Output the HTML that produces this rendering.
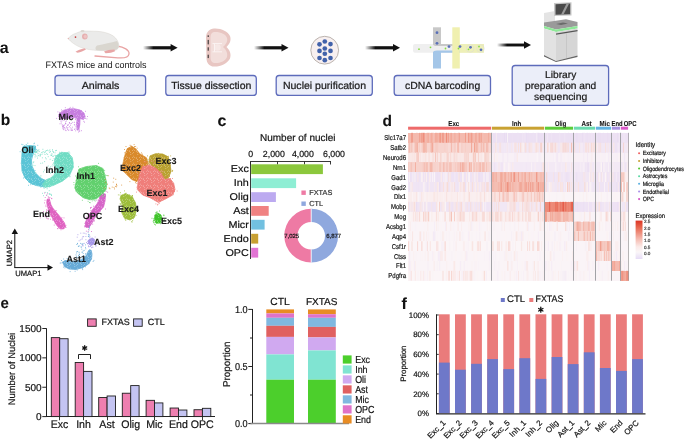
<!DOCTYPE html><html><head><meta charset="utf-8"><style>html,body{margin:0;padding:0;background:#fff;overflow:hidden}svg{display:block;font-family:"Liberation Sans", sans-serif;text-rendering:geometricPrecision;will-change:transform}</style></head><body><svg width="685" height="440" viewBox="0 0 685 440"><rect width="685" height="440" fill="#fff"/><text x="-0.20" y="53.30" font-size="16" font-weight="bold" text-anchor="start" fill="#111" >a</text>
<defs><linearGradient id="ag143" x1="143" x2="177.6" y1="0" y2="0" gradientUnits="userSpaceOnUse"><stop offset="0" stop-color="#111" stop-opacity="0"/><stop offset="0.3" stop-color="#111" stop-opacity="1"/><stop offset="1" stop-color="#111"/></linearGradient></defs>
<rect x="143.00" y="46.20" width="28.60" height="3.2" fill="url(#ag143)"/>
<path d="M170.60,44.10 L177.60,47.80 L170.60,51.50 Z" fill="#111"/>
<defs><linearGradient id="ag254" x1="254" x2="288.5" y1="0" y2="0" gradientUnits="userSpaceOnUse"><stop offset="0" stop-color="#111" stop-opacity="0"/><stop offset="0.3" stop-color="#111" stop-opacity="1"/><stop offset="1" stop-color="#111"/></linearGradient></defs>
<rect x="254.00" y="46.20" width="28.50" height="3.2" fill="url(#ag254)"/>
<path d="M281.50,44.10 L288.50,47.80 L281.50,51.50 Z" fill="#111"/>
<defs><linearGradient id="ag365" x1="365" x2="400" y1="0" y2="0" gradientUnits="userSpaceOnUse"><stop offset="0" stop-color="#111" stop-opacity="0"/><stop offset="0.3" stop-color="#111" stop-opacity="1"/><stop offset="1" stop-color="#111"/></linearGradient></defs>
<rect x="365.00" y="46.20" width="29.00" height="3.2" fill="url(#ag365)"/>
<path d="M393.00,44.10 L400.00,47.80 L393.00,51.50 Z" fill="#111"/>
<defs><linearGradient id="ag497" x1="497" x2="531" y1="0" y2="0" gradientUnits="userSpaceOnUse"><stop offset="0" stop-color="#111" stop-opacity="0"/><stop offset="0.3" stop-color="#111" stop-opacity="1"/><stop offset="1" stop-color="#111"/></linearGradient></defs>
<rect x="497.00" y="43.55" width="28.00" height="2.9" fill="url(#ag497)"/>
<path d="M524.00,41.30 L531.00,45.00 L524.00,48.70 Z" fill="#111"/>
<rect x="55.00" y="75.50" width="90.60" height="19.90" rx="3" ry="3" fill="#ebeef9" stroke="#5d6bbb" stroke-width="1.3"/>
<text x="100.55" y="89.20" font-size="10.3" text-anchor="middle" fill="#1a1a1a" stroke="#1a1a1a" stroke-width="0.22" textLength="37.8" lengthAdjust="spacingAndGlyphs">Animals</text>
<rect x="165.80" y="75.50" width="90.50" height="19.90" rx="3" ry="3" fill="#ebeef9" stroke="#5d6bbb" stroke-width="1.3"/>
<text x="211.30" y="89.20" font-size="10.3" text-anchor="middle" fill="#1a1a1a" stroke="#1a1a1a" stroke-width="0.22" textLength="80.2" lengthAdjust="spacingAndGlyphs">Tissue dissection</text>
<rect x="276.20" y="75.50" width="96.10" height="19.90" rx="3" ry="3" fill="#ebeef9" stroke="#5d6bbb" stroke-width="1.3"/>
<text x="324.50" y="89.20" font-size="10.3" text-anchor="middle" fill="#1a1a1a" stroke="#1a1a1a" stroke-width="0.22" textLength="83.2" lengthAdjust="spacingAndGlyphs">Nuclei purification</text>
<rect x="394.20" y="75.50" width="96.30" height="19.90" rx="3" ry="3" fill="#ebeef9" stroke="#5d6bbb" stroke-width="1.3"/>
<text x="442.60" y="89.20" font-size="10.3" text-anchor="middle" fill="#1a1a1a" stroke="#1a1a1a" stroke-width="0.22" textLength="75.2" lengthAdjust="spacingAndGlyphs">cDNA barcoding</text>
<rect x="512.20" y="65.50" width="96.40" height="39.90" rx="3" ry="3" fill="#ebeef9" stroke="#5d6bbb" stroke-width="1.3"/>
<text x="560.65" y="77.60" font-size="10" text-anchor="middle" fill="#1a1a1a" stroke="#1a1a1a" stroke-width="0.22" textLength="31.2" lengthAdjust="spacingAndGlyphs">Library</text>
<text x="560.65" y="89.00" font-size="10" text-anchor="middle" fill="#1a1a1a" stroke="#1a1a1a" stroke-width="0.22" textLength="71.2" lengthAdjust="spacingAndGlyphs">preparation and</text>
<text x="560.65" y="100.40" font-size="10" text-anchor="middle" fill="#1a1a1a" stroke="#1a1a1a" stroke-width="0.22" textLength="53.2" lengthAdjust="spacingAndGlyphs">sequencing</text>
<text x="45.50" y="67.50" font-size="9.4" text-anchor="start" fill="#141414" textLength="101" lengthAdjust="spacingAndGlyphs">FXTAS mice and controls</text>
<g>
<path d="M117,46 C124,47 129.5,50 129,54 C128.5,57.5 124,58.3 118,57.8 C110,57.2 102,56.5 95,56" fill="none" stroke="#e9a4a4" stroke-width="1.3" stroke-linecap="round"/>
<path d="M68,38.5 C70,36 73,34.2 76.5,33 C79,32 81,31.2 83,31 C88,31 92,31.2 97,31.3 C103,31.6 109,33.2 113,35.8 C116.5,38.3 118.8,42 118.8,45.5 C118.8,48 117.5,49.6 115.5,50.2 C110,50.8 104,50.8 98,50.5 C92,50.2 86,49.3 80.5,47.3 C75.5,45.3 71,42.2 68,38.5 Z" fill="#ebebea" stroke="#d8d5ce" stroke-width="0.5"/>
<path d="M97,45.5 C104,44 111,42.5 117,41 C118.5,43.5 119,46 118.5,47.5 C117.5,49.6 115,50.2 112,50.5 C106,50.8 100,50.5 96,50 C95,48.5 95.5,46.5 97,45.5 Z" fill="#d9d6cf"/>
<ellipse cx="84.8" cy="36.4" rx="2.8" ry="3.0" fill="#e6b0b0"/>
<ellipse cx="85.3" cy="36.6" rx="1.6" ry="1.8" fill="#eec4c4"/>
<ellipse cx="82.5" cy="31.2" rx="2.0" ry="1.1" fill="#dcd8d2"/>
<circle cx="75.5" cy="37.1" r="0.85" fill="#c43a3a"/>
<circle cx="68.4" cy="38.6" r="0.7" fill="#e8b0b0"/>
<path d="M75.5,51.8 C77.5,50.4 81,49.2 84.5,48.3 L86,49.5 C83.5,50.8 80.5,52.2 77.5,52.8 Z" fill="#e8a6a6"/>
<path d="M104,51.5 C106.5,50.3 110.5,49.8 114.5,49.6 L115,51.3 C112.5,52.6 109,53.4 105.5,53.3 Z" fill="#e8a6a6"/>
</g>
<g>
<path d="M214,28.5 C221,28 228,31.5 230,36 C231.5,40 229.8,44 226.5,47 C229.8,50 231.5,54 230,58.5 C228,63 221,66.8 214,66.6 C209,66.4 206.5,63 206.5,58 L206,37 C206.3,32 209.5,28.7 214,28.5 Z" fill="#e8c6c2"/>
<path d="M214,32 C220,31.5 226,34 227,38 C228,41 226,44.5 223,47 C226,49.5 228,53 227,57 C225.5,61 220,63.5 214,63 C211.5,62.5 210.5,60 210.5,57 L210.5,37 C210.5,34 212,32.2 214,32 Z" fill="#f2dedb"/>
<circle cx="217.5" cy="47.5" r="3.2" fill="#f6e8e6"/>
<path d="M212.5,43.6 H222 M212.5,51.8 H222 M214.5,43.6 V51.8" stroke="#fbf3f2" stroke-width="1" fill="none"/>
<path d="M208.2,35.3 V37 M208.2,39.9 V44.4 M208.2,47.3 V50.7 M208.2,54.7 V58.1" stroke="#222" stroke-width="1"/>
</g>
<circle cx="324.7" cy="50.2" r="13.9" fill="#f8f0f0" stroke="#a09890" stroke-width="0.7"/>
<circle cx="324.8" cy="41.5" r="2.35" fill="#4262aa"/>
<circle cx="319.5" cy="44.3" r="2.35" fill="#4262aa"/>
<circle cx="330.5" cy="44.1" r="2.35" fill="#4262aa"/>
<circle cx="324.8" cy="48.5" r="2.35" fill="#4262aa"/>
<circle cx="319.5" cy="50.9" r="2.35" fill="#4262aa"/>
<circle cx="330.5" cy="50.9" r="2.35" fill="#4262aa"/>
<circle cx="324.8" cy="53.75" r="2.35" fill="#4262aa"/>
<circle cx="319.5" cy="58" r="2.35" fill="#4262aa"/>
<circle cx="330.5" cy="58" r="2.35" fill="#4262aa"/>
<circle cx="324.8" cy="60.2" r="2.35" fill="#4262aa"/>
<g>
<rect x="413" y="44" width="71" height="8.8" rx="2" fill="#efefef"/>
<rect x="459.5" y="44" width="24.5" height="8.8" fill="#eef0b8"/>
<rect x="433" y="27.3" width="8" height="17" fill="#c8c8c8"/>
<path d="M433,44 H453 V46 H437 Q433,46 433,44 Z" fill="#c8c8c8"/>
<rect x="433" y="52" width="8" height="16.5" fill="#a4c6e8"/>
<path d="M433,52.8 Q433,50.5 437,50.5 H460 V52.8 Z" fill="#a4c6e8"/>
<rect x="452.3" y="27.3" width="7.5" height="41.2" fill="#f0f0b0"/>
<circle cx="437" cy="32.7" r="1.4" fill="#5a70b8"/>
<circle cx="437" cy="43.3" r="1.4" fill="#5a70b8"/>
<circle cx="449" cy="46.6" r="1.4" fill="#5a70b8"/>
<circle cx="460" cy="46.6" r="1.4" fill="#5a70b8"/>
<circle cx="470.5" cy="47.3" r="1.4" fill="#5a70b8"/>
<circle cx="481" cy="49.8" r="1.4" fill="#5a70b8"/>
<circle cx="419" cy="49.2" r="0.9" fill="#88dd44"/>
<circle cx="430.5" cy="47.3" r="0.9" fill="#88dd44"/>
<circle cx="445.5" cy="48.5" r="0.9" fill="#88dd44"/>
<circle cx="458.5" cy="48.5" r="0.9" fill="#88dd44"/>
<circle cx="468.5" cy="49.3" r="0.9" fill="#88dd44"/>
<circle cx="479" cy="46.5" r="0.9" fill="#88dd44"/>
<circle cx="470.2" cy="48.5" r="3.8" fill="none" stroke="#d8d8d8" stroke-width="0.5"/>
<circle cx="480.5" cy="48.5" r="3.8" fill="none" stroke="#d8d8d8" stroke-width="0.5"/>
</g>
<g>
<path d="M544,13 L555,11 L555,22 L544,24 Z" fill="#e4e4e4"/>
<path d="M554,3 L571.5,2.2 L571.5,15.5 L554,16 Z" fill="#c8c8c8"/>
<path d="M555.5,4.2 L570.2,3.6 L570.2,14.3 L555.5,14.8 Z" fill="#4a4a4a"/>
<path d="M561,14.8 L566.5,3.8 L569,3.7 L563.5,14.6 Z" fill="#9a9a9a"/>
<path d="M544,22.5 L566,19.2 L577.5,22 L577.5,26 L556,29.5 L544,26 Z" fill="#9a9a9a"/>
<path d="M556,24 L563,22.5 L568,23.5 L561,25 Z" fill="#6a6a6a"/>
<path d="M544,26 L556,29.5 L577.5,26 L577.5,28.5 L556,32 L544,28.5 Z" fill="#8ee898"/>
<path d="M544,28.5 L556,32 L556,61 L544,55 Z" fill="#e2e2e2"/>
<path d="M556,32 L577.5,28.5 L577.5,55.5 L556,61 Z" fill="#d6d6d6"/>
<path d="M556,33.5 L577.5,30 L577.5,31.2 L556,34.8 Z" fill="#555"/>
<line x1="566.5" y1="33" x2="566.5" y2="58.3" stroke="#bdbdbd" stroke-width="0.6"/>
<path d="M544,55 L556,61 L577.5,55.5 L577.5,57 L556,62 L544,56.5 Z" fill="#666"/>
</g>
<text x="0.80" y="125.20" font-size="15.5" font-weight="bold" fill="#111" stroke="#111" stroke-width="0.1" >b</text>
<defs><pattern id="speck" x="0" y="0" width="7" height="7" patternUnits="userSpaceOnUse"><circle cx="3.17" cy="3.92" r="0.38" fill="#fff"/><circle cx="6.47" cy="3.26" r="0.38" fill="#fff"/><circle cx="3.55" cy="4.11" r="0.38" fill="#fff"/><circle cx="1.29" cy="3.58" r="0.38" fill="#fff"/><circle cx="4.41" cy="5.55" r="0.38" fill="#fff"/><circle cx="0.66" cy="2.12" r="0.38" fill="#fff"/><circle cx="0.63" cy="5.67" r="0.38" fill="#fff"/><circle cx="4.85" cy="0.29" r="0.38" fill="#fff"/><circle cx="6.88" cy="6.75" r="0.38" fill="#fff"/></pattern></defs>
<path d="M58.7,117.0 L59.5,113.5 L63.0,110.5 L68.0,109.0 L74.0,108.7 L80.0,110.0 L84.0,113.0 L85.2,117.0 L83.5,119.5 L80.0,118.5 L79.8,124.0 L78.8,130.0 L77.0,130.0 L76.8,124.0 L77.0,118.5 L75.0,117.5 L70.0,118.0 L65.0,118.5 L61.0,118.5 Z" fill="#c77ee0" stroke="#c77ee0" stroke-width="0.8" stroke-linejoin="round"/>
<path d="M58.7,117.0 L59.5,113.5 L63.0,110.5 L68.0,109.0 L74.0,108.7 L80.0,110.0 L84.0,113.0 L85.2,117.0 L83.5,119.5 L80.0,118.5 L79.8,124.0 L78.8,130.0 L77.0,130.0 L76.8,124.0 L77.0,118.5 L75.0,117.5 L70.0,118.0 L65.0,118.5 L61.0,118.5 Z" fill="url(#speck)" fill-opacity="0.8"/>
<path d="M72.9,107.3h0.01 M56.7,118.4h0.01 M85.3,118.5h0.01 M87.6,116.5h0.01 M58.5,114.8h0.01 M59.5,112.4h0.01 M81.6,110.6h0.01 M73.9,117.9h0.01 M65.3,107.7h0.01 M86.9,118.9h0.01 M74.4,129.4h0.01 M61.6,109.9h0.01 M79.7,131.4h0.01 M84.4,122.2h0.01 M69.4,108.5h0.01 M57.9,111.9h0.01 M85.5,111.3h0.01 M70.2,107.4h0.01 M78.5,132.0h0.01 M79.7,130.3h0.01 M79.7,124.9h0.01 M81.5,130.7h0.01 M83.8,121.3h0.01 M74.6,122.3h0.01 M75.7,130.8h0.01" stroke="#c77ee0" stroke-width="0.9" stroke-linecap="round"/>
<path d="M23.0,146.5 L29.0,145.5 L35.5,146.0 L35.5,150.0 L33.0,154.0 L31.5,160.0 L32.0,166.0 L35.0,172.5 L40.5,178.0 L46.5,181.0 L47.0,186.0 L42.0,186.5 L36.0,185.5 L30.0,183.0 L25.0,178.0 L22.0,171.0 L21.5,162.0 L22.0,153.0 Z" fill="#5ac4d6" stroke="#5ac4d6" stroke-width="0.8" stroke-linejoin="round"/>
<path d="M23.0,146.5 L29.0,145.5 L35.5,146.0 L35.5,150.0 L33.0,154.0 L31.5,160.0 L32.0,166.0 L35.0,172.5 L40.5,178.0 L46.5,181.0 L47.0,186.0 L42.0,186.5 L36.0,185.5 L30.0,183.0 L25.0,178.0 L22.0,171.0 L21.5,162.0 L22.0,153.0 Z" fill="url(#speck)" fill-opacity="0.8"/>
<path d="M32.4,184.4h0.01 M40.9,187.2h0.01 M32.7,155.4h0.01 M28.4,181.9h0.01 M22.9,144.7h0.01 M43.9,187.5h0.01 M46.2,179.9h0.01 M28.6,185.3h0.01 M21.1,163.2h0.01 M33.9,143.8h0.01 M36.5,151.9h0.01 M48.6,185.9h0.01 M24.5,145.8h0.01 M21.8,144.3h0.01 M36.4,149.4h0.01 M34.6,143.2h0.01 M46.6,180.2h0.01 M20.1,151.7h0.01 M37.8,145.3h0.01 M35.1,170.6h0.01 M27.8,143.2h0.01 M26.2,144.5h0.01 M23.4,178.0h0.01 M30.8,184.7h0.01 M49.6,186.9h0.01" stroke="#5ac4d6" stroke-width="0.9" stroke-linecap="round"/>
<path d="M56.0,156.0 L61.3,152.3 L68.1,152.8 L72.2,157.5 L73.2,163.0 L72.9,168.0 L69.5,175.4 L62.7,181.0 L53.1,185.5 L45.0,187.5 L42.5,184.0 L46.3,180.0 L53.1,176.8 L55.9,171.3 L54.8,165.0 L54.5,160.4 Z" fill="#70dcc4" stroke="#70dcc4" stroke-width="0.8" stroke-linejoin="round"/>
<path d="M56.0,156.0 L61.3,152.3 L68.1,152.8 L72.2,157.5 L73.2,163.0 L72.9,168.0 L69.5,175.4 L62.7,181.0 L53.1,185.5 L45.0,187.5 L42.5,184.0 L46.3,180.0 L53.1,176.8 L55.9,171.3 L54.8,165.0 L54.5,160.4 Z" fill="url(#speck)" fill-opacity="0.8"/>
<path d="M42.2,186.6h0.01 M55.3,169.0h0.01 M43.7,186.1h0.01 M52.7,160.5h0.01 M59.4,152.3h0.01 M43.1,185.4h0.01 M68.0,152.4h0.01 M73.0,167.3h0.01 M52.9,164.3h0.01 M54.0,165.3h0.01 M69.0,151.9h0.01 M44.8,180.0h0.01 M54.0,163.2h0.01 M73.1,166.2h0.01 M69.8,176.8h0.01 M54.9,155.3h0.01 M53.3,156.2h0.01 M48.1,178.9h0.01 M45.0,181.0h0.01 M70.0,176.2h0.01 M53.3,171.5h0.01 M69.8,153.1h0.01 M73.3,166.9h0.01 M53.7,163.0h0.01 M52.1,176.1h0.01" stroke="#70dcc4" stroke-width="0.9" stroke-linecap="round"/>
<path d="M47.0,199.5 L49.5,199.5 L51.0,205.0 L53.5,209.0 L57.0,213.0 L61.0,218.0 L64.5,223.0 L65.5,227.0 L63.5,229.0 L59.5,228.5 L56.5,225.0 L53.0,219.0 L50.0,213.5 L48.0,208.0 L46.8,203.0 Z" fill="#df62c1" stroke="#df62c1" stroke-width="0.8" stroke-linejoin="round"/>
<path d="M47.0,199.5 L49.5,199.5 L51.0,205.0 L53.5,209.0 L57.0,213.0 L61.0,218.0 L64.5,223.0 L65.5,227.0 L63.5,229.0 L59.5,228.5 L56.5,225.0 L53.0,219.0 L50.0,213.5 L48.0,208.0 L46.8,203.0 Z" fill="url(#speck)" fill-opacity="0.8"/>
<path d="M46.4,209.9h0.01 M45.9,205.2h0.01 M64.0,217.9h0.01 M44.6,202.9h0.01 M48.7,213.1h0.01 M47.3,210.2h0.01 M55.4,211.1h0.01 M57.8,228.6h0.01 M51.7,198.4h0.01 M61.9,217.7h0.01 M56.2,210.6h0.01 M49.6,198.9h0.01 M54.2,225.1h0.01 M57.8,228.6h0.01 M51.8,198.7h0.01 M65.9,225.4h0.01 M45.0,200.3h0.01 M66.0,227.4h0.01 M61.0,229.8h0.01 M53.0,220.0h0.01 M50.6,219.2h0.01 M46.0,206.6h0.01 M50.7,216.0h0.01 M55.2,223.1h0.01 M52.7,219.9h0.01" stroke="#df62c1" stroke-width="0.9" stroke-linecap="round"/>
<path d="M100.0,193.5 L105.5,194.0 L105.0,201.0 L103.5,207.0 L99.0,212.0 L94.5,218.0 L92.0,223.0 L89.0,227.5 L85.5,227.0 L85.5,222.0 L88.5,216.0 L93.0,209.0 L97.0,204.0 L99.5,199.0 Z" fill="#d665c8" stroke="#d665c8" stroke-width="0.8" stroke-linejoin="round"/>
<path d="M100.0,193.5 L105.5,194.0 L105.0,201.0 L103.5,207.0 L99.0,212.0 L94.5,218.0 L92.0,223.0 L89.0,227.5 L85.5,227.0 L85.5,222.0 L88.5,216.0 L93.0,209.0 L97.0,204.0 L99.5,199.0 Z" fill="url(#speck)" fill-opacity="0.8"/>
<path d="M100.3,211.3h0.01 M98.3,199.9h0.01 M94.0,221.4h0.01 M88.3,213.7h0.01 M84.4,226.8h0.01 M89.4,214.0h0.01 M84.8,223.3h0.01 M86.7,218.1h0.01 M107.7,192.2h0.01 M94.3,220.3h0.01 M105.6,196.2h0.01 M96.8,200.2h0.01 M99.4,192.8h0.01 M105.5,209.0h0.01 M92.7,224.2h0.01 M90.5,208.4h0.01 M106.1,191.3h0.01 M84.7,225.8h0.01 M98.0,191.8h0.01 M90.6,207.5h0.01 M98.9,194.1h0.01 M93.6,206.2h0.01 M91.0,210.4h0.01 M86.8,217.1h0.01 M91.4,207.4h0.01" stroke="#d665c8" stroke-width="0.9" stroke-linecap="round"/>
<path d="M79.0,169.0 L86.5,166.5 L96.4,165.5 L103.0,168.5 L105.0,176.0 L106.8,183.6 L106.0,189.5 L102.0,194.0 L96.4,198.8 L90.0,199.8 L83.0,197.5 L77.5,193.0 L74.8,188.0 L76.0,182.5 L77.0,175.5 Z" fill="#62d06e" stroke="#62d06e" stroke-width="0.8" stroke-linejoin="round"/>
<path d="M79.0,169.0 L86.5,166.5 L96.4,165.5 L103.0,168.5 L105.0,176.0 L106.8,183.6 L106.0,189.5 L102.0,194.0 L96.4,198.8 L90.0,199.8 L83.0,197.5 L77.5,193.0 L74.8,188.0 L76.0,182.5 L77.0,175.5 Z" fill="url(#speck)" fill-opacity="0.8"/>
<path d="M98.4,163.4h0.01 M73.9,182.5h0.01 M95.2,201.0h0.01 M85.0,198.2h0.01 M75.7,190.9h0.01 M76.1,180.7h0.01 M103.8,195.9h0.01 M103.4,194.8h0.01 M76.6,177.7h0.01 M94.1,200.4h0.01 M102.2,196.3h0.01 M78.5,166.8h0.01 M105.7,175.0h0.01 M90.2,202.7h0.01 M74.0,184.7h0.01 M82.3,200.3h0.01 M103.3,193.4h0.01 M106.2,175.5h0.01 M75.4,176.0h0.01 M92.2,200.9h0.01 M88.1,201.3h0.01 M107.8,175.5h0.01 M89.6,202.5h0.01 M104.9,191.2h0.01 M104.7,170.4h0.01" stroke="#62d06e" stroke-width="0.9" stroke-linecap="round"/>
<path d="M88.5,240.0 L92.0,238.0 L94.5,239.5 L94.0,244.0 L91.0,245.5 L88.5,243.5 Z" fill="#a596e8" stroke="#a596e8" stroke-width="0.8" stroke-linejoin="round"/>
<path d="M88.5,240.0 L92.0,238.0 L94.5,239.5 L94.0,244.0 L91.0,245.5 L88.5,243.5 Z" fill="url(#speck)" fill-opacity="0.8"/>
<path d="M86.4,242.5h0.01 M94.9,241.6h0.01 M88.4,245.8h0.01 M95.8,245.4h0.01 M92.1,247.2h0.01 M95.1,237.0h0.01 M89.9,236.4h0.01 M85.9,239.7h0.01 M95.9,246.3h0.01 M90.2,246.5h0.01 M92.9,247.2h0.01 M88.0,243.5h0.01 M96.0,244.8h0.01 M87.9,244.0h0.01 M89.6,239.3h0.01 M96.8,243.2h0.01 M89.8,237.6h0.01 M87.3,243.5h0.01 M90.6,246.1h0.01 M91.6,247.7h0.01 M89.7,244.5h0.01 M88.3,242.8h0.01 M88.9,246.8h0.01 M88.9,246.5h0.01 M96.7,240.2h0.01" stroke="#a596e8" stroke-width="0.9" stroke-linecap="round"/>
<path d="M62.4,262.0 L66.0,260.5 L72.0,261.5 L79.0,260.5 L84.0,258.0 L87.0,254.5 L88.5,250.5 L91.0,250.0 L92.0,254.0 L91.5,259.0 L88.5,264.0 L83.0,267.5 L76.0,269.5 L69.0,269.0 L64.5,266.5 Z" fill="#67abd8" stroke="#67abd8" stroke-width="0.8" stroke-linejoin="round"/>
<path d="M62.4,262.0 L66.0,260.5 L72.0,261.5 L79.0,260.5 L84.0,258.0 L87.0,254.5 L88.5,250.5 L91.0,250.0 L92.0,254.0 L91.5,259.0 L88.5,264.0 L83.0,267.5 L76.0,269.5 L69.0,269.0 L64.5,266.5 Z" fill="url(#speck)" fill-opacity="0.8"/>
<path d="M75.1,271.3h0.01 M83.2,255.8h0.01 M60.2,263.1h0.01 M88.9,263.6h0.01 M85.4,266.8h0.01 M63.7,259.0h0.01 M63.4,267.1h0.01 M70.1,259.9h0.01 M87.1,253.3h0.01 M67.1,258.5h0.01 M79.3,258.7h0.01 M89.7,249.7h0.01 M93.9,260.4h0.01 M64.9,267.9h0.01 M65.0,260.5h0.01 M70.1,271.6h0.01 M82.3,268.6h0.01 M71.1,259.5h0.01 M82.7,269.6h0.01 M93.1,261.5h0.01 M77.2,270.0h0.01 M85.7,253.6h0.01 M61.6,260.5h0.01 M70.6,259.7h0.01 M61.1,262.9h0.01" stroke="#67abd8" stroke-width="0.9" stroke-linecap="round"/>
<path d="M127.3,148.6 L131.8,146.3 L135.5,148.6 L140.0,154.0 L146.4,157.7 L148.2,164.0 L142.7,171.4 L140.0,178.6 L136.4,181.4 L131.8,179.5 L127.3,175.0 L121.8,169.5 L123.6,160.5 L125.5,153.2 Z" fill="#d98a2b" stroke="#d98a2b" stroke-width="0.8" stroke-linejoin="round"/>
<path d="M127.3,148.6 L131.8,146.3 L135.5,148.6 L140.0,154.0 L146.4,157.7 L148.2,164.0 L142.7,171.4 L140.0,178.6 L136.4,181.4 L131.8,179.5 L127.3,175.0 L121.8,169.5 L123.6,160.5 L125.5,153.2 Z" fill="url(#speck)" fill-opacity="0.8"/>
<path d="M136.7,181.4h0.01 M137.0,181.2h0.01 M134.1,144.6h0.01 M140.6,181.4h0.01 M124.1,157.7h0.01 M141.4,152.9h0.01 M136.9,183.4h0.01 M148.3,162.0h0.01 M142.4,154.2h0.01 M140.2,181.1h0.01 M149.4,164.1h0.01 M137.1,148.2h0.01 M135.7,146.5h0.01 M134.5,146.5h0.01 M135.6,182.7h0.01 M145.7,171.6h0.01 M124.5,149.5h0.01 M124.8,152.8h0.01 M131.1,146.0h0.01 M129.9,181.6h0.01 M123.2,171.2h0.01 M149.6,161.9h0.01 M130.1,145.3h0.01 M126.0,146.5h0.01 M148.7,164.0h0.01" stroke="#d98a2b" stroke-width="0.9" stroke-linecap="round"/>
<path d="M150.0,155.9 L155.5,153.7 L162.7,154.0 L168.2,156.8 L170.0,164.0 L171.0,171.4 L168.2,178.6 L163.6,179.5 L161.0,174.0 L156.4,169.5 L151.8,165.9 L149.0,161.4 Z" fill="#b9a12f" stroke="#b9a12f" stroke-width="0.8" stroke-linejoin="round"/>
<path d="M150.0,155.9 L155.5,153.7 L162.7,154.0 L168.2,156.8 L170.0,164.0 L171.0,171.4 L168.2,178.6 L163.6,179.5 L161.0,174.0 L156.4,169.5 L151.8,165.9 L149.0,161.4 Z" fill="url(#speck)" fill-opacity="0.8"/>
<path d="M147.5,155.9h0.01 M146.4,160.4h0.01 M170.7,169.2h0.01 M170.7,155.9h0.01 M153.5,169.0h0.01 M158.4,153.4h0.01 M169.2,176.1h0.01 M161.5,180.8h0.01 M169.4,176.3h0.01 M168.4,156.3h0.01 M163.1,179.7h0.01 M172.1,171.2h0.01 M161.9,180.7h0.01 M165.2,180.7h0.01 M172.7,170.4h0.01 M172.6,171.0h0.01 M164.0,180.5h0.01 M150.2,168.2h0.01 M148.0,159.3h0.01 M149.6,164.2h0.01 M157.3,171.4h0.01 M148.0,163.1h0.01 M170.6,165.2h0.01 M157.2,172.0h0.01 M158.2,171.5h0.01" stroke="#b9a12f" stroke-width="0.9" stroke-linecap="round"/>
<path d="M142.7,166.8 L150.0,165.0 L156.4,168.6 L161.0,173.2 L164.5,179.5 L170.0,178.6 L173.6,183.2 L175.0,189.5 L172.7,195.0 L164.5,199.5 L158.2,202.3 L150.0,197.7 L142.7,195.0 L137.3,189.5 L138.2,180.5 L140.0,173.2 Z" fill="#ef7e7a" stroke="#ef7e7a" stroke-width="0.8" stroke-linejoin="round"/>
<path d="M142.7,166.8 L150.0,165.0 L156.4,168.6 L161.0,173.2 L164.5,179.5 L170.0,178.6 L173.6,183.2 L175.0,189.5 L172.7,195.0 L164.5,199.5 L158.2,202.3 L150.0,197.7 L142.7,195.0 L137.3,189.5 L138.2,180.5 L140.0,173.2 Z" fill="url(#speck)" fill-opacity="0.8"/>
<path d="M157.9,204.4h0.01 M161.1,171.6h0.01 M136.9,187.2h0.01 M168.4,176.1h0.01 M157.5,204.9h0.01 M159.2,203.3h0.01 M170.5,178.5h0.01 M164.9,176.6h0.01 M174.3,191.3h0.01 M136.4,192.1h0.01 M173.1,194.7h0.01 M137.6,172.7h0.01 M158.9,202.7h0.01 M163.0,171.3h0.01 M162.1,173.4h0.01 M140.4,170.7h0.01 M155.9,203.9h0.01 M174.4,191.2h0.01 M177.1,191.0h0.01 M160.2,201.6h0.01 M140.8,169.0h0.01 M172.6,178.5h0.01 M139.2,174.4h0.01 M142.6,166.9h0.01 M161.2,170.4h0.01" stroke="#ef7e7a" stroke-width="0.9" stroke-linecap="round"/>
<path d="M121.0,195.5 L125.5,193.6 L131.8,196.4 L135.5,202.7 L136.4,210.0 L134.5,217.3 L130.0,220.0 L124.5,218.2 L121.8,212.7 L122.7,204.5 L120.0,199.0 Z" fill="#9dbd3a" stroke="#9dbd3a" stroke-width="0.8" stroke-linejoin="round"/>
<path d="M121.0,195.5 L125.5,193.6 L131.8,196.4 L135.5,202.7 L136.4,210.0 L134.5,217.3 L130.0,220.0 L124.5,218.2 L121.8,212.7 L122.7,204.5 L120.0,199.0 Z" fill="url(#speck)" fill-opacity="0.8"/>
<path d="M124.5,190.9h0.01 M136.9,209.6h0.01 M132.7,220.6h0.01 M121.2,203.3h0.01 M136.1,215.4h0.01 M133.6,218.7h0.01 M131.7,221.7h0.01 M120.2,203.7h0.01 M129.6,194.9h0.01 M121.3,205.1h0.01 M132.5,196.7h0.01 M133.0,198.1h0.01 M132.4,195.5h0.01 M121.5,210.6h0.01 M132.1,222.0h0.01 M120.6,192.7h0.01 M136.8,208.6h0.01 M118.3,194.9h0.01 M125.8,220.4h0.01 M126.0,193.2h0.01 M132.2,195.5h0.01 M120.3,204.3h0.01 M125.2,219.4h0.01 M120.0,195.0h0.01 M121.8,205.0h0.01" stroke="#9dbd3a" stroke-width="0.9" stroke-linecap="round"/>
<path d="M155.0,215.0 L158.0,213.2 L161.0,215.0 L161.8,219.0 L160.0,223.0 L156.0,223.2 L154.5,219.0 Z" fill="#3fc42a" stroke="#3fc42a" stroke-width="0.8" stroke-linejoin="round"/>
<path d="M155.0,215.0 L158.0,213.2 L161.0,215.0 L161.8,219.0 L160.0,223.0 L156.0,223.2 L154.5,219.0 Z" fill="url(#speck)" fill-opacity="0.8"/>
<path d="M159.5,211.0h0.01 M163.9,215.6h0.01 M153.4,222.7h0.01 M155.5,224.9h0.01 M154.3,220.5h0.01 M164.1,220.1h0.01 M152.0,218.3h0.01 M153.4,218.9h0.01 M155.7,212.9h0.01 M161.4,222.3h0.01 M160.8,221.8h0.01 M157.7,212.1h0.01 M162.5,218.1h0.01 M156.4,213.0h0.01 M164.5,219.9h0.01 M153.2,221.4h0.01 M161.7,219.9h0.01 M162.8,223.0h0.01 M160.5,223.7h0.01 M154.8,215.2h0.01 M163.8,215.0h0.01 M156.5,212.1h0.01 M153.4,220.4h0.01 M154.9,222.3h0.01 M154.5,224.2h0.01" stroke="#3fc42a" stroke-width="0.9" stroke-linecap="round"/>
<path d="M40.8,163.3h0.01 M37.4,158.1h0.01 M42.3,157.8h0.01 M49.0,150.8h0.01 M47.1,172.5h0.01 M40.2,155.4h0.01 M35.6,152.2h0.01 M50.4,166.9h0.01 M33.3,162.7h0.01 M46.2,158.9h0.01 M33.8,161.8h0.01 M40.8,177.2h0.01 M40.9,175.8h0.01 M52.1,166.1h0.01 M35.8,172.6h0.01 M35.0,165.6h0.01 M35.1,152.6h0.01 M42.0,154.4h0.01 M54.8,166.2h0.01 M52.7,176.8h0.01 M49.7,168.1h0.01 M43.4,171.8h0.01 M47.7,154.4h0.01 M44.7,161.6h0.01 M44.3,170.0h0.01 M48.2,166.0h0.01 M50.4,173.1h0.01 M35.0,154.1h0.01 M34.0,154.5h0.01 M54.1,158.7h0.01 M42.7,163.0h0.01 M45.4,157.8h0.01 M50.1,159.3h0.01 M51.6,172.5h0.01 M33.0,165.3h0.01" stroke="#70dcc4" stroke-width="0.9" stroke-linecap="round"/>
<path d="M37.0,156.1h0.01 M36.5,151.1h0.01 M51.9,153.7h0.01 M49.7,152.3h0.01 M46.5,150.6h0.01 M45.2,151.1h0.01 M49.9,149.9h0.01 M38.0,150.6h0.01 M46.7,153.7h0.01 M35.1,156.9h0.01 M53.4,152.0h0.01 M38.5,155.6h0.01 M56.5,150.4h0.01 M51.6,155.5h0.01 M55.6,150.7h0.01 M37.7,150.3h0.01 M40.1,156.2h0.01 M55.0,152.8h0.01 M37.8,151.8h0.01 M40.3,154.2h0.01 M50.8,155.2h0.01 M44.6,152.7h0.01 M45.3,152.0h0.01 M45.0,154.5h0.01 M50.6,151.6h0.01 M47.5,150.2h0.01 M36.0,152.1h0.01 M42.9,149.3h0.01 M36.7,152.4h0.01 M55.7,155.7h0.01 M35.7,151.5h0.01 M43.1,151.5h0.01 M38.0,153.7h0.01 M53.5,152.1h0.01 M38.9,149.8h0.01 M35.3,155.1h0.01 M40.1,154.8h0.01 M52.4,149.7h0.01 M39.2,151.5h0.01 M51.9,154.9h0.01 M41.7,152.6h0.01 M42.8,152.8h0.01 M52.5,151.1h0.01 M52.8,156.4h0.01 M48.2,156.7h0.01" stroke="#70dcc4" stroke-width="0.9" stroke-linecap="round"/>
<path d="M77.8,120.2h0.01 M78.8,120.6h0.01 M75.3,119.6h0.01 M65.8,123.7h0.01 M75.9,126.8h0.01 M63.9,129.7h0.01 M76.4,124.6h0.01 M61.0,121.7h0.01 M65.6,123.4h0.01 M77.9,125.7h0.01 M75.6,118.9h0.01 M64.7,127.5h0.01 M66.5,121.0h0.01 M61.2,118.7h0.01 M67.8,125.1h0.01 M67.6,125.3h0.01 M65.5,118.2h0.01 M72.8,122.4h0.01 M69.3,122.9h0.01 M65.1,118.7h0.01 M65.6,121.9h0.01 M62.2,118.4h0.01 M69.1,118.3h0.01 M76.7,122.7h0.01 M68.4,124.8h0.01 M60.5,119.3h0.01 M74.9,125.2h0.01 M69.4,122.5h0.01 M74.3,124.5h0.01 M75.1,128.9h0.01" stroke="#c77ee0" stroke-width="0.9" stroke-linecap="round"/>
<path d="M71.8,128.8h0.01 M69.4,126.7h0.01 M67.9,127.6h0.01 M67.8,129.6h0.01 M71.4,123.4h0.01 M70.3,127.9h0.01 M68.6,130.3h0.01 M62.5,126.8h0.01 M66.1,130.6h0.01 M63.8,127.5h0.01 M63.6,129.0h0.01 M67.4,128.9h0.01 M65.4,130.1h0.01 M62.1,124.8h0.01 M70.1,130.0h0.01 M70.5,125.2h0.01 M62.9,128.7h0.01 M70.0,123.5h0.01 M72.3,127.2h0.01 M62.4,126.8h0.01 M65.7,123.8h0.01 M71.7,130.5h0.01 M63.4,126.6h0.01 M65.0,128.4h0.01 M63.2,125.7h0.01 M66.5,126.8h0.01 M66.8,127.8h0.01 M72.3,130.5h0.01 M72.0,129.6h0.01 M64.5,125.0h0.01" stroke="#c77ee0" stroke-width="0.9" stroke-linecap="round"/>
<path d="M61.3,123.1h0.01 M62.0,120.8h0.01 M64.0,120.5h0.01 M59.1,118.7h0.01 M60.0,123.8h0.01 M63.2,118.3h0.01 M60.2,119.9h0.01 M62.9,125.2h0.01 M60.3,118.8h0.01 M63.8,125.8h0.01" stroke="#c77ee0" stroke-width="0.9" stroke-linecap="round"/>
<path d="M49.2,190.7h0.01 M49.5,193.7h0.01 M47.1,188.7h0.01 M47.3,192.6h0.01 M45.2,192.4h0.01 M43.5,195.7h0.01 M44.1,188.3h0.01 M51.6,195.5h0.01 M51.3,194.4h0.01 M50.5,194.2h0.01 M47.7,186.7h0.01 M49.3,194.4h0.01 M50.4,186.4h0.01 M42.6,193.3h0.01 M46.9,194.9h0.01" stroke="#70dcc4" stroke-width="0.9" stroke-linecap="round"/>
<path d="M49.9,197.5h0.01 M48.1,199.7h0.01 M48.2,196.7h0.01 M47.8,193.7h0.01 M49.4,200.2h0.01 M48.8,197.6h0.01 M45.2,197.5h0.01 M48.1,198.5h0.01 M44.7,193.0h0.01 M46.4,195.4h0.01" stroke="#df62c1" stroke-width="0.9" stroke-linecap="round"/>
<path d="M42.3,212.8h0.01 M44.2,216.6h0.01 M49.1,216.4h0.01 M40.2,217.9h0.01 M46.1,216.9h0.01 M46.1,213.8h0.01 M43.4,211.6h0.01 M46.6,211.4h0.01 M46.8,218.3h0.01 M46.7,215.8h0.01 M48.1,218.7h0.01 M48.1,218.9h0.01" stroke="#df62c1" stroke-width="0.9" stroke-linecap="round"/>
<path d="M84.8,233.2h0.01 M87.4,241.3h0.01 M91.7,241.0h0.01 M83.2,233.1h0.01 M91.1,241.1h0.01 M93.8,240.7h0.01 M91.5,243.0h0.01 M93.8,239.0h0.01 M92.3,238.2h0.01 M77.2,237.2h0.01 M83.0,245.9h0.01 M83.7,236.6h0.01 M88.7,234.3h0.01 M82.2,238.1h0.01 M79.1,240.8h0.01 M84.2,243.4h0.01 M82.8,245.7h0.01 M80.3,239.9h0.01 M80.8,233.2h0.01 M82.1,244.6h0.01 M82.0,239.3h0.01 M85.9,236.5h0.01 M86.1,233.9h0.01 M82.9,236.7h0.01 M90.9,243.0h0.01 M88.9,240.7h0.01 M91.7,242.6h0.01 M77.9,234.7h0.01" stroke="#a596e8" stroke-width="0.9" stroke-linecap="round"/>
<path d="M83.5,255.6h0.01 M85.9,254.6h0.01 M77.6,251.5h0.01 M82.2,252.1h0.01 M77.3,257.5h0.01 M81.1,247.0h0.01 M85.8,248.8h0.01 M76.7,253.0h0.01 M78.6,246.3h0.01 M79.0,252.1h0.01 M79.2,253.0h0.01 M85.1,257.9h0.01 M84.9,256.8h0.01 M78.5,255.4h0.01 M76.9,251.7h0.01 M76.8,244.5h0.01 M85.5,244.9h0.01 M83.2,250.9h0.01 M76.0,254.9h0.01 M76.6,256.3h0.01 M84.2,250.4h0.01 M80.5,243.4h0.01 M83.0,243.6h0.01 M81.3,256.9h0.01 M82.8,244.7h0.01 M83.2,253.5h0.01 M79.3,254.6h0.01 M81.8,249.2h0.01 M81.3,247.1h0.01 M78.9,256.3h0.01 M79.5,254.6h0.01 M79.7,245.9h0.01 M76.0,257.5h0.01 M83.5,257.7h0.01 M81.9,243.9h0.01 M77.6,243.7h0.01 M82.1,252.3h0.01 M85.6,247.4h0.01 M78.3,246.3h0.01 M77.5,243.4h0.01" stroke="#67abd8" stroke-width="0.9" stroke-linecap="round"/>
<path d="M89.0,230.0h0.01 M88.7,236.4h0.01 M88.6,234.9h0.01 M89.1,226.2h0.01 M88.1,232.3h0.01 M89.7,225.6h0.01 M89.4,227.8h0.01 M89.4,235.0h0.01 M89.5,227.9h0.01 M88.3,236.6h0.01" stroke="#67abd8" stroke-width="0.9" stroke-linecap="round"/>
<path d="M91.5,231.5h0.01 M89.2,225.4h0.01 M88.2,231.4h0.01 M86.4,227.1h0.01 M86.3,231.2h0.01 M88.1,225.6h0.01 M88.1,226.4h0.01 M88.6,229.3h0.01" stroke="#d665c8" stroke-width="0.9" stroke-linecap="round"/>
<path d="M153.2,161.4h0.01 M151.5,160.8h0.01 M150.2,172.1h0.01 M147.7,172.3h0.01 M147.4,165.9h0.01 M155.1,160.1h0.01 M151.8,168.0h0.01 M154.0,174.2h0.01 M153.7,163.4h0.01 M146.8,167.2h0.01 M147.9,168.3h0.01 M145.3,170.4h0.01 M149.8,160.7h0.01 M145.7,174.0h0.01 M155.9,173.2h0.01 M149.5,174.8h0.01 M146.4,170.9h0.01 M157.2,163.1h0.01 M144.1,161.9h0.01 M145.2,172.1h0.01 M152.5,167.1h0.01 M145.6,169.6h0.01 M145.9,162.0h0.01 M152.3,169.7h0.01 M155.2,172.4h0.01" stroke="#ef7e7a" stroke-width="0.9" stroke-linecap="round"/>
<path d="M105.6,179.6h0.01 M105.7,182.4h0.01 M104.3,188.0h0.01 M112.2,187.1h0.01 M109.9,188.7h0.01 M114.0,187.4h0.01 M113.7,178.2h0.01 M108.1,175.8h0.01 M113.2,182.1h0.01 M115.8,179.3h0.01 M109.2,188.0h0.01 M115.6,186.4h0.01 M114.6,188.9h0.01 M107.3,184.3h0.01" stroke="#d98a2b" stroke-width="0.9" stroke-linecap="round"/>
<path d="M116.4,186.8h0.01 M121.7,185.1h0.01 M116.9,185.7h0.01 M116.4,184.6h0.01 M116.5,184.2h0.01" stroke="#d98a2b" stroke-width="0.9" stroke-linecap="round"/>
<text x="58.60" y="120.00" font-size="9" font-weight="bold" fill="#1a1a1a" stroke="#1a1a1a" stroke-width="0.1" >Mic</text>
<text x="21.60" y="153.20" font-size="9" font-weight="bold" fill="#1a1a1a" stroke="#1a1a1a" stroke-width="0.1" >Oli</text>
<text x="45.50" y="173.20" font-size="9" font-weight="bold" fill="#1a1a1a" stroke="#1a1a1a" stroke-width="0.1" >Inh2</text>
<text x="76.40" y="179.20" font-size="9" font-weight="bold" fill="#1a1a1a" stroke="#1a1a1a" stroke-width="0.1" >Inh1</text>
<text x="120.00" y="170.90" font-size="9" font-weight="bold" fill="#1a1a1a" stroke="#1a1a1a" stroke-width="0.1" >Exc2</text>
<text x="155.50" y="164.20" font-size="9" font-weight="bold" fill="#1a1a1a" stroke="#1a1a1a" stroke-width="0.1" >Exc3</text>
<text x="146.40" y="195.50" font-size="9" font-weight="bold" fill="#1a1a1a" stroke="#1a1a1a" stroke-width="0.1" >Exc1</text>
<text x="118.00" y="212.20" font-size="9" font-weight="bold" fill="#1a1a1a" stroke="#1a1a1a" stroke-width="0.1" >Exc4</text>
<text x="161.00" y="223.70" font-size="9" font-weight="bold" fill="#1a1a1a" stroke="#1a1a1a" stroke-width="0.1" >Exc5</text>
<text x="33.00" y="217.20" font-size="9" font-weight="bold" fill="#1a1a1a" stroke="#1a1a1a" stroke-width="0.1" >End</text>
<text x="82.70" y="218.70" font-size="9" font-weight="bold" fill="#1a1a1a" stroke="#1a1a1a" stroke-width="0.1" >OPC</text>
<text x="94.00" y="245.10" font-size="9" font-weight="bold" fill="#1a1a1a" stroke="#1a1a1a" stroke-width="0.1" >Ast2</text>
<text x="66.60" y="262.20" font-size="9" font-weight="bold" fill="#1a1a1a" stroke="#1a1a1a" stroke-width="0.1" >Ast1</text>
<line x1="14.80" y1="233.00" x2="14.80" y2="267.60" stroke="#111" stroke-width="1" />
<line x1="14.30" y1="267.60" x2="48.00" y2="267.60" stroke="#111" stroke-width="1" />
<path d="M11.6,234 L14.8,228.6 L18,234 Z" fill="#111"/>
<path d="M47.5,264.4 L53,267.6 L47.5,270.8 Z" fill="#111"/>
<text x="15.30" y="275.60" font-size="7.6" fill="#141414" stroke="#141414" stroke-width="0.2" >UMAP1</text>
<text x="0" y="0" font-size="7.6" fill="#141414" stroke="#141414" stroke-width="0.2" transform="translate(12.2,266.2) rotate(-90)">UMAP2</text>
<text x="217.60" y="125.60" font-size="16" font-weight="bold" fill="#111" stroke="#111" stroke-width="0.1" >c</text>
<text x="260.00" y="141.30" font-size="10" fill="#141414" stroke="#141414" stroke-width="0.2" textLength="75.5" lengthAdjust="spacingAndGlyphs">Number of nuclei</text>
<text x="248.20" y="156.60" font-size="8.8" fill="#141414" stroke="#141414" stroke-width="0.2" >0</text>
<text x="262.80" y="156.60" font-size="8.8" fill="#141414" stroke="#141414" stroke-width="0.2" >2,000</text>
<text x="291.90" y="156.60" font-size="8.8" fill="#141414" stroke="#141414" stroke-width="0.2" >4,000</text>
<text x="323.00" y="156.60" font-size="8.8" fill="#141414" stroke="#141414" stroke-width="0.2" >6,000</text>
<line x1="250.50" y1="161.50" x2="331.00" y2="161.50" stroke="#222" stroke-width="0.9" />
<line x1="250.50" y1="161.50" x2="250.50" y2="164.50" stroke="#222" stroke-width="0.9" />
<line x1="277.50" y1="161.50" x2="277.50" y2="164.50" stroke="#222" stroke-width="0.9" />
<line x1="304.50" y1="161.50" x2="304.50" y2="164.50" stroke="#222" stroke-width="0.9" />
<line x1="330.50" y1="161.50" x2="330.50" y2="164.50" stroke="#222" stroke-width="0.9" />
<line x1="250.50" y1="161.20" x2="250.50" y2="259.00" stroke="#222" stroke-width="0.9" />
<rect x="251.20" y="164.30" width="71.70" height="9.80" fill="#8cc83c" />
<text x="248.80" y="172.20" font-size="9.9" text-anchor="end" fill="#111" stroke="#111" stroke-width="0.2" textLength="18.00" lengthAdjust="spacingAndGlyphs">Exc</text>
<rect x="251.20" y="178.30" width="44.90" height="9.80" fill="#8eeed4" />
<text x="248.80" y="186.20" font-size="9.9" text-anchor="end" fill="#111" stroke="#111" stroke-width="0.2" textLength="15.01" lengthAdjust="spacingAndGlyphs">Inh</text>
<rect x="251.20" y="192.20" width="24.70" height="9.80" fill="#bcaaf0" />
<text x="248.80" y="200.10" font-size="9.9" text-anchor="end" fill="#111" stroke="#111" stroke-width="0.2" textLength="19.21" lengthAdjust="spacingAndGlyphs">Olig</text>
<rect x="251.20" y="206.00" width="17.50" height="9.80" fill="#f08282" />
<text x="248.80" y="213.90" font-size="9.9" text-anchor="end" fill="#111" stroke="#111" stroke-width="0.2" textLength="15.60" lengthAdjust="spacingAndGlyphs">Ast</text>
<rect x="251.20" y="219.80" width="13.40" height="9.80" fill="#72c0e0" />
<text x="248.80" y="227.70" font-size="9.9" text-anchor="end" fill="#111" stroke="#111" stroke-width="0.2" textLength="20.39" lengthAdjust="spacingAndGlyphs">Micr</text>
<rect x="251.20" y="233.80" width="7.00" height="9.80" fill="#c8a032" />
<text x="248.80" y="241.70" font-size="9.9" text-anchor="end" fill="#111" stroke="#111" stroke-width="0.2" textLength="25.22" lengthAdjust="spacingAndGlyphs">Endo</text>
<rect x="251.20" y="247.80" width="7.00" height="9.80" fill="#e274d4" />
<text x="248.80" y="255.70" font-size="9.9" text-anchor="end" fill="#111" stroke="#111" stroke-width="0.2" textLength="23.40" lengthAdjust="spacingAndGlyphs">OPC</text>
<rect x="301.40" y="190.50" width="4.40" height="4.40" fill="#ee7aa4" />
<rect x="301.40" y="201.50" width="4.40" height="4.40" fill="#8fa8de" />
<text x="309.30" y="195.10" font-size="7.3" fill="#333" stroke="#333" stroke-width="0.2" >FXTAS</text>
<text x="309.30" y="206.10" font-size="7.3" fill="#333" stroke="#333" stroke-width="0.2" >CTL</text>
<path d="M311.2,208.79999999999998 A26.9,26.9 0 0 0 311.2,262.59999999999997 L311.2,249.5 A13.8,13.8 0 0 1 311.2,221.89999999999998 Z" fill="#ee7aa4"/>
<path d="M311.2,208.79999999999998 A26.9,26.9 0 0 1 311.2,262.59999999999997 L311.2,249.5 A13.8,13.8 0 0 0 311.2,221.89999999999998 Z" fill="#8fa8de"/>
<line x1="311.20" y1="208.80" x2="311.20" y2="221.90" stroke="#fff" stroke-width="0.8" />
<line x1="311.20" y1="249.50" x2="311.20" y2="262.60" stroke="#fff" stroke-width="0.8" />
<text x="284.20" y="238.00" font-size="6" fill="#141414" stroke="#141414" stroke-width="0.2" >7,025</text>
<text x="326.20" y="238.00" font-size="6" fill="#141414" stroke="#141414" stroke-width="0.2" >6,877</text>
<text x="382.50" y="125.50" font-size="15.5" font-weight="bold" fill="#111" stroke="#111" stroke-width="0.1" >d</text>
<rect x="408.10" y="126.70" width="83.10" height="3.00" fill="#ee6a6a" />
<rect x="492.00" y="126.70" width="52.20" height="3.00" fill="#c9a232" />
<rect x="545.00" y="126.70" width="28.00" height="3.00" fill="#5ccc3a" />
<rect x="573.80" y="126.70" width="21.20" height="3.00" fill="#6cdcb0" />
<rect x="595.80" y="126.70" width="15.30" height="3.00" fill="#62b4e2" />
<rect x="611.90" y="126.70" width="8.10" height="3.00" fill="#a992e2" />
<rect x="620.80" y="126.70" width="7.30" height="3.00" fill="#d95ac8" />
<text x="448.30" y="125.90" font-size="7.2" font-weight="bold" fill="#111" stroke="#111" stroke-width="0.1" textLength="11.00" lengthAdjust="spacingAndGlyphs">Exc</text>
<text x="512.00" y="125.90" font-size="7.2" font-weight="bold" fill="#111" stroke="#111" stroke-width="0.1" textLength="9.20" lengthAdjust="spacingAndGlyphs">Inh</text>
<text x="555.00" y="125.90" font-size="7.2" font-weight="bold" fill="#111" stroke="#111" stroke-width="0.1" textLength="11.20" lengthAdjust="spacingAndGlyphs">Olig</text>
<text x="581.60" y="125.90" font-size="7.2" font-weight="bold" fill="#111" stroke="#111" stroke-width="0.1" textLength="10.10" lengthAdjust="spacingAndGlyphs">Ast</text>
<text x="599.60" y="125.90" font-size="7.2" font-weight="bold" fill="#111" stroke="#111" stroke-width="0.1" textLength="10.40" lengthAdjust="spacingAndGlyphs">Mic</text>
<text x="611.60" y="125.90" font-size="7.2" font-weight="bold" fill="#111" stroke="#111" stroke-width="0.1" textLength="11.10" lengthAdjust="spacingAndGlyphs">End</text>
<text x="623.70" y="125.90" font-size="7.2" font-weight="bold" fill="#111" stroke="#111" stroke-width="0.1" textLength="12.70" lengthAdjust="spacingAndGlyphs">OPC</text>
<rect x="408.10" y="132.80" width="83.50" height="9.86" fill="#f4baae" shape-rendering="crispEdges"/>
<rect x="411.3" y="132.80" width="0.8" height="9.86" fill="#ef9381"/>
<rect x="412.1" y="132.80" width="0.8" height="9.86" fill="#ef9887"/>
<rect x="416.1" y="132.80" width="1.6" height="9.86" fill="#f4bbb0"/>
<rect x="419.3" y="132.80" width="1.0" height="9.86" fill="#f09a88"/>
<rect x="421.1" y="132.80" width="1.3" height="9.86" fill="#f09d8d"/>
<rect x="422.4" y="132.80" width="0.6" height="9.86" fill="#f09c8b"/>
<rect x="423.0" y="132.80" width="1.0" height="9.86" fill="#ee8e7c"/>
<rect x="424.0" y="132.80" width="0.8" height="9.86" fill="#f09c8c"/>
<rect x="426.6" y="132.80" width="1.0" height="9.86" fill="#f3b2a5"/>
<rect x="427.6" y="132.80" width="1.3" height="9.86" fill="#f2ab9b"/>
<rect x="428.9" y="132.80" width="1.3" height="9.86" fill="#f4bdb2"/>
<rect x="430.8" y="132.80" width="0.8" height="9.86" fill="#f2a696"/>
<rect x="431.6" y="132.80" width="0.6" height="9.86" fill="#f2aa9a"/>
<rect x="432.2" y="132.80" width="1.0" height="9.86" fill="#f3b3a6"/>
<rect x="433.2" y="132.80" width="1.0" height="9.86" fill="#f5c1b7"/>
<rect x="435.0" y="132.80" width="1.3" height="9.86" fill="#f2ab9c"/>
<rect x="436.3" y="132.80" width="1.3" height="9.86" fill="#f2a999"/>
<rect x="438.4" y="132.80" width="0.8" height="9.86" fill="#f3b3a6"/>
<rect x="439.2" y="132.80" width="0.6" height="9.86" fill="#f09988"/>
<rect x="439.8" y="132.80" width="1.3" height="9.86" fill="#f09a88"/>
<rect x="441.1" y="132.80" width="1.3" height="9.86" fill="#f3b4a6"/>
<rect x="442.4" y="132.80" width="1.3" height="9.86" fill="#ed8b79"/>
<rect x="443.7" y="132.80" width="0.6" height="9.86" fill="#f3ad9e"/>
<rect x="445.9" y="132.80" width="1.3" height="9.86" fill="#ee8d7a"/>
<rect x="448.0" y="132.80" width="0.6" height="9.86" fill="#ee917f"/>
<rect x="450.7" y="132.80" width="0.8" height="9.86" fill="#ef9786"/>
<rect x="454.5" y="132.80" width="0.8" height="9.86" fill="#f2a797"/>
<rect x="457.9" y="132.80" width="1.0" height="9.86" fill="#f3b4a7"/>
<rect x="458.9" y="132.80" width="0.8" height="9.86" fill="#f09c8b"/>
<rect x="465.0" y="132.80" width="1.3" height="9.86" fill="#f09d8c"/>
<rect x="466.3" y="132.80" width="1.6" height="9.86" fill="#f5c5bb"/>
<rect x="467.9" y="132.80" width="1.6" height="9.86" fill="#f09c8b"/>
<rect x="469.5" y="132.80" width="1.3" height="9.86" fill="#f4b6a9"/>
<rect x="470.8" y="132.80" width="1.6" height="9.86" fill="#f09d8c"/>
<rect x="475.6" y="132.80" width="1.0" height="9.86" fill="#ef9786"/>
<rect x="476.6" y="132.80" width="1.0" height="9.86" fill="#f4bbaf"/>
<rect x="477.6" y="132.80" width="1.0" height="9.86" fill="#f5c1b7"/>
<rect x="478.6" y="132.80" width="1.3" height="9.86" fill="#f1a191"/>
<rect x="479.9" y="132.80" width="1.3" height="9.86" fill="#f3b0a2"/>
<rect x="481.2" y="132.80" width="1.0" height="9.86" fill="#f1a392"/>
<rect x="482.2" y="132.80" width="1.3" height="9.86" fill="#f5beb4"/>
<rect x="488.2" y="132.80" width="0.8" height="9.86" fill="#f2a999"/>
<rect x="489.0" y="132.80" width="1.6" height="9.86" fill="#f4baae"/>
<rect x="491.60" y="132.80" width="53.00" height="9.86" fill="#ece0f3" shape-rendering="crispEdges"/>
<rect x="491.6" y="132.80" width="1.3" height="9.86" fill="#f1e6f4"/>
<rect x="494.7" y="132.80" width="1.3" height="9.86" fill="#ede1f3"/>
<rect x="496.0" y="132.80" width="0.6" height="9.86" fill="#faeeee"/>
<rect x="497.8" y="132.80" width="0.6" height="9.86" fill="#ede1f3"/>
<rect x="500.3" y="132.80" width="1.3" height="9.86" fill="#ede1f3"/>
<rect x="503.9" y="132.80" width="1.0" height="9.86" fill="#e9dcf2"/>
<rect x="504.9" y="132.80" width="1.0" height="9.86" fill="#ede1f3"/>
<rect x="505.9" y="132.80" width="1.3" height="9.86" fill="#e9dcf2"/>
<rect x="507.2" y="132.80" width="0.8" height="9.86" fill="#fbf5f7"/>
<rect x="511.9" y="132.80" width="0.6" height="9.86" fill="#ede1f3"/>
<rect x="517.1" y="132.80" width="1.0" height="9.86" fill="#ede1f3"/>
<rect x="518.1" y="132.80" width="0.6" height="9.86" fill="#ede1f3"/>
<rect x="522.3" y="132.80" width="1.0" height="9.86" fill="#f0e5f4"/>
<rect x="524.3" y="132.80" width="1.6" height="9.86" fill="#efe4f4"/>
<rect x="525.9" y="132.80" width="0.8" height="9.86" fill="#e9dcf2"/>
<rect x="527.7" y="132.80" width="1.0" height="9.86" fill="#ebdef3"/>
<rect x="532.6" y="132.80" width="1.3" height="9.86" fill="#ede2f3"/>
<rect x="536.0" y="132.80" width="1.0" height="9.86" fill="#f2e8f5"/>
<rect x="537.0" y="132.80" width="1.0" height="9.86" fill="#ede2f3"/>
<rect x="538.0" y="132.80" width="1.6" height="9.86" fill="#e9ddf2"/>
<rect x="540.6" y="132.80" width="0.8" height="9.86" fill="#ebdff3"/>
<rect x="544.60" y="132.80" width="28.80" height="9.86" fill="#ece0f3" shape-rendering="crispEdges"/>
<rect x="546.9" y="132.80" width="1.3" height="9.86" fill="#f1e6f4"/>
<rect x="551.1" y="132.80" width="0.8" height="9.86" fill="#efe4f4"/>
<rect x="553.7" y="132.80" width="0.6" height="9.86" fill="#ebdff3"/>
<rect x="559.1" y="132.80" width="1.0" height="9.86" fill="#efe4f4"/>
<rect x="564.3" y="132.80" width="0.6" height="9.86" fill="#f2e7f5"/>
<rect x="564.9" y="132.80" width="0.6" height="9.86" fill="#ede1f3"/>
<rect x="567.9" y="132.80" width="1.0" height="9.86" fill="#ece0f3"/>
<rect x="573.40" y="132.80" width="22.00" height="9.86" fill="#ede1f3" shape-rendering="crispEdges"/>
<rect x="576.4" y="132.80" width="1.0" height="9.86" fill="#e9dcf2"/>
<rect x="582.1" y="132.80" width="0.8" height="9.86" fill="#e9dcf2"/>
<rect x="582.9" y="132.80" width="1.0" height="9.86" fill="#ece0f3"/>
<rect x="583.9" y="132.80" width="1.0" height="9.86" fill="#efe4f4"/>
<rect x="586.5" y="132.80" width="1.6" height="9.86" fill="#ecdff3"/>
<rect x="588.7" y="132.80" width="1.0" height="9.86" fill="#ede1f3"/>
<rect x="591.3" y="132.80" width="1.0" height="9.86" fill="#efe3f4"/>
<rect x="595.1" y="132.80" width="0.3" height="9.86" fill="#ede1f3"/>
<rect x="595.40" y="132.80" width="16.10" height="9.86" fill="#ece0f3" shape-rendering="crispEdges"/>
<rect x="596.4" y="132.80" width="1.0" height="9.86" fill="#ece0f3"/>
<rect x="598.0" y="132.80" width="0.8" height="9.86" fill="#e9dcf2"/>
<rect x="598.8" y="132.80" width="0.8" height="9.86" fill="#eadef2"/>
<rect x="599.6" y="132.80" width="1.0" height="9.86" fill="#e9dcf2"/>
<rect x="602.8" y="132.80" width="1.0" height="9.86" fill="#ebdff3"/>
<rect x="607.2" y="132.80" width="1.0" height="9.86" fill="#eaddf2"/>
<rect x="611.50" y="132.80" width="8.90" height="9.86" fill="#ede1f3" shape-rendering="crispEdges"/>
<rect x="613.3" y="132.80" width="1.6" height="9.86" fill="#ede1f3"/>
<rect x="616.5" y="132.80" width="0.6" height="9.86" fill="#ede2f3"/>
<rect x="617.1" y="132.80" width="1.0" height="9.86" fill="#eaddf2"/>
<rect x="619.1" y="132.80" width="1.0" height="9.86" fill="#f2e8f5"/>
<rect x="620.40" y="132.80" width="8.10" height="9.86" fill="#eee2f4" shape-rendering="crispEdges"/>
<rect x="620.4" y="132.80" width="1.3" height="9.86" fill="#ede1f3"/>
<rect x="623.3" y="132.80" width="1.3" height="9.86" fill="#f0e6f4"/>
<text x="406.00" y="140.23" font-size="7.0" text-anchor="end" fill="#141414" stroke="#141414" stroke-width="0.2" textLength="21.68" lengthAdjust="spacingAndGlyphs">Slc17a7</text>
<rect x="408.10" y="142.66" width="83.50" height="9.86" fill="#f7d4ce" shape-rendering="crispEdges"/>
<rect x="408.9" y="142.66" width="1.3" height="9.86" fill="#f5c0b6"/>
<rect x="411.5" y="142.66" width="1.0" height="9.86" fill="#f4b9ad"/>
<rect x="412.5" y="142.66" width="1.6" height="9.86" fill="#f8dad5"/>
<rect x="414.1" y="142.66" width="1.3" height="9.86" fill="#f6ccc4"/>
<rect x="415.4" y="142.66" width="1.0" height="9.86" fill="#f3b2a5"/>
<rect x="416.4" y="142.66" width="1.6" height="9.86" fill="#f3b3a5"/>
<rect x="419.0" y="142.66" width="0.8" height="9.86" fill="#f6cbc3"/>
<rect x="419.8" y="142.66" width="1.0" height="9.86" fill="#f8dbd7"/>
<rect x="422.4" y="142.66" width="0.6" height="9.86" fill="#f5c7be"/>
<rect x="423.0" y="142.66" width="1.3" height="9.86" fill="#f4b7aa"/>
<rect x="424.3" y="142.66" width="1.0" height="9.86" fill="#f3aea0"/>
<rect x="425.3" y="142.66" width="0.8" height="9.86" fill="#f4b7aa"/>
<rect x="426.1" y="142.66" width="0.8" height="9.86" fill="#f4bcb0"/>
<rect x="430.7" y="142.66" width="0.6" height="9.86" fill="#f2ac9d"/>
<rect x="431.3" y="142.66" width="0.6" height="9.86" fill="#f3b1a3"/>
<rect x="431.9" y="142.66" width="1.6" height="9.86" fill="#f2aa9a"/>
<rect x="433.5" y="142.66" width="0.8" height="9.86" fill="#f7d2cb"/>
<rect x="435.3" y="142.66" width="1.6" height="9.86" fill="#f6cbc3"/>
<rect x="436.9" y="142.66" width="1.6" height="9.86" fill="#f6cdc5"/>
<rect x="438.5" y="142.66" width="1.0" height="9.86" fill="#f7d4ce"/>
<rect x="440.9" y="142.66" width="0.8" height="9.86" fill="#f7d5cf"/>
<rect x="441.7" y="142.66" width="0.6" height="9.86" fill="#f7d4ce"/>
<rect x="444.2" y="142.66" width="1.3" height="9.86" fill="#f7d0ca"/>
<rect x="448.5" y="142.66" width="1.0" height="9.86" fill="#f8e0dd"/>
<rect x="451.1" y="142.66" width="0.8" height="9.86" fill="#f3b4a7"/>
<rect x="454.5" y="142.66" width="1.0" height="9.86" fill="#f6c8c0"/>
<rect x="455.5" y="142.66" width="0.8" height="9.86" fill="#f7d0c9"/>
<rect x="456.3" y="142.66" width="1.0" height="9.86" fill="#f8dedb"/>
<rect x="457.3" y="142.66" width="1.6" height="9.86" fill="#f4b7aa"/>
<rect x="458.9" y="142.66" width="1.0" height="9.86" fill="#f8d8d3"/>
<rect x="459.9" y="142.66" width="1.3" height="9.86" fill="#f8dad5"/>
<rect x="461.2" y="142.66" width="1.3" height="9.86" fill="#f6cec6"/>
<rect x="465.1" y="142.66" width="0.8" height="9.86" fill="#f6cec6"/>
<rect x="471.1" y="142.66" width="1.0" height="9.86" fill="#f2a797"/>
<rect x="474.0" y="142.66" width="1.0" height="9.86" fill="#f1a493"/>
<rect x="475.0" y="142.66" width="0.6" height="9.86" fill="#f5c0b6"/>
<rect x="475.6" y="142.66" width="1.3" height="9.86" fill="#f3b3a6"/>
<rect x="476.9" y="142.66" width="1.0" height="9.86" fill="#f4b8ab"/>
<rect x="477.9" y="142.66" width="0.6" height="9.86" fill="#f5c5bc"/>
<rect x="478.5" y="142.66" width="0.6" height="9.86" fill="#f6cec7"/>
<rect x="480.7" y="142.66" width="1.6" height="9.86" fill="#f5beb3"/>
<rect x="483.1" y="142.66" width="1.3" height="9.86" fill="#f4bbaf"/>
<rect x="486.3" y="142.66" width="1.3" height="9.86" fill="#f3b4a7"/>
<rect x="487.6" y="142.66" width="1.0" height="9.86" fill="#f4bcb1"/>
<rect x="488.6" y="142.66" width="1.0" height="9.86" fill="#f8dbd7"/>
<rect x="491.0" y="142.66" width="0.6" height="9.86" fill="#f4b6aa"/>
<rect x="491.60" y="142.66" width="53.00" height="9.86" fill="#f1e7f4" shape-rendering="crispEdges"/>
<rect x="491.6" y="142.66" width="1.0" height="9.86" fill="#faebeb"/>
<rect x="492.6" y="142.66" width="1.0" height="9.86" fill="#efe4f4"/>
<rect x="493.6" y="142.66" width="1.3" height="9.86" fill="#f2e8f5"/>
<rect x="494.9" y="142.66" width="1.0" height="9.86" fill="#f9e2df"/>
<rect x="495.9" y="142.66" width="1.0" height="9.86" fill="#f9e9e8"/>
<rect x="498.2" y="142.66" width="1.0" height="9.86" fill="#f1e7f4"/>
<rect x="499.2" y="142.66" width="1.3" height="9.86" fill="#f9e4e1"/>
<rect x="500.5" y="142.66" width="0.8" height="9.86" fill="#f8dfdc"/>
<rect x="501.3" y="142.66" width="1.6" height="9.86" fill="#f1e7f4"/>
<rect x="503.9" y="142.66" width="0.8" height="9.86" fill="#f3e9f5"/>
<rect x="506.3" y="142.66" width="0.6" height="9.86" fill="#f5ebf5"/>
<rect x="506.9" y="142.66" width="0.6" height="9.86" fill="#f8ddd9"/>
<rect x="507.5" y="142.66" width="1.6" height="9.86" fill="#f3e9f5"/>
<rect x="511.4" y="142.66" width="0.8" height="9.86" fill="#f9e7e6"/>
<rect x="512.2" y="142.66" width="1.0" height="9.86" fill="#f2e7f5"/>
<rect x="513.2" y="142.66" width="0.8" height="9.86" fill="#f5edf6"/>
<rect x="514.0" y="142.66" width="0.6" height="9.86" fill="#f9e4e1"/>
<rect x="514.6" y="142.66" width="1.0" height="9.86" fill="#f9e2e0"/>
<rect x="515.6" y="142.66" width="0.8" height="9.86" fill="#f8dedb"/>
<rect x="516.4" y="142.66" width="0.6" height="9.86" fill="#f9e7e5"/>
<rect x="518.0" y="142.66" width="1.0" height="9.86" fill="#f9e1de"/>
<rect x="520.0" y="142.66" width="1.6" height="9.86" fill="#f8dcd8"/>
<rect x="521.6" y="142.66" width="1.0" height="9.86" fill="#faefef"/>
<rect x="522.6" y="142.66" width="1.6" height="9.86" fill="#faeff0"/>
<rect x="524.8" y="142.66" width="1.6" height="9.86" fill="#f8dfdc"/>
<rect x="528.7" y="142.66" width="1.0" height="9.86" fill="#f8dbd7"/>
<rect x="529.7" y="142.66" width="0.8" height="9.86" fill="#f9e4e1"/>
<rect x="530.5" y="142.66" width="1.3" height="9.86" fill="#f9e4e2"/>
<rect x="531.8" y="142.66" width="0.6" height="9.86" fill="#faecec"/>
<rect x="533.2" y="142.66" width="1.6" height="9.86" fill="#f4eaf5"/>
<rect x="534.8" y="142.66" width="1.0" height="9.86" fill="#f9e5e3"/>
<rect x="535.8" y="142.66" width="1.3" height="9.86" fill="#f8dfdc"/>
<rect x="537.1" y="142.66" width="1.6" height="9.86" fill="#f9e5e4"/>
<rect x="540.3" y="142.66" width="1.6" height="9.86" fill="#f6cfc8"/>
<rect x="541.9" y="142.66" width="0.8" height="9.86" fill="#f9e7e6"/>
<rect x="544.60" y="142.66" width="28.80" height="9.86" fill="#f1e7f4" shape-rendering="crispEdges"/>
<rect x="545.4" y="142.66" width="1.6" height="9.86" fill="#f4eaf5"/>
<rect x="547.0" y="142.66" width="1.3" height="9.86" fill="#f8dcd8"/>
<rect x="548.3" y="142.66" width="1.0" height="9.86" fill="#f9e1de"/>
<rect x="549.3" y="142.66" width="0.8" height="9.86" fill="#f8f0f6"/>
<rect x="550.1" y="142.66" width="1.6" height="9.86" fill="#f8dcd8"/>
<rect x="551.7" y="142.66" width="1.0" height="9.86" fill="#f7d0c9"/>
<rect x="552.7" y="142.66" width="0.8" height="9.86" fill="#f8dfdc"/>
<rect x="553.5" y="142.66" width="1.0" height="9.86" fill="#f9e4e2"/>
<rect x="554.5" y="142.66" width="0.6" height="9.86" fill="#f8e0dd"/>
<rect x="555.1" y="142.66" width="1.3" height="9.86" fill="#f8d9d5"/>
<rect x="556.4" y="142.66" width="1.0" height="9.86" fill="#fae9e8"/>
<rect x="558.0" y="142.66" width="1.3" height="9.86" fill="#f0e5f4"/>
<rect x="560.3" y="142.66" width="1.3" height="9.86" fill="#f9e7e6"/>
<rect x="561.6" y="142.66" width="0.8" height="9.86" fill="#faeae9"/>
<rect x="562.4" y="142.66" width="1.0" height="9.86" fill="#f8dad6"/>
<rect x="563.4" y="142.66" width="1.3" height="9.86" fill="#f7d4ce"/>
<rect x="564.7" y="142.66" width="0.8" height="9.86" fill="#f8e0dd"/>
<rect x="565.5" y="142.66" width="0.6" height="9.86" fill="#f6cec7"/>
<rect x="566.1" y="142.66" width="0.8" height="9.86" fill="#f8ddd9"/>
<rect x="566.9" y="142.66" width="0.6" height="9.86" fill="#f7d6d1"/>
<rect x="568.1" y="142.66" width="0.8" height="9.86" fill="#f8dcd8"/>
<rect x="570.2" y="142.66" width="0.8" height="9.86" fill="#f0e5f4"/>
<rect x="571.0" y="142.66" width="1.0" height="9.86" fill="#f5c2b8"/>
<rect x="572.6" y="142.66" width="0.6" height="9.86" fill="#f8dcd7"/>
<rect x="573.40" y="142.66" width="22.00" height="9.86" fill="#f1e7f4" shape-rendering="crispEdges"/>
<rect x="573.4" y="142.66" width="1.3" height="9.86" fill="#f9e2e0"/>
<rect x="574.7" y="142.66" width="0.6" height="9.86" fill="#f7d8d3"/>
<rect x="575.3" y="142.66" width="1.6" height="9.86" fill="#f0e6f4"/>
<rect x="576.9" y="142.66" width="1.3" height="9.86" fill="#f0e6f4"/>
<rect x="579.2" y="142.66" width="1.0" height="9.86" fill="#f9e4e2"/>
<rect x="580.2" y="142.66" width="1.6" height="9.86" fill="#f3e9f5"/>
<rect x="581.8" y="142.66" width="0.6" height="9.86" fill="#faeeef"/>
<rect x="582.4" y="142.66" width="1.0" height="9.86" fill="#f4eaf5"/>
<rect x="583.4" y="142.66" width="0.8" height="9.86" fill="#eee2f3"/>
<rect x="584.2" y="142.66" width="0.6" height="9.86" fill="#f4eaf5"/>
<rect x="584.8" y="142.66" width="0.6" height="9.86" fill="#f9e4e2"/>
<rect x="585.4" y="142.66" width="1.3" height="9.86" fill="#f8ddd9"/>
<rect x="586.7" y="142.66" width="0.8" height="9.86" fill="#f9e2df"/>
<rect x="588.3" y="142.66" width="0.8" height="9.86" fill="#f8dcd8"/>
<rect x="589.1" y="142.66" width="0.6" height="9.86" fill="#faf0f1"/>
<rect x="589.7" y="142.66" width="0.6" height="9.86" fill="#f9e2df"/>
<rect x="590.3" y="142.66" width="0.6" height="9.86" fill="#f0e5f4"/>
<rect x="590.9" y="142.66" width="1.3" height="9.86" fill="#f8dbd7"/>
<rect x="592.2" y="142.66" width="1.3" height="9.86" fill="#f9e3e1"/>
<rect x="593.5" y="142.66" width="1.0" height="9.86" fill="#f8ddd9"/>
<rect x="594.5" y="142.66" width="0.9" height="9.86" fill="#f9e1de"/>
<rect x="595.40" y="142.66" width="16.10" height="9.86" fill="#f1e7f4" shape-rendering="crispEdges"/>
<rect x="596.2" y="142.66" width="1.0" height="9.86" fill="#f9e5e3"/>
<rect x="597.2" y="142.66" width="1.3" height="9.86" fill="#f5ecf5"/>
<rect x="598.5" y="142.66" width="1.0" height="9.86" fill="#f8dedb"/>
<rect x="600.3" y="142.66" width="0.8" height="9.86" fill="#f8deda"/>
<rect x="605.1" y="142.66" width="1.0" height="9.86" fill="#f9e1de"/>
<rect x="607.7" y="142.66" width="0.8" height="9.86" fill="#f9e5e3"/>
<rect x="610.7" y="142.66" width="0.8" height="9.86" fill="#f8dcd7"/>
<rect x="611.50" y="142.66" width="8.90" height="9.86" fill="#eee2f4" shape-rendering="crispEdges"/>
<rect x="613.1" y="142.66" width="1.3" height="9.86" fill="#f9e8e7"/>
<rect x="617.0" y="142.66" width="1.0" height="9.86" fill="#f0e6f4"/>
<rect x="618.0" y="142.66" width="1.3" height="9.86" fill="#f3e9f5"/>
<rect x="620.40" y="142.66" width="8.10" height="9.86" fill="#f1e7f4" shape-rendering="crispEdges"/>
<rect x="622.7" y="142.66" width="0.6" height="9.86" fill="#ede1f3"/>
<rect x="623.3" y="142.66" width="1.0" height="9.86" fill="#f6cfc8"/>
<rect x="624.3" y="142.66" width="1.0" height="9.86" fill="#f2e8f5"/>
<rect x="626.9" y="142.66" width="1.0" height="9.86" fill="#f4ebf5"/>
<rect x="627.9" y="142.66" width="0.6" height="9.86" fill="#f8dcd8"/>
<text x="406.00" y="150.09" font-size="7.0" text-anchor="end" fill="#141414" stroke="#141414" stroke-width="0.2" textLength="15.68" lengthAdjust="spacingAndGlyphs">Satb2</text>
<rect x="408.10" y="152.52" width="83.50" height="9.86" fill="#f9e8e7" shape-rendering="crispEdges"/>
<rect x="411.4" y="152.52" width="0.6" height="9.86" fill="#f9e8e6"/>
<rect x="412.0" y="152.52" width="0.8" height="9.86" fill="#f9e6e4"/>
<rect x="412.8" y="152.52" width="0.8" height="9.86" fill="#f9e6e5"/>
<rect x="414.2" y="152.52" width="0.8" height="9.86" fill="#f9e3e1"/>
<rect x="416.0" y="152.52" width="1.3" height="9.86" fill="#f7d5cf"/>
<rect x="417.3" y="152.52" width="1.6" height="9.86" fill="#f5c6bd"/>
<rect x="418.9" y="152.52" width="1.0" height="9.86" fill="#fae9e8"/>
<rect x="419.9" y="152.52" width="0.6" height="9.86" fill="#f8ddd9"/>
<rect x="420.5" y="152.52" width="0.6" height="9.86" fill="#f9e8e7"/>
<rect x="421.1" y="152.52" width="1.3" height="9.86" fill="#faeded"/>
<rect x="425.2" y="152.52" width="0.8" height="9.86" fill="#f9e1de"/>
<rect x="427.0" y="152.52" width="1.6" height="9.86" fill="#faecec"/>
<rect x="428.6" y="152.52" width="1.0" height="9.86" fill="#f8dcd8"/>
<rect x="429.6" y="152.52" width="1.0" height="9.86" fill="#f9e3e1"/>
<rect x="430.6" y="152.52" width="0.6" height="9.86" fill="#fbf2f3"/>
<rect x="432.2" y="152.52" width="0.6" height="9.86" fill="#f8dfdc"/>
<rect x="432.8" y="152.52" width="1.3" height="9.86" fill="#f8e0dd"/>
<rect x="435.1" y="152.52" width="1.0" height="9.86" fill="#f5c3b9"/>
<rect x="436.1" y="152.52" width="1.0" height="9.86" fill="#f9e2df"/>
<rect x="437.1" y="152.52" width="0.6" height="9.86" fill="#f5bfb4"/>
<rect x="437.7" y="152.52" width="1.0" height="9.86" fill="#f9e7e6"/>
<rect x="440.0" y="152.52" width="1.6" height="9.86" fill="#f7d7d1"/>
<rect x="443.9" y="152.52" width="1.6" height="9.86" fill="#f9e5e3"/>
<rect x="446.5" y="152.52" width="1.6" height="9.86" fill="#f7d3cd"/>
<rect x="448.1" y="152.52" width="1.0" height="9.86" fill="#f7d5d0"/>
<rect x="450.4" y="152.52" width="1.0" height="9.86" fill="#f7d4ce"/>
<rect x="451.4" y="152.52" width="1.0" height="9.86" fill="#fae9e8"/>
<rect x="453.0" y="152.52" width="0.8" height="9.86" fill="#f9e8e7"/>
<rect x="453.8" y="152.52" width="0.8" height="9.86" fill="#f6cbc3"/>
<rect x="454.6" y="152.52" width="1.3" height="9.86" fill="#f9e2df"/>
<rect x="455.9" y="152.52" width="1.6" height="9.86" fill="#f8e0dc"/>
<rect x="459.8" y="152.52" width="1.0" height="9.86" fill="#f9e6e4"/>
<rect x="463.6" y="152.52" width="0.6" height="9.86" fill="#f9e6e4"/>
<rect x="464.2" y="152.52" width="0.6" height="9.86" fill="#f7d1cb"/>
<rect x="464.8" y="152.52" width="1.0" height="9.86" fill="#f7d7d2"/>
<rect x="465.8" y="152.52" width="1.6" height="9.86" fill="#f7d7d2"/>
<rect x="467.4" y="152.52" width="1.6" height="9.86" fill="#f7d6d0"/>
<rect x="471.9" y="152.52" width="1.3" height="9.86" fill="#f9e3e0"/>
<rect x="473.2" y="152.52" width="1.0" height="9.86" fill="#f5c4ba"/>
<rect x="474.2" y="152.52" width="0.8" height="9.86" fill="#f7d1ca"/>
<rect x="475.0" y="152.52" width="1.0" height="9.86" fill="#f6cbc3"/>
<rect x="478.1" y="152.52" width="0.6" height="9.86" fill="#f6c7be"/>
<rect x="480.9" y="152.52" width="0.8" height="9.86" fill="#faeded"/>
<rect x="481.7" y="152.52" width="0.6" height="9.86" fill="#f8dbd7"/>
<rect x="482.3" y="152.52" width="1.6" height="9.86" fill="#faeeee"/>
<rect x="484.5" y="152.52" width="1.0" height="9.86" fill="#f6cbc3"/>
<rect x="485.5" y="152.52" width="0.8" height="9.86" fill="#f6cec6"/>
<rect x="486.3" y="152.52" width="1.0" height="9.86" fill="#f7d3cd"/>
<rect x="487.3" y="152.52" width="1.0" height="9.86" fill="#f7d7d2"/>
<rect x="488.3" y="152.52" width="0.8" height="9.86" fill="#f7d7d1"/>
<rect x="490.7" y="152.52" width="0.9" height="9.86" fill="#faeded"/>
<rect x="491.60" y="152.52" width="53.00" height="9.86" fill="#f8f0f6" shape-rendering="crispEdges"/>
<rect x="493.6" y="152.52" width="0.6" height="9.86" fill="#f8f1f6"/>
<rect x="494.2" y="152.52" width="0.8" height="9.86" fill="#fae9e9"/>
<rect x="496.3" y="152.52" width="1.6" height="9.86" fill="#faf0f1"/>
<rect x="502.6" y="152.52" width="0.8" height="9.86" fill="#f1e6f4"/>
<rect x="507.0" y="152.52" width="1.0" height="9.86" fill="#f5ebf5"/>
<rect x="508.0" y="152.52" width="0.6" height="9.86" fill="#f6eef6"/>
<rect x="514.1" y="152.52" width="1.3" height="9.86" fill="#f4ebf5"/>
<rect x="515.4" y="152.52" width="1.3" height="9.86" fill="#f5ecf5"/>
<rect x="516.7" y="152.52" width="1.0" height="9.86" fill="#f9e7e6"/>
<rect x="527.5" y="152.52" width="1.0" height="9.86" fill="#f6eef6"/>
<rect x="536.7" y="152.52" width="1.6" height="9.86" fill="#faf4f7"/>
<rect x="538.3" y="152.52" width="1.3" height="9.86" fill="#f7eef6"/>
<rect x="539.6" y="152.52" width="1.0" height="9.86" fill="#f6eef6"/>
<rect x="541.6" y="152.52" width="1.6" height="9.86" fill="#fbf3f5"/>
<rect x="544.2" y="152.52" width="0.4" height="9.86" fill="#faeff0"/>
<rect x="544.60" y="152.52" width="28.80" height="9.86" fill="#f8f0f6" shape-rendering="crispEdges"/>
<rect x="548.1" y="152.52" width="1.0" height="9.86" fill="#f8f1f6"/>
<rect x="553.3" y="152.52" width="0.6" height="9.86" fill="#f5edf6"/>
<rect x="553.9" y="152.52" width="0.6" height="9.86" fill="#faf4f7"/>
<rect x="555.5" y="152.52" width="0.8" height="9.86" fill="#f7eff6"/>
<rect x="556.3" y="152.52" width="1.6" height="9.86" fill="#f2e8f5"/>
<rect x="559.5" y="152.52" width="0.8" height="9.86" fill="#f9f2f6"/>
<rect x="560.3" y="152.52" width="1.6" height="9.86" fill="#f5ecf6"/>
<rect x="563.7" y="152.52" width="0.8" height="9.86" fill="#faf0f1"/>
<rect x="565.5" y="152.52" width="1.0" height="9.86" fill="#f9f1f6"/>
<rect x="567.5" y="152.52" width="1.3" height="9.86" fill="#f7eff6"/>
<rect x="572.3" y="152.52" width="1.1" height="9.86" fill="#faf4f7"/>
<rect x="573.40" y="152.52" width="22.00" height="9.86" fill="#f8f0f6" shape-rendering="crispEdges"/>
<rect x="574.7" y="152.52" width="0.6" height="9.86" fill="#faeded"/>
<rect x="583.1" y="152.52" width="1.0" height="9.86" fill="#f5ebf5"/>
<rect x="585.4" y="152.52" width="0.8" height="9.86" fill="#f8f0f6"/>
<rect x="587.0" y="152.52" width="1.0" height="9.86" fill="#f3e9f5"/>
<rect x="590.6" y="152.52" width="1.0" height="9.86" fill="#f7eff6"/>
<rect x="591.6" y="152.52" width="1.0" height="9.86" fill="#faeae9"/>
<rect x="592.6" y="152.52" width="1.6" height="9.86" fill="#f9f2f7"/>
<rect x="594.2" y="152.52" width="1.2" height="9.86" fill="#f8f1f6"/>
<rect x="595.40" y="152.52" width="16.10" height="9.86" fill="#f8f0f6" shape-rendering="crispEdges"/>
<rect x="600.6" y="152.52" width="0.6" height="9.86" fill="#fbf3f5"/>
<rect x="606.4" y="152.52" width="1.0" height="9.86" fill="#fbf5f7"/>
<rect x="608.0" y="152.52" width="1.6" height="9.86" fill="#f5ecf6"/>
<rect x="609.6" y="152.52" width="1.0" height="9.86" fill="#fbf2f3"/>
<rect x="611.50" y="152.52" width="8.90" height="9.86" fill="#f8f0f6" shape-rendering="crispEdges"/>
<rect x="614.4" y="152.52" width="1.0" height="9.86" fill="#f8f1f6"/>
<rect x="616.4" y="152.52" width="1.0" height="9.86" fill="#f7eff6"/>
<rect x="617.4" y="152.52" width="1.0" height="9.86" fill="#f7eef6"/>
<rect x="618.4" y="152.52" width="1.3" height="9.86" fill="#fbf4f6"/>
<rect x="619.7" y="152.52" width="0.7" height="9.86" fill="#faeded"/>
<rect x="620.40" y="152.52" width="8.10" height="9.86" fill="#f8f0f6" shape-rendering="crispEdges"/>
<rect x="620.4" y="152.52" width="0.6" height="9.86" fill="#f8f1f6"/>
<rect x="621.0" y="152.52" width="1.0" height="9.86" fill="#fbf1f2"/>
<rect x="623.9" y="152.52" width="1.3" height="9.86" fill="#f2e8f5"/>
<text x="406.00" y="159.95" font-size="7.0" text-anchor="end" fill="#141414" stroke="#141414" stroke-width="0.2" textLength="23.01" lengthAdjust="spacingAndGlyphs">Neurod6</text>
<rect x="408.10" y="162.38" width="83.50" height="9.86" fill="#f7d2cc" shape-rendering="crispEdges"/>
<rect x="408.1" y="162.38" width="0.6" height="9.86" fill="#f6c9c0"/>
<rect x="410.5" y="162.38" width="1.6" height="9.86" fill="#f5c4ba"/>
<rect x="415.1" y="162.38" width="0.8" height="9.86" fill="#f1a493"/>
<rect x="415.9" y="162.38" width="1.0" height="9.86" fill="#f7d3cd"/>
<rect x="420.9" y="162.38" width="1.6" height="9.86" fill="#f7d2cb"/>
<rect x="422.5" y="162.38" width="1.0" height="9.86" fill="#f6cbc3"/>
<rect x="423.5" y="162.38" width="1.3" height="9.86" fill="#f5c3b9"/>
<rect x="424.8" y="162.38" width="0.8" height="9.86" fill="#f3b0a2"/>
<rect x="425.6" y="162.38" width="0.8" height="9.86" fill="#f8dbd7"/>
<rect x="426.4" y="162.38" width="1.3" height="9.86" fill="#f3b1a3"/>
<rect x="427.7" y="162.38" width="1.3" height="9.86" fill="#f7d5cf"/>
<rect x="429.8" y="162.38" width="0.8" height="9.86" fill="#f3b3a6"/>
<rect x="430.6" y="162.38" width="1.0" height="9.86" fill="#f3afa0"/>
<rect x="431.6" y="162.38" width="0.8" height="9.86" fill="#f3b2a4"/>
<rect x="436.3" y="162.38" width="1.0" height="9.86" fill="#f7d6d1"/>
<rect x="437.9" y="162.38" width="1.0" height="9.86" fill="#f8d9d4"/>
<rect x="438.9" y="162.38" width="1.0" height="9.86" fill="#f6c9c0"/>
<rect x="439.9" y="162.38" width="0.6" height="9.86" fill="#f4b9ad"/>
<rect x="443.1" y="162.38" width="0.6" height="9.86" fill="#f2ab9c"/>
<rect x="443.7" y="162.38" width="1.0" height="9.86" fill="#f5c2b8"/>
<rect x="446.5" y="162.38" width="1.0" height="9.86" fill="#f4baaf"/>
<rect x="449.6" y="162.38" width="1.0" height="9.86" fill="#f3b0a1"/>
<rect x="450.6" y="162.38" width="1.6" height="9.86" fill="#f6c7be"/>
<rect x="452.2" y="162.38" width="1.0" height="9.86" fill="#f7d8d3"/>
<rect x="455.0" y="162.38" width="1.0" height="9.86" fill="#f6ccc4"/>
<rect x="456.6" y="162.38" width="0.8" height="9.86" fill="#f7d3cc"/>
<rect x="457.4" y="162.38" width="1.3" height="9.86" fill="#f5c3b9"/>
<rect x="459.7" y="162.38" width="1.6" height="9.86" fill="#f3b3a6"/>
<rect x="461.9" y="162.38" width="1.6" height="9.86" fill="#f3b0a2"/>
<rect x="463.5" y="162.38" width="1.0" height="9.86" fill="#f3ad9e"/>
<rect x="465.1" y="162.38" width="1.6" height="9.86" fill="#f6c8bf"/>
<rect x="466.7" y="162.38" width="0.6" height="9.86" fill="#f5c4ba"/>
<rect x="467.3" y="162.38" width="0.8" height="9.86" fill="#f8d9d4"/>
<rect x="469.1" y="162.38" width="1.0" height="9.86" fill="#f3afa0"/>
<rect x="470.1" y="162.38" width="0.8" height="9.86" fill="#f5c3b9"/>
<rect x="470.9" y="162.38" width="1.0" height="9.86" fill="#f3b5a8"/>
<rect x="471.9" y="162.38" width="1.6" height="9.86" fill="#f8ddda"/>
<rect x="473.5" y="162.38" width="1.0" height="9.86" fill="#f4baae"/>
<rect x="475.1" y="162.38" width="0.6" height="9.86" fill="#f7d8d3"/>
<rect x="475.7" y="162.38" width="1.6" height="9.86" fill="#f6c9c0"/>
<rect x="477.9" y="162.38" width="0.6" height="9.86" fill="#f5c4ba"/>
<rect x="479.3" y="162.38" width="1.6" height="9.86" fill="#f4baae"/>
<rect x="482.2" y="162.38" width="1.6" height="9.86" fill="#f4bbaf"/>
<rect x="483.8" y="162.38" width="1.0" height="9.86" fill="#f4bdb1"/>
<rect x="484.8" y="162.38" width="1.3" height="9.86" fill="#f7d5d0"/>
<rect x="486.1" y="162.38" width="0.8" height="9.86" fill="#f5bfb4"/>
<rect x="489.2" y="162.38" width="1.3" height="9.86" fill="#f7d6d1"/>
<rect x="491.60" y="162.38" width="53.00" height="9.86" fill="#f3e9f5" shape-rendering="crispEdges"/>
<rect x="494.2" y="162.38" width="0.8" height="9.86" fill="#eee2f3"/>
<rect x="495.0" y="162.38" width="1.6" height="9.86" fill="#f2e7f5"/>
<rect x="496.6" y="162.38" width="1.0" height="9.86" fill="#f6edf6"/>
<rect x="497.6" y="162.38" width="1.0" height="9.86" fill="#f5ebf5"/>
<rect x="498.6" y="162.38" width="0.8" height="9.86" fill="#f9e5e3"/>
<rect x="500.2" y="162.38" width="1.0" height="9.86" fill="#f2e8f5"/>
<rect x="501.2" y="162.38" width="1.6" height="9.86" fill="#efe3f4"/>
<rect x="503.6" y="162.38" width="1.6" height="9.86" fill="#fbf2f4"/>
<rect x="505.2" y="162.38" width="1.3" height="9.86" fill="#f7eef6"/>
<rect x="506.5" y="162.38" width="1.6" height="9.86" fill="#f5ecf5"/>
<rect x="508.1" y="162.38" width="1.6" height="9.86" fill="#fbf3f5"/>
<rect x="509.7" y="162.38" width="1.0" height="9.86" fill="#faeff0"/>
<rect x="510.7" y="162.38" width="1.3" height="9.86" fill="#f3e9f5"/>
<rect x="512.0" y="162.38" width="0.6" height="9.86" fill="#fae9e8"/>
<rect x="512.6" y="162.38" width="0.8" height="9.86" fill="#faebeb"/>
<rect x="523.8" y="162.38" width="0.8" height="9.86" fill="#f5edf6"/>
<rect x="524.6" y="162.38" width="0.6" height="9.86" fill="#f3e9f5"/>
<rect x="526.2" y="162.38" width="0.6" height="9.86" fill="#f2e7f5"/>
<rect x="529.4" y="162.38" width="0.8" height="9.86" fill="#f3e9f5"/>
<rect x="531.0" y="162.38" width="1.0" height="9.86" fill="#f9f1f6"/>
<rect x="533.0" y="162.38" width="1.0" height="9.86" fill="#f3e9f5"/>
<rect x="534.0" y="162.38" width="1.3" height="9.86" fill="#f5ebf5"/>
<rect x="535.3" y="162.38" width="0.6" height="9.86" fill="#faeff0"/>
<rect x="541.5" y="162.38" width="0.6" height="9.86" fill="#efe4f4"/>
<rect x="542.1" y="162.38" width="0.8" height="9.86" fill="#f9e8e6"/>
<rect x="542.9" y="162.38" width="1.3" height="9.86" fill="#f8e0dd"/>
<rect x="544.60" y="162.38" width="28.80" height="9.86" fill="#f3e9f5" shape-rendering="crispEdges"/>
<rect x="544.6" y="162.38" width="0.8" height="9.86" fill="#f8e0dc"/>
<rect x="545.4" y="162.38" width="1.0" height="9.86" fill="#f6edf6"/>
<rect x="548.0" y="162.38" width="0.8" height="9.86" fill="#faedee"/>
<rect x="551.4" y="162.38" width="1.0" height="9.86" fill="#f3e9f5"/>
<rect x="555.3" y="162.38" width="1.0" height="9.86" fill="#faf3f7"/>
<rect x="559.7" y="162.38" width="1.0" height="9.86" fill="#f1e6f4"/>
<rect x="560.7" y="162.38" width="1.0" height="9.86" fill="#f5ebf5"/>
<rect x="565.1" y="162.38" width="0.8" height="9.86" fill="#f9e6e4"/>
<rect x="565.9" y="162.38" width="0.8" height="9.86" fill="#faebea"/>
<rect x="570.5" y="162.38" width="0.8" height="9.86" fill="#f9f2f7"/>
<rect x="571.3" y="162.38" width="0.8" height="9.86" fill="#f9e3e0"/>
<rect x="572.1" y="162.38" width="0.8" height="9.86" fill="#f2e8f5"/>
<rect x="572.9" y="162.38" width="0.5" height="9.86" fill="#f2e8f5"/>
<rect x="573.40" y="162.38" width="22.00" height="9.86" fill="#f3e9f5" shape-rendering="crispEdges"/>
<rect x="573.4" y="162.38" width="0.8" height="9.86" fill="#f3e9f5"/>
<rect x="574.2" y="162.38" width="1.0" height="9.86" fill="#f5ecf5"/>
<rect x="576.2" y="162.38" width="1.3" height="9.86" fill="#f3e9f5"/>
<rect x="578.5" y="162.38" width="0.6" height="9.86" fill="#f2e8f5"/>
<rect x="579.9" y="162.38" width="1.0" height="9.86" fill="#f5edf6"/>
<rect x="582.8" y="162.38" width="1.6" height="9.86" fill="#f6edf6"/>
<rect x="585.0" y="162.38" width="1.0" height="9.86" fill="#efe4f4"/>
<rect x="586.0" y="162.38" width="1.3" height="9.86" fill="#f0e6f4"/>
<rect x="587.3" y="162.38" width="1.6" height="9.86" fill="#ecdff3"/>
<rect x="590.5" y="162.38" width="1.0" height="9.86" fill="#fae9e8"/>
<rect x="592.5" y="162.38" width="1.6" height="9.86" fill="#f2e7f5"/>
<rect x="594.1" y="162.38" width="1.3" height="9.86" fill="#f7eef6"/>
<rect x="595.40" y="162.38" width="16.10" height="9.86" fill="#f3e9f5" shape-rendering="crispEdges"/>
<rect x="597.0" y="162.38" width="0.6" height="9.86" fill="#f3e9f5"/>
<rect x="597.6" y="162.38" width="1.6" height="9.86" fill="#f3e9f5"/>
<rect x="600.2" y="162.38" width="0.8" height="9.86" fill="#f7eef6"/>
<rect x="601.0" y="162.38" width="1.0" height="9.86" fill="#fbf4f5"/>
<rect x="602.0" y="162.38" width="0.8" height="9.86" fill="#ece0f3"/>
<rect x="603.4" y="162.38" width="1.0" height="9.86" fill="#fbf2f4"/>
<rect x="606.0" y="162.38" width="0.6" height="9.86" fill="#f6eef6"/>
<rect x="606.6" y="162.38" width="1.3" height="9.86" fill="#f1e6f4"/>
<rect x="607.9" y="162.38" width="1.0" height="9.86" fill="#f8f1f6"/>
<rect x="609.7" y="162.38" width="1.0" height="9.86" fill="#f0e5f4"/>
<rect x="611.50" y="162.38" width="8.90" height="9.86" fill="#f3e9f5" shape-rendering="crispEdges"/>
<rect x="612.9" y="162.38" width="0.8" height="9.86" fill="#faeeee"/>
<rect x="613.7" y="162.38" width="1.0" height="9.86" fill="#f2e8f5"/>
<rect x="620.40" y="162.38" width="8.10" height="9.86" fill="#f3e9f5" shape-rendering="crispEdges"/>
<rect x="620.4" y="162.38" width="1.3" height="9.86" fill="#efe4f4"/>
<rect x="623.3" y="162.38" width="0.8" height="9.86" fill="#faeeee"/>
<rect x="624.1" y="162.38" width="1.0" height="9.86" fill="#f1e7f5"/>
<rect x="625.1" y="162.38" width="0.8" height="9.86" fill="#eee2f3"/>
<rect x="627.2" y="162.38" width="0.8" height="9.86" fill="#faeeee"/>
<text x="406.00" y="169.81" font-size="7.0" text-anchor="end" fill="#141414" stroke="#141414" stroke-width="0.2" textLength="13.00" lengthAdjust="spacingAndGlyphs">Nrn1</text>
<rect x="408.10" y="172.24" width="83.50" height="9.86" fill="#eee2f4" shape-rendering="crispEdges"/>
<rect x="408.9" y="172.24" width="1.0" height="9.86" fill="#fbf4f6"/>
<rect x="409.9" y="172.24" width="1.0" height="9.86" fill="#ede2f3"/>
<rect x="412.5" y="172.24" width="1.0" height="9.86" fill="#f8f1f6"/>
<rect x="413.5" y="172.24" width="1.0" height="9.86" fill="#f0e5f4"/>
<rect x="414.5" y="172.24" width="1.0" height="9.86" fill="#faf1f1"/>
<rect x="416.8" y="172.24" width="0.6" height="9.86" fill="#efe4f4"/>
<rect x="417.4" y="172.24" width="1.0" height="9.86" fill="#f9e7e6"/>
<rect x="420.8" y="172.24" width="1.0" height="9.86" fill="#fbf4f6"/>
<rect x="421.8" y="172.24" width="1.0" height="9.86" fill="#faeff0"/>
<rect x="424.4" y="172.24" width="1.0" height="9.86" fill="#faecec"/>
<rect x="425.4" y="172.24" width="0.6" height="9.86" fill="#ede2f3"/>
<rect x="426.0" y="172.24" width="1.0" height="9.86" fill="#faefef"/>
<rect x="428.9" y="172.24" width="1.0" height="9.86" fill="#faebea"/>
<rect x="429.9" y="172.24" width="0.8" height="9.86" fill="#faf3f7"/>
<rect x="431.3" y="172.24" width="0.6" height="9.86" fill="#f0e5f4"/>
<rect x="431.9" y="172.24" width="1.3" height="9.86" fill="#f9f1f6"/>
<rect x="433.8" y="172.24" width="1.3" height="9.86" fill="#faf4f7"/>
<rect x="436.7" y="172.24" width="1.0" height="9.86" fill="#ede2f3"/>
<rect x="440.6" y="172.24" width="1.6" height="9.86" fill="#faebeb"/>
<rect x="443.5" y="172.24" width="0.8" height="9.86" fill="#faf3f7"/>
<rect x="444.3" y="172.24" width="1.0" height="9.86" fill="#f5ecf6"/>
<rect x="445.3" y="172.24" width="1.0" height="9.86" fill="#fbf2f3"/>
<rect x="446.3" y="172.24" width="1.0" height="9.86" fill="#f8f1f6"/>
<rect x="447.3" y="172.24" width="1.0" height="9.86" fill="#f0e5f4"/>
<rect x="448.3" y="172.24" width="1.0" height="9.86" fill="#f8dfdb"/>
<rect x="449.3" y="172.24" width="1.0" height="9.86" fill="#faeded"/>
<rect x="450.3" y="172.24" width="0.6" height="9.86" fill="#f9e4e2"/>
<rect x="451.5" y="172.24" width="0.8" height="9.86" fill="#ede1f3"/>
<rect x="454.4" y="172.24" width="1.0" height="9.86" fill="#f4eaf5"/>
<rect x="455.4" y="172.24" width="1.0" height="9.86" fill="#efe4f4"/>
<rect x="456.4" y="172.24" width="1.0" height="9.86" fill="#ede1f3"/>
<rect x="457.4" y="172.24" width="0.6" height="9.86" fill="#f1e6f4"/>
<rect x="458.0" y="172.24" width="0.6" height="9.86" fill="#faeded"/>
<rect x="458.6" y="172.24" width="1.0" height="9.86" fill="#f8e0dd"/>
<rect x="460.4" y="172.24" width="1.0" height="9.86" fill="#eee2f3"/>
<rect x="462.0" y="172.24" width="1.0" height="9.86" fill="#faf0f1"/>
<rect x="463.0" y="172.24" width="0.8" height="9.86" fill="#faf0f1"/>
<rect x="465.9" y="172.24" width="1.0" height="9.86" fill="#faeceb"/>
<rect x="467.9" y="172.24" width="1.0" height="9.86" fill="#f9f2f6"/>
<rect x="468.9" y="172.24" width="1.0" height="9.86" fill="#fbf4f6"/>
<rect x="472.5" y="172.24" width="1.0" height="9.86" fill="#f9e5e4"/>
<rect x="473.5" y="172.24" width="0.8" height="9.86" fill="#eee3f4"/>
<rect x="474.3" y="172.24" width="1.3" height="9.86" fill="#faf1f2"/>
<rect x="475.6" y="172.24" width="1.0" height="9.86" fill="#efe3f4"/>
<rect x="476.6" y="172.24" width="0.8" height="9.86" fill="#f9e6e5"/>
<rect x="477.4" y="172.24" width="1.0" height="9.86" fill="#faeded"/>
<rect x="478.4" y="172.24" width="1.0" height="9.86" fill="#e9dcf2"/>
<rect x="483.1" y="172.24" width="0.6" height="9.86" fill="#faecec"/>
<rect x="483.7" y="172.24" width="0.8" height="9.86" fill="#faf3f7"/>
<rect x="486.1" y="172.24" width="1.6" height="9.86" fill="#f6eef6"/>
<rect x="487.7" y="172.24" width="0.8" height="9.86" fill="#fbf1f2"/>
<rect x="491.60" y="172.24" width="53.00" height="9.86" fill="#f5c4bb" shape-rendering="crispEdges"/>
<rect x="491.6" y="172.24" width="1.3" height="9.86" fill="#f3b1a3"/>
<rect x="492.9" y="172.24" width="1.6" height="9.86" fill="#f3b1a4"/>
<rect x="495.5" y="172.24" width="1.3" height="9.86" fill="#f3afa1"/>
<rect x="500.0" y="172.24" width="0.6" height="9.86" fill="#f09e8d"/>
<rect x="501.2" y="172.24" width="0.8" height="9.86" fill="#f1a392"/>
<rect x="502.0" y="172.24" width="1.0" height="9.86" fill="#f3b2a4"/>
<rect x="503.8" y="172.24" width="0.8" height="9.86" fill="#f2a999"/>
<rect x="504.6" y="172.24" width="1.6" height="9.86" fill="#f2ac9d"/>
<rect x="507.8" y="172.24" width="0.8" height="9.86" fill="#f5bfb4"/>
<rect x="508.6" y="172.24" width="0.6" height="9.86" fill="#f1a393"/>
<rect x="509.2" y="172.24" width="0.6" height="9.86" fill="#f6cac2"/>
<rect x="509.8" y="172.24" width="1.0" height="9.86" fill="#f4b6a9"/>
<rect x="510.8" y="172.24" width="1.0" height="9.86" fill="#f1a08f"/>
<rect x="513.4" y="172.24" width="1.6" height="9.86" fill="#ef9483"/>
<rect x="515.0" y="172.24" width="1.6" height="9.86" fill="#f4b8ac"/>
<rect x="517.9" y="172.24" width="0.8" height="9.86" fill="#f09c8b"/>
<rect x="521.7" y="172.24" width="0.6" height="9.86" fill="#f2a595"/>
<rect x="522.3" y="172.24" width="0.6" height="9.86" fill="#f3b4a6"/>
<rect x="523.9" y="172.24" width="1.0" height="9.86" fill="#f3b5a8"/>
<rect x="524.9" y="172.24" width="1.0" height="9.86" fill="#f2a999"/>
<rect x="525.9" y="172.24" width="1.3" height="9.86" fill="#f5c5bc"/>
<rect x="527.2" y="172.24" width="1.3" height="9.86" fill="#f5c2b8"/>
<rect x="528.5" y="172.24" width="0.6" height="9.86" fill="#f4baae"/>
<rect x="529.1" y="172.24" width="1.0" height="9.86" fill="#f3ae9f"/>
<rect x="530.1" y="172.24" width="0.8" height="9.86" fill="#f6c7be"/>
<rect x="530.9" y="172.24" width="0.6" height="9.86" fill="#f4b8ab"/>
<rect x="533.1" y="172.24" width="1.3" height="9.86" fill="#f6c9c1"/>
<rect x="536.0" y="172.24" width="1.6" height="9.86" fill="#f09b8a"/>
<rect x="537.6" y="172.24" width="1.3" height="9.86" fill="#f5c6bd"/>
<rect x="540.5" y="172.24" width="1.0" height="9.86" fill="#f3b5a8"/>
<rect x="542.3" y="172.24" width="1.3" height="9.86" fill="#f5c1b7"/>
<rect x="543.6" y="172.24" width="1.0" height="9.86" fill="#f2ab9b"/>
<rect x="544.60" y="172.24" width="28.80" height="9.86" fill="#f0e5f4" shape-rendering="crispEdges"/>
<rect x="546.2" y="172.24" width="1.0" height="9.86" fill="#f7d4ce"/>
<rect x="553.5" y="172.24" width="0.6" height="9.86" fill="#f9e1de"/>
<rect x="554.1" y="172.24" width="0.8" height="9.86" fill="#ece0f3"/>
<rect x="554.9" y="172.24" width="0.6" height="9.86" fill="#f2e8f5"/>
<rect x="557.9" y="172.24" width="1.6" height="9.86" fill="#f8dfdb"/>
<rect x="559.5" y="172.24" width="1.0" height="9.86" fill="#f9e7e5"/>
<rect x="563.4" y="172.24" width="1.0" height="9.86" fill="#f3e9f5"/>
<rect x="565.7" y="172.24" width="1.6" height="9.86" fill="#ede1f3"/>
<rect x="567.3" y="172.24" width="1.3" height="9.86" fill="#ede1f3"/>
<rect x="570.5" y="172.24" width="1.0" height="9.86" fill="#faebeb"/>
<rect x="573.40" y="172.24" width="22.00" height="9.86" fill="#f0e6f4" shape-rendering="crispEdges"/>
<rect x="574.4" y="172.24" width="0.6" height="9.86" fill="#f5ebf5"/>
<rect x="576.4" y="172.24" width="1.0" height="9.86" fill="#ece0f3"/>
<rect x="577.4" y="172.24" width="1.6" height="9.86" fill="#f1e6f4"/>
<rect x="582.5" y="172.24" width="0.6" height="9.86" fill="#ede1f3"/>
<rect x="583.1" y="172.24" width="0.8" height="9.86" fill="#f9e8e7"/>
<rect x="583.9" y="172.24" width="0.6" height="9.86" fill="#ecdff3"/>
<rect x="584.5" y="172.24" width="1.0" height="9.86" fill="#f9e5e3"/>
<rect x="585.5" y="172.24" width="1.0" height="9.86" fill="#f1e6f4"/>
<rect x="589.1" y="172.24" width="1.0" height="9.86" fill="#fbf1f2"/>
<rect x="590.1" y="172.24" width="0.6" height="9.86" fill="#f9e5e3"/>
<rect x="591.7" y="172.24" width="1.0" height="9.86" fill="#faeeee"/>
<rect x="592.7" y="172.24" width="1.0" height="9.86" fill="#f9e4e2"/>
<rect x="595.40" y="172.24" width="16.10" height="9.86" fill="#eee2f4" shape-rendering="crispEdges"/>
<rect x="598.0" y="172.24" width="0.8" height="9.86" fill="#fae9e9"/>
<rect x="598.8" y="172.24" width="1.6" height="9.86" fill="#f8f1f6"/>
<rect x="601.4" y="172.24" width="1.0" height="9.86" fill="#f9e3e1"/>
<rect x="602.4" y="172.24" width="1.0" height="9.86" fill="#faf3f7"/>
<rect x="603.4" y="172.24" width="1.3" height="9.86" fill="#efe3f4"/>
<rect x="604.7" y="172.24" width="1.3" height="9.86" fill="#fbf4f7"/>
<rect x="606.0" y="172.24" width="0.6" height="9.86" fill="#faeded"/>
<rect x="607.9" y="172.24" width="1.0" height="9.86" fill="#f1e6f4"/>
<rect x="608.9" y="172.24" width="0.8" height="9.86" fill="#eee2f3"/>
<rect x="609.7" y="172.24" width="1.6" height="9.86" fill="#faeeef"/>
<rect x="611.50" y="172.24" width="8.90" height="9.86" fill="#eee2f4" shape-rendering="crispEdges"/>
<rect x="612.5" y="172.24" width="1.0" height="9.86" fill="#f9e6e4"/>
<rect x="615.9" y="172.24" width="0.6" height="9.86" fill="#f8f0f6"/>
<rect x="619.1" y="172.24" width="1.3" height="9.86" fill="#f2e8f5"/>
<rect x="620.40" y="172.24" width="8.10" height="9.86" fill="#faeeef" shape-rendering="crispEdges"/>
<rect x="620.4" y="172.24" width="1.6" height="9.86" fill="#f5c6bd"/>
<rect x="622.0" y="172.24" width="1.0" height="9.86" fill="#f6cbc3"/>
<rect x="623.0" y="172.24" width="1.3" height="9.86" fill="#f6cac1"/>
<rect x="624.3" y="172.24" width="0.8" height="9.86" fill="#f7d7d1"/>
<text x="406.00" y="179.67" font-size="7.0" text-anchor="end" fill="#141414" stroke="#141414" stroke-width="0.2" textLength="14.68" lengthAdjust="spacingAndGlyphs">Gad1</text>
<rect x="408.10" y="182.10" width="83.50" height="9.86" fill="#f0e5f4" shape-rendering="crispEdges"/>
<rect x="409.1" y="182.10" width="1.3" height="9.86" fill="#ede1f3"/>
<rect x="410.4" y="182.10" width="1.3" height="9.86" fill="#faeeef"/>
<rect x="411.7" y="182.10" width="1.0" height="9.86" fill="#f9e6e5"/>
<rect x="416.1" y="182.10" width="1.3" height="9.86" fill="#efe4f4"/>
<rect x="417.4" y="182.10" width="0.6" height="9.86" fill="#f0e5f4"/>
<rect x="418.0" y="182.10" width="0.6" height="9.86" fill="#eee2f3"/>
<rect x="419.9" y="182.10" width="1.0" height="9.86" fill="#f0e6f4"/>
<rect x="422.2" y="182.10" width="1.0" height="9.86" fill="#f2e7f5"/>
<rect x="423.2" y="182.10" width="1.6" height="9.86" fill="#fbf2f3"/>
<rect x="424.8" y="182.10" width="1.0" height="9.86" fill="#f1e6f4"/>
<rect x="425.8" y="182.10" width="0.8" height="9.86" fill="#f3eaf5"/>
<rect x="426.6" y="182.10" width="1.3" height="9.86" fill="#ece0f3"/>
<rect x="429.2" y="182.10" width="0.6" height="9.86" fill="#faebeb"/>
<rect x="432.7" y="182.10" width="1.3" height="9.86" fill="#f0e5f4"/>
<rect x="434.0" y="182.10" width="0.6" height="9.86" fill="#fae9e8"/>
<rect x="436.8" y="182.10" width="1.6" height="9.86" fill="#f9e7e5"/>
<rect x="438.4" y="182.10" width="0.6" height="9.86" fill="#faeeef"/>
<rect x="439.0" y="182.10" width="1.6" height="9.86" fill="#e9dcf2"/>
<rect x="440.6" y="182.10" width="0.6" height="9.86" fill="#f9e2e0"/>
<rect x="442.8" y="182.10" width="1.6" height="9.86" fill="#f9e1de"/>
<rect x="444.4" y="182.10" width="1.3" height="9.86" fill="#f5ecf6"/>
<rect x="445.7" y="182.10" width="1.0" height="9.86" fill="#faeae9"/>
<rect x="446.7" y="182.10" width="1.6" height="9.86" fill="#f8dcd7"/>
<rect x="450.3" y="182.10" width="1.0" height="9.86" fill="#faeded"/>
<rect x="451.3" y="182.10" width="1.0" height="9.86" fill="#f9e8e6"/>
<rect x="452.3" y="182.10" width="1.0" height="9.86" fill="#f9e5e4"/>
<rect x="453.3" y="182.10" width="1.0" height="9.86" fill="#faeeef"/>
<rect x="454.3" y="182.10" width="0.8" height="9.86" fill="#f8dcd8"/>
<rect x="457.0" y="182.10" width="1.0" height="9.86" fill="#eee3f4"/>
<rect x="459.0" y="182.10" width="0.8" height="9.86" fill="#fbf1f2"/>
<rect x="459.8" y="182.10" width="1.6" height="9.86" fill="#f9e4e2"/>
<rect x="461.4" y="182.10" width="0.8" height="9.86" fill="#faeae9"/>
<rect x="462.2" y="182.10" width="1.0" height="9.86" fill="#faeaea"/>
<rect x="463.2" y="182.10" width="1.0" height="9.86" fill="#f8dcd8"/>
<rect x="464.2" y="182.10" width="0.8" height="9.86" fill="#f8dcd8"/>
<rect x="465.0" y="182.10" width="1.3" height="9.86" fill="#ece0f3"/>
<rect x="466.3" y="182.10" width="0.6" height="9.86" fill="#f9f2f6"/>
<rect x="466.9" y="182.10" width="1.0" height="9.86" fill="#fbf2f4"/>
<rect x="467.9" y="182.10" width="1.0" height="9.86" fill="#f8e0dd"/>
<rect x="468.9" y="182.10" width="1.3" height="9.86" fill="#faefef"/>
<rect x="471.8" y="182.10" width="1.3" height="9.86" fill="#f8dedb"/>
<rect x="474.1" y="182.10" width="0.6" height="9.86" fill="#f9e6e4"/>
<rect x="474.7" y="182.10" width="1.3" height="9.86" fill="#faeded"/>
<rect x="477.0" y="182.10" width="1.3" height="9.86" fill="#f9e7e5"/>
<rect x="478.3" y="182.10" width="0.6" height="9.86" fill="#fae9e8"/>
<rect x="479.9" y="182.10" width="0.8" height="9.86" fill="#faeeee"/>
<rect x="481.7" y="182.10" width="1.0" height="9.86" fill="#f8dfdc"/>
<rect x="482.7" y="182.10" width="1.0" height="9.86" fill="#faebeb"/>
<rect x="483.7" y="182.10" width="1.0" height="9.86" fill="#f8dfdb"/>
<rect x="486.3" y="182.10" width="1.6" height="9.86" fill="#f8dbd7"/>
<rect x="487.9" y="182.10" width="1.0" height="9.86" fill="#f8deda"/>
<rect x="488.9" y="182.10" width="0.8" height="9.86" fill="#f1e6f4"/>
<rect x="491.60" y="182.10" width="53.00" height="9.86" fill="#f4beb3" shape-rendering="crispEdges"/>
<rect x="491.6" y="182.10" width="0.8" height="9.86" fill="#f3ae9f"/>
<rect x="493.4" y="182.10" width="0.8" height="9.86" fill="#f4b7ab"/>
<rect x="498.5" y="182.10" width="1.0" height="9.86" fill="#f3ae9f"/>
<rect x="499.5" y="182.10" width="1.0" height="9.86" fill="#f5beb3"/>
<rect x="500.5" y="182.10" width="1.3" height="9.86" fill="#f09988"/>
<rect x="502.8" y="182.10" width="0.6" height="9.86" fill="#f3ae9f"/>
<rect x="505.0" y="182.10" width="0.8" height="9.86" fill="#f3ad9e"/>
<rect x="505.8" y="182.10" width="0.6" height="9.86" fill="#f2a695"/>
<rect x="506.4" y="182.10" width="0.6" height="9.86" fill="#f3aea0"/>
<rect x="507.0" y="182.10" width="1.6" height="9.86" fill="#ee9280"/>
<rect x="509.6" y="182.10" width="1.0" height="9.86" fill="#f1a493"/>
<rect x="511.6" y="182.10" width="1.0" height="9.86" fill="#f5c2b8"/>
<rect x="512.6" y="182.10" width="0.8" height="9.86" fill="#f2a695"/>
<rect x="513.4" y="182.10" width="1.0" height="9.86" fill="#f4bbaf"/>
<rect x="515.2" y="182.10" width="1.6" height="9.86" fill="#f4beb3"/>
<rect x="516.8" y="182.10" width="0.8" height="9.86" fill="#f5c5bc"/>
<rect x="519.6" y="182.10" width="0.8" height="9.86" fill="#ef9684"/>
<rect x="520.4" y="182.10" width="1.0" height="9.86" fill="#f1a493"/>
<rect x="521.4" y="182.10" width="1.0" height="9.86" fill="#f1a494"/>
<rect x="522.4" y="182.10" width="1.6" height="9.86" fill="#f4bcb0"/>
<rect x="524.0" y="182.10" width="1.6" height="9.86" fill="#f3b0a1"/>
<rect x="525.6" y="182.10" width="1.0" height="9.86" fill="#ef9482"/>
<rect x="527.9" y="182.10" width="1.3" height="9.86" fill="#f1a494"/>
<rect x="529.2" y="182.10" width="1.0" height="9.86" fill="#f4baae"/>
<rect x="530.2" y="182.10" width="1.0" height="9.86" fill="#f09c8b"/>
<rect x="532.0" y="182.10" width="0.8" height="9.86" fill="#f09c8b"/>
<rect x="532.8" y="182.10" width="0.6" height="9.86" fill="#f4beb3"/>
<rect x="533.4" y="182.10" width="0.8" height="9.86" fill="#f2a898"/>
<rect x="534.2" y="182.10" width="1.3" height="9.86" fill="#f5bfb4"/>
<rect x="536.5" y="182.10" width="1.0" height="9.86" fill="#f09c8b"/>
<rect x="538.3" y="182.10" width="0.8" height="9.86" fill="#ed8775"/>
<rect x="540.1" y="182.10" width="1.0" height="9.86" fill="#f3afa0"/>
<rect x="541.1" y="182.10" width="1.0" height="9.86" fill="#f3b2a5"/>
<rect x="542.1" y="182.10" width="0.8" height="9.86" fill="#f3ad9f"/>
<rect x="542.9" y="182.10" width="1.0" height="9.86" fill="#f3ad9e"/>
<rect x="543.9" y="182.10" width="0.7" height="9.86" fill="#ef9584"/>
<rect x="544.60" y="182.10" width="28.80" height="9.86" fill="#f0e6f4" shape-rendering="crispEdges"/>
<rect x="545.6" y="182.10" width="1.0" height="9.86" fill="#f7d6d1"/>
<rect x="548.6" y="182.10" width="1.6" height="9.86" fill="#fbf1f2"/>
<rect x="550.2" y="182.10" width="1.6" height="9.86" fill="#faebea"/>
<rect x="552.8" y="182.10" width="0.8" height="9.86" fill="#faecec"/>
<rect x="553.6" y="182.10" width="1.6" height="9.86" fill="#f1e7f4"/>
<rect x="557.5" y="182.10" width="1.0" height="9.86" fill="#f9e3e1"/>
<rect x="558.5" y="182.10" width="0.8" height="9.86" fill="#f0e5f4"/>
<rect x="559.3" y="182.10" width="0.8" height="9.86" fill="#f2e8f5"/>
<rect x="560.1" y="182.10" width="1.3" height="9.86" fill="#f9e3e0"/>
<rect x="561.4" y="182.10" width="1.6" height="9.86" fill="#f9e5e3"/>
<rect x="563.0" y="182.10" width="1.0" height="9.86" fill="#efe4f4"/>
<rect x="564.0" y="182.10" width="1.0" height="9.86" fill="#f3e9f5"/>
<rect x="566.0" y="182.10" width="1.0" height="9.86" fill="#f7eff6"/>
<rect x="567.0" y="182.10" width="1.3" height="9.86" fill="#f7d0c9"/>
<rect x="568.9" y="182.10" width="1.0" height="9.86" fill="#f7d7d2"/>
<rect x="570.9" y="182.10" width="1.3" height="9.86" fill="#f9e5e3"/>
<rect x="573.0" y="182.10" width="0.4" height="9.86" fill="#f3eaf5"/>
<rect x="573.40" y="182.10" width="22.00" height="9.86" fill="#f0e6f4" shape-rendering="crispEdges"/>
<rect x="573.4" y="182.10" width="0.8" height="9.86" fill="#f9e7e5"/>
<rect x="574.2" y="182.10" width="1.0" height="9.86" fill="#f1e7f5"/>
<rect x="575.2" y="182.10" width="0.6" height="9.86" fill="#f9e6e5"/>
<rect x="577.8" y="182.10" width="1.3" height="9.86" fill="#f9e3e1"/>
<rect x="579.1" y="182.10" width="1.6" height="9.86" fill="#efe4f4"/>
<rect x="584.1" y="182.10" width="1.3" height="9.86" fill="#f8deda"/>
<rect x="586.4" y="182.10" width="1.6" height="9.86" fill="#faefef"/>
<rect x="588.0" y="182.10" width="1.3" height="9.86" fill="#eee2f3"/>
<rect x="589.3" y="182.10" width="1.6" height="9.86" fill="#fbf3f5"/>
<rect x="590.9" y="182.10" width="1.3" height="9.86" fill="#f4ebf5"/>
<rect x="595.1" y="182.10" width="0.3" height="9.86" fill="#faeae9"/>
<rect x="595.40" y="182.10" width="16.10" height="9.86" fill="#efe4f4" shape-rendering="crispEdges"/>
<rect x="599.3" y="182.10" width="0.6" height="9.86" fill="#f9e6e4"/>
<rect x="604.1" y="182.10" width="0.8" height="9.86" fill="#fbf4f6"/>
<rect x="605.7" y="182.10" width="0.8" height="9.86" fill="#f0e5f4"/>
<rect x="607.1" y="182.10" width="1.0" height="9.86" fill="#f1e7f5"/>
<rect x="608.1" y="182.10" width="1.0" height="9.86" fill="#f9e5e3"/>
<rect x="609.1" y="182.10" width="1.3" height="9.86" fill="#ece0f3"/>
<rect x="610.4" y="182.10" width="0.8" height="9.86" fill="#ede2f3"/>
<rect x="611.50" y="182.10" width="8.90" height="9.86" fill="#efe4f4" shape-rendering="crispEdges"/>
<rect x="616.1" y="182.10" width="1.3" height="9.86" fill="#ece0f3"/>
<rect x="618.4" y="182.10" width="0.6" height="9.86" fill="#fae9e8"/>
<rect x="619.0" y="182.10" width="1.4" height="9.86" fill="#ebdff3"/>
<rect x="620.40" y="182.10" width="8.10" height="9.86" fill="#fbf5f7" shape-rendering="crispEdges"/>
<rect x="620.4" y="182.10" width="1.6" height="9.86" fill="#f5beb3"/>
<rect x="623.0" y="182.10" width="1.0" height="9.86" fill="#f7d4ce"/>
<rect x="624.0" y="182.10" width="0.8" height="9.86" fill="#f5c5bc"/>
<rect x="626.4" y="182.10" width="1.3" height="9.86" fill="#f5bfb4"/>
<text x="406.00" y="189.53" font-size="7.0" text-anchor="end" fill="#141414" stroke="#141414" stroke-width="0.2" textLength="14.68" lengthAdjust="spacingAndGlyphs">Gad2</text>
<rect x="408.10" y="191.96" width="83.50" height="9.86" fill="#faeeef" shape-rendering="crispEdges"/>
<rect x="409.4" y="191.96" width="1.0" height="9.86" fill="#faeeee"/>
<rect x="410.4" y="191.96" width="1.6" height="9.86" fill="#faeded"/>
<rect x="412.0" y="191.96" width="1.0" height="9.86" fill="#fbf2f4"/>
<rect x="416.1" y="191.96" width="0.6" height="9.86" fill="#f8dfdc"/>
<rect x="418.0" y="191.96" width="1.6" height="9.86" fill="#f9f3f7"/>
<rect x="419.6" y="191.96" width="1.3" height="9.86" fill="#f5edf6"/>
<rect x="420.9" y="191.96" width="1.3" height="9.86" fill="#f9e7e6"/>
<rect x="423.5" y="191.96" width="1.0" height="9.86" fill="#faeeee"/>
<rect x="424.5" y="191.96" width="1.0" height="9.86" fill="#faf4f7"/>
<rect x="426.8" y="191.96" width="1.0" height="9.86" fill="#faeded"/>
<rect x="428.6" y="191.96" width="0.6" height="9.86" fill="#fbf3f5"/>
<rect x="433.1" y="191.96" width="0.8" height="9.86" fill="#f9e7e6"/>
<rect x="434.5" y="191.96" width="1.0" height="9.86" fill="#f8dfdc"/>
<rect x="435.5" y="191.96" width="1.0" height="9.86" fill="#fbf1f3"/>
<rect x="436.5" y="191.96" width="1.3" height="9.86" fill="#f9e8e7"/>
<rect x="439.4" y="191.96" width="1.3" height="9.86" fill="#faeded"/>
<rect x="443.0" y="191.96" width="0.6" height="9.86" fill="#fbf2f4"/>
<rect x="446.1" y="191.96" width="0.8" height="9.86" fill="#f8e0dd"/>
<rect x="446.9" y="191.96" width="1.0" height="9.86" fill="#faecec"/>
<rect x="449.5" y="191.96" width="0.8" height="9.86" fill="#faeeef"/>
<rect x="451.3" y="191.96" width="1.0" height="9.86" fill="#faebea"/>
<rect x="457.5" y="191.96" width="0.6" height="9.86" fill="#f8ddd9"/>
<rect x="458.1" y="191.96" width="1.0" height="9.86" fill="#fbf2f3"/>
<rect x="461.5" y="191.96" width="1.0" height="9.86" fill="#f9f2f7"/>
<rect x="462.5" y="191.96" width="1.3" height="9.86" fill="#faeff0"/>
<rect x="463.8" y="191.96" width="0.6" height="9.86" fill="#f8e0dd"/>
<rect x="465.7" y="191.96" width="1.6" height="9.86" fill="#faf1f1"/>
<rect x="468.6" y="191.96" width="1.3" height="9.86" fill="#f8dbd6"/>
<rect x="472.5" y="191.96" width="1.3" height="9.86" fill="#faeff0"/>
<rect x="473.8" y="191.96" width="1.0" height="9.86" fill="#faeff0"/>
<rect x="475.6" y="191.96" width="0.8" height="9.86" fill="#faefef"/>
<rect x="476.4" y="191.96" width="1.0" height="9.86" fill="#fae9e8"/>
<rect x="478.2" y="191.96" width="1.0" height="9.86" fill="#faf0f1"/>
<rect x="479.8" y="191.96" width="1.6" height="9.86" fill="#f9e4e2"/>
<rect x="484.3" y="191.96" width="0.6" height="9.86" fill="#f7d3cd"/>
<rect x="484.9" y="191.96" width="1.3" height="9.86" fill="#faeded"/>
<rect x="487.0" y="191.96" width="1.0" height="9.86" fill="#fbf1f2"/>
<rect x="488.8" y="191.96" width="1.0" height="9.86" fill="#faeeee"/>
<rect x="491.1" y="191.96" width="0.5" height="9.86" fill="#f8dad5"/>
<rect x="491.60" y="191.96" width="53.00" height="9.86" fill="#f9e1de" shape-rendering="crispEdges"/>
<rect x="491.6" y="191.96" width="1.0" height="9.86" fill="#f7d2cc"/>
<rect x="492.6" y="191.96" width="1.3" height="9.86" fill="#f9e4e2"/>
<rect x="493.9" y="191.96" width="1.0" height="9.86" fill="#f7d6d0"/>
<rect x="494.9" y="191.96" width="1.0" height="9.86" fill="#f7d8d3"/>
<rect x="495.9" y="191.96" width="0.8" height="9.86" fill="#f9e7e5"/>
<rect x="496.7" y="191.96" width="0.8" height="9.86" fill="#f9e4e1"/>
<rect x="499.1" y="191.96" width="1.0" height="9.86" fill="#f5c4bb"/>
<rect x="502.4" y="191.96" width="0.8" height="9.86" fill="#f5c6bd"/>
<rect x="503.2" y="191.96" width="1.0" height="9.86" fill="#f5beb3"/>
<rect x="504.2" y="191.96" width="0.6" height="9.86" fill="#f7d1cb"/>
<rect x="505.6" y="191.96" width="1.3" height="9.86" fill="#f6cec7"/>
<rect x="506.9" y="191.96" width="0.8" height="9.86" fill="#f5c4ba"/>
<rect x="507.7" y="191.96" width="1.0" height="9.86" fill="#f5c4ba"/>
<rect x="512.8" y="191.96" width="0.8" height="9.86" fill="#f8d8d3"/>
<rect x="513.6" y="191.96" width="1.3" height="9.86" fill="#f5bfb4"/>
<rect x="514.9" y="191.96" width="1.0" height="9.86" fill="#f8d9d4"/>
<rect x="515.9" y="191.96" width="1.0" height="9.86" fill="#f7d0ca"/>
<rect x="517.9" y="191.96" width="1.0" height="9.86" fill="#f9e8e7"/>
<rect x="521.5" y="191.96" width="1.0" height="9.86" fill="#f7d7d2"/>
<rect x="522.5" y="191.96" width="1.3" height="9.86" fill="#f5c0b6"/>
<rect x="523.8" y="191.96" width="0.6" height="9.86" fill="#f7d6d1"/>
<rect x="526.8" y="191.96" width="1.6" height="9.86" fill="#f7d2cb"/>
<rect x="528.4" y="191.96" width="1.0" height="9.86" fill="#f8ddda"/>
<rect x="530.7" y="191.96" width="1.3" height="9.86" fill="#f6ccc4"/>
<rect x="534.0" y="191.96" width="1.6" height="9.86" fill="#f6cbc3"/>
<rect x="535.6" y="191.96" width="1.0" height="9.86" fill="#f8deda"/>
<rect x="536.6" y="191.96" width="1.3" height="9.86" fill="#f6c7be"/>
<rect x="537.9" y="191.96" width="1.3" height="9.86" fill="#f7d2cc"/>
<rect x="539.2" y="191.96" width="1.0" height="9.86" fill="#f4bbaf"/>
<rect x="540.2" y="191.96" width="1.3" height="9.86" fill="#f7d4ce"/>
<rect x="541.5" y="191.96" width="0.8" height="9.86" fill="#f8dbd6"/>
<rect x="542.3" y="191.96" width="1.0" height="9.86" fill="#f6cac2"/>
<rect x="543.9" y="191.96" width="0.7" height="9.86" fill="#f8d8d3"/>
<rect x="544.60" y="191.96" width="28.80" height="9.86" fill="#faf4f7" shape-rendering="crispEdges"/>
<rect x="548.9" y="191.96" width="0.6" height="9.86" fill="#f7eef6"/>
<rect x="549.5" y="191.96" width="1.0" height="9.86" fill="#fbf4f5"/>
<rect x="550.5" y="191.96" width="0.8" height="9.86" fill="#fbf4f7"/>
<rect x="556.5" y="191.96" width="0.8" height="9.86" fill="#f8f0f6"/>
<rect x="557.3" y="191.96" width="1.3" height="9.86" fill="#faf4f7"/>
<rect x="561.8" y="191.96" width="0.8" height="9.86" fill="#fbf3f4"/>
<rect x="562.6" y="191.96" width="1.0" height="9.86" fill="#fbf2f3"/>
<rect x="563.6" y="191.96" width="1.0" height="9.86" fill="#faf0f1"/>
<rect x="573.40" y="191.96" width="22.00" height="9.86" fill="#faf4f7" shape-rendering="crispEdges"/>
<rect x="573.4" y="191.96" width="1.0" height="9.86" fill="#faebeb"/>
<rect x="579.5" y="191.96" width="0.6" height="9.86" fill="#f8f1f6"/>
<rect x="582.4" y="191.96" width="0.8" height="9.86" fill="#fbf3f4"/>
<rect x="583.2" y="191.96" width="1.0" height="9.86" fill="#faf1f2"/>
<rect x="584.2" y="191.96" width="1.0" height="9.86" fill="#faf4f7"/>
<rect x="586.0" y="191.96" width="1.3" height="9.86" fill="#faf0f1"/>
<rect x="589.3" y="191.96" width="0.6" height="9.86" fill="#fbf5f7"/>
<rect x="591.5" y="191.96" width="1.3" height="9.86" fill="#fbf4f6"/>
<rect x="595.40" y="191.96" width="16.10" height="9.86" fill="#faf4f7" shape-rendering="crispEdges"/>
<rect x="595.4" y="191.96" width="1.0" height="9.86" fill="#fbf1f3"/>
<rect x="598.2" y="191.96" width="1.3" height="9.86" fill="#f9f2f6"/>
<rect x="599.5" y="191.96" width="1.3" height="9.86" fill="#fbf5f7"/>
<rect x="600.8" y="191.96" width="1.0" height="9.86" fill="#faf0f1"/>
<rect x="606.8" y="191.96" width="0.6" height="9.86" fill="#f4ebf5"/>
<rect x="610.5" y="191.96" width="1.0" height="9.86" fill="#f8f1f6"/>
<rect x="611.50" y="191.96" width="8.90" height="9.86" fill="#faf4f7" shape-rendering="crispEdges"/>
<rect x="614.7" y="191.96" width="1.0" height="9.86" fill="#fbf3f5"/>
<rect x="618.3" y="191.96" width="0.8" height="9.86" fill="#fbf5f7"/>
<rect x="620.40" y="191.96" width="8.10" height="9.86" fill="#fbf2f3" shape-rendering="crispEdges"/>
<rect x="620.4" y="191.96" width="1.0" height="9.86" fill="#f9e8e7"/>
<rect x="621.4" y="191.96" width="1.6" height="9.86" fill="#f7d8d3"/>
<rect x="623.0" y="191.96" width="0.8" height="9.86" fill="#f9e4e2"/>
<rect x="625.4" y="191.96" width="0.6" height="9.86" fill="#fbf5f7"/>
<rect x="626.0" y="191.96" width="1.0" height="9.86" fill="#f7d8d3"/>
<rect x="627.0" y="191.96" width="1.0" height="9.86" fill="#f8d9d5"/>
<rect x="628.0" y="191.96" width="0.5" height="9.86" fill="#f7d1cb"/>
<text x="406.00" y="199.39" font-size="7.0" text-anchor="end" fill="#141414" stroke="#141414" stroke-width="0.2" textLength="12.00" lengthAdjust="spacingAndGlyphs">Dlx1</text>
<rect x="408.10" y="201.82" width="83.50" height="9.86" fill="#efe4f4" shape-rendering="crispEdges"/>
<rect x="408.1" y="201.82" width="0.8" height="9.86" fill="#f9e1de"/>
<rect x="409.9" y="201.82" width="0.6" height="9.86" fill="#faf0f1"/>
<rect x="410.5" y="201.82" width="1.3" height="9.86" fill="#f9e7e6"/>
<rect x="411.8" y="201.82" width="0.6" height="9.86" fill="#efe4f4"/>
<rect x="412.4" y="201.82" width="0.6" height="9.86" fill="#f9e8e7"/>
<rect x="413.0" y="201.82" width="1.0" height="9.86" fill="#f9e7e6"/>
<rect x="414.0" y="201.82" width="1.3" height="9.86" fill="#f8dedb"/>
<rect x="415.3" y="201.82" width="0.8" height="9.86" fill="#faeded"/>
<rect x="416.1" y="201.82" width="1.0" height="9.86" fill="#e9dcf2"/>
<rect x="419.7" y="201.82" width="1.0" height="9.86" fill="#f9e7e5"/>
<rect x="420.7" y="201.82" width="0.8" height="9.86" fill="#f8e0dd"/>
<rect x="421.5" y="201.82" width="0.8" height="9.86" fill="#faecec"/>
<rect x="423.1" y="201.82" width="0.8" height="9.86" fill="#faf3f7"/>
<rect x="423.9" y="201.82" width="0.8" height="9.86" fill="#f9e7e6"/>
<rect x="424.7" y="201.82" width="1.0" height="9.86" fill="#ece0f3"/>
<rect x="425.7" y="201.82" width="1.6" height="9.86" fill="#faf0f1"/>
<rect x="431.5" y="201.82" width="0.8" height="9.86" fill="#f9e4e1"/>
<rect x="432.3" y="201.82" width="0.8" height="9.86" fill="#eee3f4"/>
<rect x="435.3" y="201.82" width="0.8" height="9.86" fill="#efe4f4"/>
<rect x="436.1" y="201.82" width="1.3" height="9.86" fill="#f9e4e2"/>
<rect x="437.4" y="201.82" width="1.6" height="9.86" fill="#fbf2f3"/>
<rect x="439.0" y="201.82" width="1.0" height="9.86" fill="#f7d5d0"/>
<rect x="441.6" y="201.82" width="0.8" height="9.86" fill="#f9e3e0"/>
<rect x="442.4" y="201.82" width="1.6" height="9.86" fill="#fae9e8"/>
<rect x="444.0" y="201.82" width="0.6" height="9.86" fill="#f9e7e6"/>
<rect x="444.6" y="201.82" width="1.3" height="9.86" fill="#fbf5f6"/>
<rect x="447.5" y="201.82" width="1.3" height="9.86" fill="#efe4f4"/>
<rect x="448.8" y="201.82" width="1.0" height="9.86" fill="#f8ddd9"/>
<rect x="449.8" y="201.82" width="0.8" height="9.86" fill="#f9e4e2"/>
<rect x="450.6" y="201.82" width="0.8" height="9.86" fill="#f1e6f4"/>
<rect x="451.4" y="201.82" width="1.3" height="9.86" fill="#eee2f3"/>
<rect x="453.7" y="201.82" width="1.0" height="9.86" fill="#f9e8e7"/>
<rect x="455.7" y="201.82" width="1.6" height="9.86" fill="#f9e2e0"/>
<rect x="457.3" y="201.82" width="1.0" height="9.86" fill="#f9e6e4"/>
<rect x="458.3" y="201.82" width="1.3" height="9.86" fill="#f0e5f4"/>
<rect x="459.6" y="201.82" width="1.0" height="9.86" fill="#f9e2e0"/>
<rect x="460.6" y="201.82" width="1.6" height="9.86" fill="#f8dbd6"/>
<rect x="462.2" y="201.82" width="0.8" height="9.86" fill="#f3e8f5"/>
<rect x="463.0" y="201.82" width="0.8" height="9.86" fill="#faebea"/>
<rect x="463.8" y="201.82" width="0.8" height="9.86" fill="#fbf2f3"/>
<rect x="464.6" y="201.82" width="0.6" height="9.86" fill="#f9e8e6"/>
<rect x="466.8" y="201.82" width="0.8" height="9.86" fill="#f9e2df"/>
<rect x="469.2" y="201.82" width="1.0" height="9.86" fill="#efe4f4"/>
<rect x="470.2" y="201.82" width="1.3" height="9.86" fill="#f8dedb"/>
<rect x="471.5" y="201.82" width="1.3" height="9.86" fill="#f0e5f4"/>
<rect x="472.8" y="201.82" width="0.6" height="9.86" fill="#faecec"/>
<rect x="473.4" y="201.82" width="0.8" height="9.86" fill="#faeae9"/>
<rect x="474.2" y="201.82" width="1.0" height="9.86" fill="#f1e6f4"/>
<rect x="475.2" y="201.82" width="0.6" height="9.86" fill="#f9e7e6"/>
<rect x="477.4" y="201.82" width="1.0" height="9.86" fill="#f9e6e5"/>
<rect x="480.0" y="201.82" width="1.6" height="9.86" fill="#f8dedb"/>
<rect x="482.9" y="201.82" width="1.3" height="9.86" fill="#fbf1f2"/>
<rect x="485.5" y="201.82" width="0.6" height="9.86" fill="#fbf5f7"/>
<rect x="489.4" y="201.82" width="1.0" height="9.86" fill="#f1e6f4"/>
<rect x="491.60" y="201.82" width="53.00" height="9.86" fill="#f1e7f4" shape-rendering="crispEdges"/>
<rect x="492.2" y="201.82" width="0.6" height="9.86" fill="#f7d6d1"/>
<rect x="492.8" y="201.82" width="1.0" height="9.86" fill="#f2e8f5"/>
<rect x="493.8" y="201.82" width="0.6" height="9.86" fill="#f0e5f4"/>
<rect x="494.4" y="201.82" width="0.8" height="9.86" fill="#f9e3e0"/>
<rect x="496.0" y="201.82" width="0.8" height="9.86" fill="#f9e1de"/>
<rect x="498.4" y="201.82" width="1.0" height="9.86" fill="#f7d6d1"/>
<rect x="499.4" y="201.82" width="0.6" height="9.86" fill="#faebeb"/>
<rect x="505.4" y="201.82" width="0.8" height="9.86" fill="#f1e6f4"/>
<rect x="507.2" y="201.82" width="1.0" height="9.86" fill="#faeae9"/>
<rect x="508.2" y="201.82" width="0.6" height="9.86" fill="#fbf3f5"/>
<rect x="508.8" y="201.82" width="1.0" height="9.86" fill="#f9e5e4"/>
<rect x="510.4" y="201.82" width="1.0" height="9.86" fill="#f8dbd6"/>
<rect x="511.4" y="201.82" width="1.3" height="9.86" fill="#f9e1de"/>
<rect x="513.3" y="201.82" width="1.6" height="9.86" fill="#f8dad5"/>
<rect x="514.9" y="201.82" width="1.0" height="9.86" fill="#f9e2e0"/>
<rect x="516.9" y="201.82" width="1.0" height="9.86" fill="#f2e8f5"/>
<rect x="517.9" y="201.82" width="0.6" height="9.86" fill="#f1e6f4"/>
<rect x="519.3" y="201.82" width="0.6" height="9.86" fill="#faeded"/>
<rect x="519.9" y="201.82" width="1.6" height="9.86" fill="#faecec"/>
<rect x="521.5" y="201.82" width="0.6" height="9.86" fill="#f7eff6"/>
<rect x="522.1" y="201.82" width="0.8" height="9.86" fill="#f8d9d4"/>
<rect x="523.5" y="201.82" width="1.6" height="9.86" fill="#f9e5e3"/>
<rect x="525.1" y="201.82" width="1.6" height="9.86" fill="#f9e1df"/>
<rect x="526.7" y="201.82" width="0.6" height="9.86" fill="#f6c9c0"/>
<rect x="527.3" y="201.82" width="1.3" height="9.86" fill="#f8deda"/>
<rect x="528.6" y="201.82" width="1.0" height="9.86" fill="#f8dfdc"/>
<rect x="530.9" y="201.82" width="0.6" height="9.86" fill="#faeaea"/>
<rect x="531.5" y="201.82" width="1.0" height="9.86" fill="#f7d8d3"/>
<rect x="532.5" y="201.82" width="0.8" height="9.86" fill="#f2e8f5"/>
<rect x="533.3" y="201.82" width="0.8" height="9.86" fill="#f9e7e5"/>
<rect x="535.7" y="201.82" width="1.6" height="9.86" fill="#f8dedb"/>
<rect x="537.3" y="201.82" width="0.8" height="9.86" fill="#f9e7e6"/>
<rect x="538.1" y="201.82" width="0.8" height="9.86" fill="#f4eaf5"/>
<rect x="539.9" y="201.82" width="1.0" height="9.86" fill="#f7d0c9"/>
<rect x="543.9" y="201.82" width="0.7" height="9.86" fill="#f4ebf5"/>
<rect x="544.60" y="201.82" width="28.80" height="9.86" fill="#ed8a78" shape-rendering="crispEdges"/>
<rect x="549.2" y="201.82" width="1.0" height="9.86" fill="#e55e4c"/>
<rect x="551.0" y="201.82" width="0.6" height="9.86" fill="#ee8d7b"/>
<rect x="553.7" y="201.82" width="0.6" height="9.86" fill="#ed8875"/>
<rect x="555.1" y="201.82" width="1.6" height="9.86" fill="#e9725e"/>
<rect x="556.7" y="201.82" width="1.3" height="9.86" fill="#e9735f"/>
<rect x="559.6" y="201.82" width="1.0" height="9.86" fill="#ed8977"/>
<rect x="560.6" y="201.82" width="0.6" height="9.86" fill="#e6624f"/>
<rect x="562.5" y="201.82" width="1.3" height="9.86" fill="#e35341"/>
<rect x="564.8" y="201.82" width="1.6" height="9.86" fill="#e9735f"/>
<rect x="568.4" y="201.82" width="0.6" height="9.86" fill="#ec826f"/>
<rect x="570.0" y="201.82" width="1.3" height="9.86" fill="#ec806d"/>
<rect x="571.3" y="201.82" width="1.6" height="9.86" fill="#e45947"/>
<rect x="572.9" y="201.82" width="0.5" height="9.86" fill="#e66351"/>
<rect x="573.40" y="201.82" width="22.00" height="9.86" fill="#eee2f4" shape-rendering="crispEdges"/>
<rect x="575.6" y="201.82" width="1.6" height="9.86" fill="#eee2f3"/>
<rect x="577.2" y="201.82" width="0.8" height="9.86" fill="#ece0f3"/>
<rect x="580.9" y="201.82" width="0.6" height="9.86" fill="#ede1f3"/>
<rect x="583.3" y="201.82" width="1.3" height="9.86" fill="#ece0f3"/>
<rect x="584.6" y="201.82" width="1.0" height="9.86" fill="#efe4f4"/>
<rect x="588.5" y="201.82" width="0.6" height="9.86" fill="#faf1f2"/>
<rect x="589.1" y="201.82" width="0.6" height="9.86" fill="#ece0f3"/>
<rect x="592.7" y="201.82" width="1.0" height="9.86" fill="#faeff0"/>
<rect x="593.7" y="201.82" width="1.0" height="9.86" fill="#ece0f3"/>
<rect x="595.40" y="201.82" width="16.10" height="9.86" fill="#f0e5f4" shape-rendering="crispEdges"/>
<rect x="596.0" y="201.82" width="0.8" height="9.86" fill="#f9e4e2"/>
<rect x="598.4" y="201.82" width="1.6" height="9.86" fill="#f9e1de"/>
<rect x="600.0" y="201.82" width="1.6" height="9.86" fill="#ede1f3"/>
<rect x="604.5" y="201.82" width="1.0" height="9.86" fill="#faeeef"/>
<rect x="605.5" y="201.82" width="1.6" height="9.86" fill="#f0e5f4"/>
<rect x="608.1" y="201.82" width="1.3" height="9.86" fill="#f3e8f5"/>
<rect x="609.4" y="201.82" width="0.6" height="9.86" fill="#f9e4e1"/>
<rect x="611.50" y="201.82" width="8.90" height="9.86" fill="#eee2f4" shape-rendering="crispEdges"/>
<rect x="617.0" y="201.82" width="0.6" height="9.86" fill="#ebdef3"/>
<rect x="618.6" y="201.82" width="0.6" height="9.86" fill="#efe4f4"/>
<rect x="619.2" y="201.82" width="1.0" height="9.86" fill="#faecec"/>
<rect x="620.40" y="201.82" width="8.10" height="9.86" fill="#f0e5f4" shape-rendering="crispEdges"/>
<rect x="620.4" y="201.82" width="0.6" height="9.86" fill="#fbf2f4"/>
<rect x="621.0" y="201.82" width="0.6" height="9.86" fill="#faf4f7"/>
<rect x="622.4" y="201.82" width="1.6" height="9.86" fill="#f1e7f5"/>
<rect x="625.0" y="201.82" width="1.3" height="9.86" fill="#f9e8e7"/>
<rect x="626.3" y="201.82" width="1.0" height="9.86" fill="#ebdff3"/>
<text x="406.00" y="209.25" font-size="7.0" text-anchor="end" fill="#141414" stroke="#141414" stroke-width="0.2" textLength="15.01" lengthAdjust="spacingAndGlyphs">Mobp</text>
<rect x="408.10" y="211.68" width="83.50" height="9.86" fill="#fbf2f3" shape-rendering="crispEdges"/>
<rect x="408.1" y="211.68" width="1.0" height="9.86" fill="#faf4f7"/>
<rect x="410.4" y="211.68" width="0.8" height="9.86" fill="#fbf4f6"/>
<rect x="412.2" y="211.68" width="1.0" height="9.86" fill="#faeff0"/>
<rect x="413.2" y="211.68" width="1.3" height="9.86" fill="#f9e3e1"/>
<rect x="414.5" y="211.68" width="1.0" height="9.86" fill="#fbf1f2"/>
<rect x="415.5" y="211.68" width="1.0" height="9.86" fill="#f7d5d0"/>
<rect x="416.5" y="211.68" width="1.0" height="9.86" fill="#f6edf6"/>
<rect x="417.5" y="211.68" width="0.6" height="9.86" fill="#f8e0dd"/>
<rect x="418.9" y="211.68" width="1.0" height="9.86" fill="#f8d9d4"/>
<rect x="419.9" y="211.68" width="0.6" height="9.86" fill="#f9e9e7"/>
<rect x="420.5" y="211.68" width="1.0" height="9.86" fill="#fbf1f2"/>
<rect x="423.1" y="211.68" width="1.0" height="9.86" fill="#f7d3cd"/>
<rect x="424.1" y="211.68" width="1.3" height="9.86" fill="#f9e4e1"/>
<rect x="425.4" y="211.68" width="1.0" height="9.86" fill="#f7d1ca"/>
<rect x="427.2" y="211.68" width="0.6" height="9.86" fill="#faecec"/>
<rect x="427.8" y="211.68" width="1.0" height="9.86" fill="#f6c7be"/>
<rect x="429.4" y="211.68" width="0.6" height="9.86" fill="#f9e8e7"/>
<rect x="430.0" y="211.68" width="1.6" height="9.86" fill="#fbf4f6"/>
<rect x="431.6" y="211.68" width="0.6" height="9.86" fill="#f9e8e7"/>
<rect x="435.9" y="211.68" width="1.0" height="9.86" fill="#f8dedb"/>
<rect x="437.7" y="211.68" width="0.8" height="9.86" fill="#f9e3e0"/>
<rect x="439.5" y="211.68" width="1.0" height="9.86" fill="#fbf3f4"/>
<rect x="440.5" y="211.68" width="1.3" height="9.86" fill="#faf4f7"/>
<rect x="443.4" y="211.68" width="1.0" height="9.86" fill="#f9f2f7"/>
<rect x="444.4" y="211.68" width="1.0" height="9.86" fill="#f8ddd9"/>
<rect x="445.4" y="211.68" width="0.6" height="9.86" fill="#f8dad5"/>
<rect x="446.0" y="211.68" width="0.6" height="9.86" fill="#fbf4f6"/>
<rect x="449.2" y="211.68" width="0.8" height="9.86" fill="#f8dcd8"/>
<rect x="450.0" y="211.68" width="1.0" height="9.86" fill="#f8e0dd"/>
<rect x="451.0" y="211.68" width="1.0" height="9.86" fill="#f5c4ba"/>
<rect x="454.0" y="211.68" width="1.0" height="9.86" fill="#f7d0c9"/>
<rect x="456.6" y="211.68" width="1.0" height="9.86" fill="#f9e7e5"/>
<rect x="457.6" y="211.68" width="0.6" height="9.86" fill="#f9e4e2"/>
<rect x="458.2" y="211.68" width="0.8" height="9.86" fill="#f9e5e4"/>
<rect x="459.0" y="211.68" width="1.0" height="9.86" fill="#f9e1de"/>
<rect x="460.0" y="211.68" width="1.6" height="9.86" fill="#f7d6d0"/>
<rect x="461.6" y="211.68" width="1.0" height="9.86" fill="#f9e1de"/>
<rect x="462.6" y="211.68" width="1.0" height="9.86" fill="#f7d8d3"/>
<rect x="463.6" y="211.68" width="1.0" height="9.86" fill="#f7d6d1"/>
<rect x="469.1" y="211.68" width="1.0" height="9.86" fill="#f9e8e7"/>
<rect x="470.9" y="211.68" width="1.3" height="9.86" fill="#faeded"/>
<rect x="472.2" y="211.68" width="0.8" height="9.86" fill="#f7d4cf"/>
<rect x="473.0" y="211.68" width="1.0" height="9.86" fill="#f9e1de"/>
<rect x="474.0" y="211.68" width="0.8" height="9.86" fill="#f9e5e3"/>
<rect x="474.8" y="211.68" width="1.0" height="9.86" fill="#f9e1de"/>
<rect x="475.8" y="211.68" width="1.6" height="9.86" fill="#f8d9d4"/>
<rect x="477.4" y="211.68" width="1.0" height="9.86" fill="#faebeb"/>
<rect x="479.2" y="211.68" width="1.0" height="9.86" fill="#faebeb"/>
<rect x="481.8" y="211.68" width="0.6" height="9.86" fill="#f8dfdb"/>
<rect x="482.4" y="211.68" width="1.0" height="9.86" fill="#f7d4ce"/>
<rect x="483.4" y="211.68" width="1.3" height="9.86" fill="#f7d6d0"/>
<rect x="486.3" y="211.68" width="1.6" height="9.86" fill="#f9e8e6"/>
<rect x="488.7" y="211.68" width="1.0" height="9.86" fill="#f8dbd6"/>
<rect x="489.7" y="211.68" width="1.0" height="9.86" fill="#f8dbd6"/>
<rect x="490.7" y="211.68" width="0.9" height="9.86" fill="#f9e1de"/>
<rect x="491.60" y="211.68" width="53.00" height="9.86" fill="#faeeef" shape-rendering="crispEdges"/>
<rect x="491.6" y="211.68" width="1.3" height="9.86" fill="#f8dad6"/>
<rect x="493.7" y="211.68" width="0.6" height="9.86" fill="#f8dbd7"/>
<rect x="494.3" y="211.68" width="1.0" height="9.86" fill="#faeeee"/>
<rect x="495.3" y="211.68" width="1.0" height="9.86" fill="#f7d3cd"/>
<rect x="496.3" y="211.68" width="1.6" height="9.86" fill="#f7d6d1"/>
<rect x="497.9" y="211.68" width="0.6" height="9.86" fill="#f8dad6"/>
<rect x="498.5" y="211.68" width="0.6" height="9.86" fill="#f8dbd7"/>
<rect x="499.9" y="211.68" width="1.0" height="9.86" fill="#f8dbd6"/>
<rect x="500.9" y="211.68" width="0.6" height="9.86" fill="#f7d8d3"/>
<rect x="501.5" y="211.68" width="0.8" height="9.86" fill="#f8dfdc"/>
<rect x="502.3" y="211.68" width="1.0" height="9.86" fill="#faecec"/>
<rect x="503.3" y="211.68" width="0.8" height="9.86" fill="#faf1f2"/>
<rect x="505.1" y="211.68" width="1.3" height="9.86" fill="#f8e0dd"/>
<rect x="506.4" y="211.68" width="0.8" height="9.86" fill="#fae9e8"/>
<rect x="507.2" y="211.68" width="1.3" height="9.86" fill="#faeceb"/>
<rect x="508.5" y="211.68" width="0.6" height="9.86" fill="#f9e2e0"/>
<rect x="509.1" y="211.68" width="1.0" height="9.86" fill="#f8dcd8"/>
<rect x="510.1" y="211.68" width="1.0" height="9.86" fill="#f9e2df"/>
<rect x="512.1" y="211.68" width="0.6" height="9.86" fill="#f6c9c1"/>
<rect x="513.5" y="211.68" width="1.6" height="9.86" fill="#f9e4e2"/>
<rect x="515.9" y="211.68" width="1.0" height="9.86" fill="#faeded"/>
<rect x="517.7" y="211.68" width="1.0" height="9.86" fill="#f7d6d0"/>
<rect x="518.7" y="211.68" width="0.8" height="9.86" fill="#f8d9d4"/>
<rect x="519.5" y="211.68" width="0.6" height="9.86" fill="#fae9e9"/>
<rect x="521.1" y="211.68" width="0.8" height="9.86" fill="#fbf2f3"/>
<rect x="521.9" y="211.68" width="1.0" height="9.86" fill="#f8dbd7"/>
<rect x="522.9" y="211.68" width="1.0" height="9.86" fill="#f9e9e8"/>
<rect x="525.2" y="211.68" width="1.0" height="9.86" fill="#f8deda"/>
<rect x="526.2" y="211.68" width="0.8" height="9.86" fill="#f9e1df"/>
<rect x="528.3" y="211.68" width="1.3" height="9.86" fill="#f7d5cf"/>
<rect x="529.6" y="211.68" width="1.6" height="9.86" fill="#f8deda"/>
<rect x="531.2" y="211.68" width="1.0" height="9.86" fill="#faefef"/>
<rect x="532.2" y="211.68" width="1.0" height="9.86" fill="#faf1f1"/>
<rect x="535.6" y="211.68" width="1.0" height="9.86" fill="#fbf3f5"/>
<rect x="537.2" y="211.68" width="0.6" height="9.86" fill="#faeeee"/>
<rect x="537.8" y="211.68" width="1.0" height="9.86" fill="#f6cbc3"/>
<rect x="539.8" y="211.68" width="0.8" height="9.86" fill="#f9e5e3"/>
<rect x="540.6" y="211.68" width="0.6" height="9.86" fill="#f9e5e3"/>
<rect x="542.0" y="211.68" width="1.0" height="9.86" fill="#f9e4e1"/>
<rect x="543.0" y="211.68" width="1.3" height="9.86" fill="#f9e5e3"/>
<rect x="544.60" y="211.68" width="28.80" height="9.86" fill="#f6c7be" shape-rendering="crispEdges"/>
<rect x="544.6" y="211.68" width="1.3" height="9.86" fill="#ef9887"/>
<rect x="545.9" y="211.68" width="1.0" height="9.86" fill="#f09d8c"/>
<rect x="550.1" y="211.68" width="1.0" height="9.86" fill="#f2a999"/>
<rect x="551.1" y="211.68" width="1.0" height="9.86" fill="#f3b5a8"/>
<rect x="552.1" y="211.68" width="1.3" height="9.86" fill="#f2a99a"/>
<rect x="553.4" y="211.68" width="1.6" height="9.86" fill="#f4b9ad"/>
<rect x="555.0" y="211.68" width="0.6" height="9.86" fill="#f1a090"/>
<rect x="555.6" y="211.68" width="1.0" height="9.86" fill="#f4b6a9"/>
<rect x="556.6" y="211.68" width="1.0" height="9.86" fill="#f1a393"/>
<rect x="557.6" y="211.68" width="0.8" height="9.86" fill="#f2aa9b"/>
<rect x="558.4" y="211.68" width="1.0" height="9.86" fill="#f2a696"/>
<rect x="559.4" y="211.68" width="0.6" height="9.86" fill="#f2a898"/>
<rect x="560.0" y="211.68" width="0.6" height="9.86" fill="#f1a494"/>
<rect x="560.6" y="211.68" width="1.0" height="9.86" fill="#f5bfb4"/>
<rect x="561.6" y="211.68" width="1.3" height="9.86" fill="#f6ccc4"/>
<rect x="562.9" y="211.68" width="0.6" height="9.86" fill="#f2a999"/>
<rect x="563.5" y="211.68" width="1.0" height="9.86" fill="#f3b0a2"/>
<rect x="564.5" y="211.68" width="1.3" height="9.86" fill="#f3b3a5"/>
<rect x="565.8" y="211.68" width="0.8" height="9.86" fill="#f5c3b9"/>
<rect x="566.6" y="211.68" width="0.8" height="9.86" fill="#f1a493"/>
<rect x="567.4" y="211.68" width="1.0" height="9.86" fill="#f3b5a8"/>
<rect x="569.4" y="211.68" width="1.3" height="9.86" fill="#f6c7be"/>
<rect x="570.7" y="211.68" width="1.6" height="9.86" fill="#f5c3ba"/>
<rect x="572.3" y="211.68" width="0.6" height="9.86" fill="#f3b0a2"/>
<rect x="572.9" y="211.68" width="0.5" height="9.86" fill="#f1a292"/>
<rect x="573.40" y="211.68" width="22.00" height="9.86" fill="#f9f2f6" shape-rendering="crispEdges"/>
<rect x="573.4" y="211.68" width="1.0" height="9.86" fill="#f9e1de"/>
<rect x="579.5" y="211.68" width="1.0" height="9.86" fill="#faefef"/>
<rect x="581.3" y="211.68" width="0.6" height="9.86" fill="#f7eff6"/>
<rect x="583.9" y="211.68" width="1.0" height="9.86" fill="#f9e8e7"/>
<rect x="584.9" y="211.68" width="0.8" height="9.86" fill="#fbf2f3"/>
<rect x="589.3" y="211.68" width="1.3" height="9.86" fill="#f9e2df"/>
<rect x="595.40" y="211.68" width="16.10" height="9.86" fill="#fbf5f7" shape-rendering="crispEdges"/>
<rect x="595.4" y="211.68" width="1.3" height="9.86" fill="#faf0f1"/>
<rect x="598.0" y="211.68" width="1.6" height="9.86" fill="#fbf4f6"/>
<rect x="599.6" y="211.68" width="0.8" height="9.86" fill="#faf0f1"/>
<rect x="600.4" y="211.68" width="1.3" height="9.86" fill="#fae9e8"/>
<rect x="605.1" y="211.68" width="0.8" height="9.86" fill="#f9e7e6"/>
<rect x="605.9" y="211.68" width="1.6" height="9.86" fill="#f8d9d5"/>
<rect x="607.5" y="211.68" width="1.0" height="9.86" fill="#f8ddda"/>
<rect x="608.5" y="211.68" width="0.6" height="9.86" fill="#fbf4f5"/>
<rect x="610.1" y="211.68" width="1.3" height="9.86" fill="#f9e0dd"/>
<rect x="611.50" y="211.68" width="8.90" height="9.86" fill="#f9f2f6" shape-rendering="crispEdges"/>
<rect x="611.5" y="211.68" width="0.8" height="9.86" fill="#f5ebf5"/>
<rect x="612.3" y="211.68" width="1.0" height="9.86" fill="#f8f1f6"/>
<rect x="619.1" y="211.68" width="1.0" height="9.86" fill="#f9f2f7"/>
<rect x="620.40" y="211.68" width="8.10" height="9.86" fill="#fbf5f7" shape-rendering="crispEdges"/>
<rect x="621.0" y="211.68" width="1.6" height="9.86" fill="#f9e6e5"/>
<rect x="623.2" y="211.68" width="1.3" height="9.86" fill="#f8dad6"/>
<rect x="624.5" y="211.68" width="0.8" height="9.86" fill="#f8d9d4"/>
<text x="406.00" y="219.11" font-size="7.0" text-anchor="end" fill="#141414" stroke="#141414" stroke-width="0.2" textLength="11.67" lengthAdjust="spacingAndGlyphs">Mog</text>
<rect x="408.10" y="221.54" width="83.50" height="9.86" fill="#faf4f7" shape-rendering="crispEdges"/>
<rect x="409.9" y="221.54" width="0.8" height="9.86" fill="#faeceb"/>
<rect x="411.7" y="221.54" width="1.3" height="9.86" fill="#faf3f7"/>
<rect x="414.4" y="221.54" width="1.0" height="9.86" fill="#f9f3f7"/>
<rect x="415.4" y="221.54" width="1.0" height="9.86" fill="#f9f2f7"/>
<rect x="424.1" y="221.54" width="1.0" height="9.86" fill="#fbf3f5"/>
<rect x="426.9" y="221.54" width="1.6" height="9.86" fill="#faeff0"/>
<rect x="434.1" y="221.54" width="0.8" height="9.86" fill="#f5ecf6"/>
<rect x="435.9" y="221.54" width="1.3" height="9.86" fill="#faeeee"/>
<rect x="437.2" y="221.54" width="1.0" height="9.86" fill="#f9f2f6"/>
<rect x="438.2" y="221.54" width="0.6" height="9.86" fill="#fbf1f2"/>
<rect x="440.4" y="221.54" width="1.3" height="9.86" fill="#fbf3f5"/>
<rect x="445.1" y="221.54" width="1.0" height="9.86" fill="#f6edf6"/>
<rect x="446.1" y="221.54" width="1.0" height="9.86" fill="#faecec"/>
<rect x="447.1" y="221.54" width="1.6" height="9.86" fill="#fbf4f7"/>
<rect x="450.3" y="221.54" width="1.0" height="9.86" fill="#faeded"/>
<rect x="452.6" y="221.54" width="1.3" height="9.86" fill="#f9f2f6"/>
<rect x="453.9" y="221.54" width="1.6" height="9.86" fill="#faf3f7"/>
<rect x="457.3" y="221.54" width="0.6" height="9.86" fill="#faeded"/>
<rect x="457.9" y="221.54" width="1.0" height="9.86" fill="#faeded"/>
<rect x="460.5" y="221.54" width="0.6" height="9.86" fill="#faf4f7"/>
<rect x="461.1" y="221.54" width="1.0" height="9.86" fill="#faeeef"/>
<rect x="468.4" y="221.54" width="1.0" height="9.86" fill="#faf0f0"/>
<rect x="470.4" y="221.54" width="1.0" height="9.86" fill="#f9e9e8"/>
<rect x="471.4" y="221.54" width="0.8" height="9.86" fill="#f4ebf5"/>
<rect x="472.2" y="221.54" width="1.3" height="9.86" fill="#f8f1f6"/>
<rect x="474.5" y="221.54" width="0.6" height="9.86" fill="#fbf2f4"/>
<rect x="476.1" y="221.54" width="1.6" height="9.86" fill="#fbf2f3"/>
<rect x="478.5" y="221.54" width="1.0" height="9.86" fill="#f9f2f7"/>
<rect x="479.5" y="221.54" width="0.6" height="9.86" fill="#f5ecf6"/>
<rect x="481.4" y="221.54" width="0.6" height="9.86" fill="#f9f2f7"/>
<rect x="486.9" y="221.54" width="0.6" height="9.86" fill="#faedee"/>
<rect x="488.5" y="221.54" width="0.6" height="9.86" fill="#fbf5f6"/>
<rect x="489.1" y="221.54" width="0.6" height="9.86" fill="#faf0f1"/>
<rect x="490.7" y="221.54" width="0.9" height="9.86" fill="#fbf2f3"/>
<rect x="491.60" y="221.54" width="53.00" height="9.86" fill="#faf4f7" shape-rendering="crispEdges"/>
<rect x="491.6" y="221.54" width="1.0" height="9.86" fill="#fbf4f7"/>
<rect x="493.6" y="221.54" width="1.0" height="9.86" fill="#f8f0f6"/>
<rect x="495.2" y="221.54" width="0.6" height="9.86" fill="#fbf4f5"/>
<rect x="499.2" y="221.54" width="1.0" height="9.86" fill="#fbf5f7"/>
<rect x="500.2" y="221.54" width="0.8" height="9.86" fill="#faf4f7"/>
<rect x="501.0" y="221.54" width="0.8" height="9.86" fill="#f7eff6"/>
<rect x="501.8" y="221.54" width="1.3" height="9.86" fill="#fbf1f2"/>
<rect x="503.9" y="221.54" width="1.0" height="9.86" fill="#faeeee"/>
<rect x="507.5" y="221.54" width="0.8" height="9.86" fill="#faf3f7"/>
<rect x="509.3" y="221.54" width="1.0" height="9.86" fill="#f9f2f6"/>
<rect x="513.9" y="221.54" width="1.6" height="9.86" fill="#f8f1f6"/>
<rect x="518.1" y="221.54" width="0.8" height="9.86" fill="#faeeee"/>
<rect x="519.5" y="221.54" width="1.6" height="9.86" fill="#faf4f7"/>
<rect x="521.7" y="221.54" width="1.0" height="9.86" fill="#faf4f7"/>
<rect x="524.1" y="221.54" width="1.0" height="9.86" fill="#fbf5f7"/>
<rect x="526.7" y="221.54" width="1.3" height="9.86" fill="#faeaea"/>
<rect x="528.0" y="221.54" width="0.6" height="9.86" fill="#f3eaf5"/>
<rect x="533.8" y="221.54" width="1.3" height="9.86" fill="#faeff0"/>
<rect x="535.1" y="221.54" width="1.6" height="9.86" fill="#faf4f7"/>
<rect x="537.7" y="221.54" width="1.0" height="9.86" fill="#f9f3f7"/>
<rect x="539.7" y="221.54" width="1.0" height="9.86" fill="#f9e3e0"/>
<rect x="540.7" y="221.54" width="1.3" height="9.86" fill="#faf0f1"/>
<rect x="542.6" y="221.54" width="1.0" height="9.86" fill="#fbf1f2"/>
<rect x="543.6" y="221.54" width="1.0" height="9.86" fill="#f9e5e3"/>
<rect x="544.60" y="221.54" width="28.80" height="9.86" fill="#faf4f7" shape-rendering="crispEdges"/>
<rect x="547.2" y="221.54" width="0.8" height="9.86" fill="#fbf1f2"/>
<rect x="549.3" y="221.54" width="1.0" height="9.86" fill="#f4ebf5"/>
<rect x="550.3" y="221.54" width="1.6" height="9.86" fill="#f9f1f6"/>
<rect x="551.9" y="221.54" width="0.6" height="9.86" fill="#fbf5f7"/>
<rect x="552.5" y="221.54" width="1.0" height="9.86" fill="#fbf1f2"/>
<rect x="555.9" y="221.54" width="1.0" height="9.86" fill="#faf0f0"/>
<rect x="556.9" y="221.54" width="1.0" height="9.86" fill="#f9e7e5"/>
<rect x="565.0" y="221.54" width="1.6" height="9.86" fill="#f8e0dd"/>
<rect x="566.6" y="221.54" width="1.3" height="9.86" fill="#f7eff6"/>
<rect x="568.9" y="221.54" width="0.6" height="9.86" fill="#f2e8f5"/>
<rect x="570.1" y="221.54" width="1.0" height="9.86" fill="#fbf4f6"/>
<rect x="571.1" y="221.54" width="0.8" height="9.86" fill="#faf0f1"/>
<rect x="572.9" y="221.54" width="0.5" height="9.86" fill="#fbf5f7"/>
<rect x="573.40" y="221.54" width="22.00" height="9.86" fill="#f6d0c9" shape-rendering="crispEdges"/>
<rect x="573.4" y="221.54" width="0.6" height="9.86" fill="#f4bbaf"/>
<rect x="574.0" y="221.54" width="0.6" height="9.86" fill="#f7d4cf"/>
<rect x="574.6" y="221.54" width="1.6" height="9.86" fill="#f7d0c9"/>
<rect x="576.2" y="221.54" width="1.0" height="9.86" fill="#f4bbb0"/>
<rect x="577.2" y="221.54" width="0.8" height="9.86" fill="#f2a696"/>
<rect x="578.0" y="221.54" width="1.6" height="9.86" fill="#f3b4a7"/>
<rect x="579.6" y="221.54" width="1.0" height="9.86" fill="#f4b7ab"/>
<rect x="583.0" y="221.54" width="1.3" height="9.86" fill="#f4b8ac"/>
<rect x="584.3" y="221.54" width="1.0" height="9.86" fill="#f5c4bb"/>
<rect x="585.3" y="221.54" width="0.8" height="9.86" fill="#f5c6bc"/>
<rect x="586.1" y="221.54" width="1.6" height="9.86" fill="#f6c9c0"/>
<rect x="587.7" y="221.54" width="0.6" height="9.86" fill="#f5c4bb"/>
<rect x="588.3" y="221.54" width="1.3" height="9.86" fill="#f3b0a2"/>
<rect x="591.2" y="221.54" width="1.0" height="9.86" fill="#f5c0b6"/>
<rect x="592.2" y="221.54" width="0.8" height="9.86" fill="#f4bdb2"/>
<rect x="593.0" y="221.54" width="0.6" height="9.86" fill="#f2a99a"/>
<rect x="593.6" y="221.54" width="1.0" height="9.86" fill="#f5c3b9"/>
<rect x="595.40" y="221.54" width="16.10" height="9.86" fill="#faf4f7" shape-rendering="crispEdges"/>
<rect x="597.0" y="221.54" width="1.0" height="9.86" fill="#faf4f7"/>
<rect x="598.8" y="221.54" width="1.3" height="9.86" fill="#faecec"/>
<rect x="600.1" y="221.54" width="0.6" height="9.86" fill="#fbf3f4"/>
<rect x="602.1" y="221.54" width="0.6" height="9.86" fill="#faf1f2"/>
<rect x="604.0" y="221.54" width="1.3" height="9.86" fill="#fbf5f7"/>
<rect x="605.3" y="221.54" width="1.3" height="9.86" fill="#f7eef6"/>
<rect x="606.6" y="221.54" width="1.0" height="9.86" fill="#f9f1f6"/>
<rect x="608.4" y="221.54" width="1.3" height="9.86" fill="#f8f0f6"/>
<rect x="610.3" y="221.54" width="1.0" height="9.86" fill="#fbf4f6"/>
<rect x="611.50" y="221.54" width="8.90" height="9.86" fill="#faf4f7" shape-rendering="crispEdges"/>
<rect x="612.5" y="221.54" width="0.8" height="9.86" fill="#faebea"/>
<rect x="614.9" y="221.54" width="0.6" height="9.86" fill="#faeeee"/>
<rect x="617.5" y="221.54" width="0.8" height="9.86" fill="#fae9e8"/>
<rect x="618.3" y="221.54" width="1.3" height="9.86" fill="#f9f2f6"/>
<rect x="620.40" y="221.54" width="8.10" height="9.86" fill="#fbf5f7" shape-rendering="crispEdges"/>
<rect x="621.4" y="221.54" width="1.6" height="9.86" fill="#fae9e8"/>
<rect x="623.0" y="221.54" width="1.3" height="9.86" fill="#f8dcd8"/>
<rect x="624.9" y="221.54" width="1.0" height="9.86" fill="#f8dfdb"/>
<rect x="626.5" y="221.54" width="1.3" height="9.86" fill="#faf4f7"/>
<text x="406.00" y="228.97" font-size="7.0" text-anchor="end" fill="#141414" stroke="#141414" stroke-width="0.2" textLength="20.01" lengthAdjust="spacingAndGlyphs">Acsbg1</text>
<rect x="408.10" y="231.40" width="83.50" height="9.86" fill="#faf4f7" shape-rendering="crispEdges"/>
<rect x="408.9" y="231.40" width="0.6" height="9.86" fill="#f9f2f6"/>
<rect x="410.1" y="231.40" width="1.0" height="9.86" fill="#fbf2f3"/>
<rect x="412.1" y="231.40" width="1.0" height="9.86" fill="#f9e6e4"/>
<rect x="419.4" y="231.40" width="1.6" height="9.86" fill="#f9e6e4"/>
<rect x="421.0" y="231.40" width="1.0" height="9.86" fill="#f8f0f6"/>
<rect x="423.0" y="231.40" width="1.6" height="9.86" fill="#faeded"/>
<rect x="425.9" y="231.40" width="1.0" height="9.86" fill="#faeeee"/>
<rect x="426.9" y="231.40" width="1.3" height="9.86" fill="#f9f2f6"/>
<rect x="428.2" y="231.40" width="1.0" height="9.86" fill="#faf1f2"/>
<rect x="431.8" y="231.40" width="0.6" height="9.86" fill="#fbf5f7"/>
<rect x="432.4" y="231.40" width="0.8" height="9.86" fill="#faf1f2"/>
<rect x="433.2" y="231.40" width="1.6" height="9.86" fill="#f2e8f5"/>
<rect x="434.8" y="231.40" width="1.0" height="9.86" fill="#f7eff6"/>
<rect x="436.8" y="231.40" width="0.6" height="9.86" fill="#fbf3f5"/>
<rect x="440.0" y="231.40" width="1.3" height="9.86" fill="#f9f2f6"/>
<rect x="442.3" y="231.40" width="0.6" height="9.86" fill="#f9e6e5"/>
<rect x="442.9" y="231.40" width="1.3" height="9.86" fill="#faeeee"/>
<rect x="446.4" y="231.40" width="0.6" height="9.86" fill="#f8f1f6"/>
<rect x="448.8" y="231.40" width="0.6" height="9.86" fill="#f7eff6"/>
<rect x="452.7" y="231.40" width="1.0" height="9.86" fill="#fbf4f6"/>
<rect x="453.7" y="231.40" width="1.0" height="9.86" fill="#f8f0f6"/>
<rect x="456.3" y="231.40" width="1.0" height="9.86" fill="#faeff0"/>
<rect x="459.1" y="231.40" width="1.6" height="9.86" fill="#faeae9"/>
<rect x="461.7" y="231.40" width="1.6" height="9.86" fill="#f8f1f6"/>
<rect x="465.5" y="231.40" width="1.0" height="9.86" fill="#fbf5f7"/>
<rect x="468.1" y="231.40" width="0.8" height="9.86" fill="#f6edf6"/>
<rect x="468.9" y="231.40" width="1.0" height="9.86" fill="#faeff0"/>
<rect x="469.9" y="231.40" width="0.8" height="9.86" fill="#faf4f7"/>
<rect x="471.7" y="231.40" width="0.6" height="9.86" fill="#f8f0f6"/>
<rect x="476.0" y="231.40" width="1.0" height="9.86" fill="#f9f2f7"/>
<rect x="478.6" y="231.40" width="0.6" height="9.86" fill="#faf4f7"/>
<rect x="479.2" y="231.40" width="0.6" height="9.86" fill="#f6edf6"/>
<rect x="479.8" y="231.40" width="0.6" height="9.86" fill="#faf1f2"/>
<rect x="483.5" y="231.40" width="0.8" height="9.86" fill="#fbf4f5"/>
<rect x="484.3" y="231.40" width="1.6" height="9.86" fill="#f9e8e7"/>
<rect x="487.5" y="231.40" width="1.0" height="9.86" fill="#fbf1f3"/>
<rect x="488.5" y="231.40" width="1.3" height="9.86" fill="#f8f0f6"/>
<rect x="491.60" y="231.40" width="53.00" height="9.86" fill="#faf4f7" shape-rendering="crispEdges"/>
<rect x="491.6" y="231.40" width="0.6" height="9.86" fill="#f9f2f7"/>
<rect x="494.0" y="231.40" width="0.6" height="9.86" fill="#fbf5f7"/>
<rect x="495.2" y="231.40" width="1.0" height="9.86" fill="#fbf5f7"/>
<rect x="497.2" y="231.40" width="1.3" height="9.86" fill="#faf3f7"/>
<rect x="505.1" y="231.40" width="1.3" height="9.86" fill="#fbf4f6"/>
<rect x="510.2" y="231.40" width="1.0" height="9.86" fill="#faf4f7"/>
<rect x="511.2" y="231.40" width="1.0" height="9.86" fill="#f7eff6"/>
<rect x="513.0" y="231.40" width="0.6" height="9.86" fill="#fbf1f3"/>
<rect x="514.6" y="231.40" width="1.0" height="9.86" fill="#fbf5f7"/>
<rect x="515.6" y="231.40" width="1.6" height="9.86" fill="#f9e7e5"/>
<rect x="517.2" y="231.40" width="1.0" height="9.86" fill="#faeded"/>
<rect x="518.2" y="231.40" width="1.0" height="9.86" fill="#f9f1f6"/>
<rect x="519.2" y="231.40" width="1.3" height="9.86" fill="#faf1f2"/>
<rect x="520.5" y="231.40" width="0.6" height="9.86" fill="#faedee"/>
<rect x="521.1" y="231.40" width="1.3" height="9.86" fill="#f3e9f5"/>
<rect x="522.4" y="231.40" width="1.0" height="9.86" fill="#faeae9"/>
<rect x="525.7" y="231.40" width="0.8" height="9.86" fill="#fbf4f5"/>
<rect x="528.3" y="231.40" width="1.0" height="9.86" fill="#fbf2f3"/>
<rect x="529.3" y="231.40" width="1.3" height="9.86" fill="#fbf4f6"/>
<rect x="531.6" y="231.40" width="1.6" height="9.86" fill="#faf3f7"/>
<rect x="533.2" y="231.40" width="1.0" height="9.86" fill="#fbf3f5"/>
<rect x="537.9" y="231.40" width="0.8" height="9.86" fill="#f5ecf6"/>
<rect x="544.60" y="231.40" width="28.80" height="9.86" fill="#faf4f7" shape-rendering="crispEdges"/>
<rect x="544.6" y="231.40" width="1.0" height="9.86" fill="#faefef"/>
<rect x="546.4" y="231.40" width="1.0" height="9.86" fill="#fbf1f2"/>
<rect x="548.4" y="231.40" width="1.0" height="9.86" fill="#fbf1f2"/>
<rect x="550.7" y="231.40" width="1.6" height="9.86" fill="#fbf4f5"/>
<rect x="554.3" y="231.40" width="1.3" height="9.86" fill="#f6eef6"/>
<rect x="557.6" y="231.40" width="1.0" height="9.86" fill="#faf4f7"/>
<rect x="558.6" y="231.40" width="0.8" height="9.86" fill="#fbf1f2"/>
<rect x="560.2" y="231.40" width="1.0" height="9.86" fill="#faeff0"/>
<rect x="562.0" y="231.40" width="1.0" height="9.86" fill="#fbf4f6"/>
<rect x="568.3" y="231.40" width="1.0" height="9.86" fill="#f6edf6"/>
<rect x="570.6" y="231.40" width="0.6" height="9.86" fill="#f7f0f6"/>
<rect x="572.8" y="231.40" width="0.6" height="9.86" fill="#f9e9e8"/>
<rect x="573.40" y="231.40" width="22.00" height="9.86" fill="#f8dbd6" shape-rendering="crispEdges"/>
<rect x="573.4" y="231.40" width="1.3" height="9.86" fill="#f3b3a5"/>
<rect x="574.7" y="231.40" width="1.0" height="9.86" fill="#f7d3cd"/>
<rect x="577.0" y="231.40" width="1.0" height="9.86" fill="#f7d8d3"/>
<rect x="578.0" y="231.40" width="0.8" height="9.86" fill="#f2aa9b"/>
<rect x="578.8" y="231.40" width="1.6" height="9.86" fill="#f8dbd6"/>
<rect x="583.0" y="231.40" width="0.6" height="9.86" fill="#f7d8d3"/>
<rect x="583.6" y="231.40" width="1.6" height="9.86" fill="#f5c1b6"/>
<rect x="586.8" y="231.40" width="0.6" height="9.86" fill="#f5bfb5"/>
<rect x="587.4" y="231.40" width="0.8" height="9.86" fill="#f5c1b7"/>
<rect x="588.2" y="231.40" width="0.8" height="9.86" fill="#f7d8d3"/>
<rect x="589.8" y="231.40" width="1.0" height="9.86" fill="#f3b2a4"/>
<rect x="592.1" y="231.40" width="1.3" height="9.86" fill="#f6c7be"/>
<rect x="594.6" y="231.40" width="0.6" height="9.86" fill="#f6cac2"/>
<rect x="595.40" y="231.40" width="16.10" height="9.86" fill="#faf4f7" shape-rendering="crispEdges"/>
<rect x="606.1" y="231.40" width="0.6" height="9.86" fill="#fbf2f3"/>
<rect x="606.7" y="231.40" width="1.6" height="9.86" fill="#fbf2f3"/>
<rect x="608.3" y="231.40" width="0.8" height="9.86" fill="#faf4f7"/>
<rect x="609.1" y="231.40" width="1.6" height="9.86" fill="#f7eff6"/>
<rect x="611.50" y="231.40" width="8.90" height="9.86" fill="#faf4f7" shape-rendering="crispEdges"/>
<rect x="613.1" y="231.40" width="0.6" height="9.86" fill="#faeded"/>
<rect x="618.8" y="231.40" width="1.6" height="9.86" fill="#f8f1f6"/>
<rect x="620.40" y="231.40" width="8.10" height="9.86" fill="#faf4f7" shape-rendering="crispEdges"/>
<rect x="623.0" y="231.40" width="1.3" height="9.86" fill="#f8f1f6"/>
<rect x="624.3" y="231.40" width="1.6" height="9.86" fill="#faeff0"/>
<rect x="625.9" y="231.40" width="0.8" height="9.86" fill="#faebea"/>
<text x="406.00" y="238.83" font-size="7.0" text-anchor="end" fill="#141414" stroke="#141414" stroke-width="0.2" textLength="14.01" lengthAdjust="spacingAndGlyphs">Aqp4</text>
<rect x="408.10" y="241.26" width="83.50" height="9.86" fill="#fbf5f7" shape-rendering="crispEdges"/>
<rect x="408.1" y="241.26" width="1.3" height="9.86" fill="#f7d6d0"/>
<rect x="409.4" y="241.26" width="1.0" height="9.86" fill="#faf4f7"/>
<rect x="411.7" y="241.26" width="0.6" height="9.86" fill="#f6cfc7"/>
<rect x="417.1" y="241.26" width="1.0" height="9.86" fill="#f8d9d4"/>
<rect x="421.2" y="241.26" width="1.3" height="9.86" fill="#f8dbd7"/>
<rect x="425.3" y="241.26" width="1.6" height="9.86" fill="#f9f2f7"/>
<rect x="426.9" y="241.26" width="1.0" height="9.86" fill="#f8dedb"/>
<rect x="427.9" y="241.26" width="1.3" height="9.86" fill="#fbf5f7"/>
<rect x="429.8" y="241.26" width="0.8" height="9.86" fill="#f8dfdc"/>
<rect x="435.1" y="241.26" width="1.0" height="9.86" fill="#fbf5f7"/>
<rect x="436.1" y="241.26" width="1.6" height="9.86" fill="#f9e3e1"/>
<rect x="437.7" y="241.26" width="0.6" height="9.86" fill="#f8ddda"/>
<rect x="439.3" y="241.26" width="1.6" height="9.86" fill="#fbf5f7"/>
<rect x="440.9" y="241.26" width="1.6" height="9.86" fill="#f8f0f6"/>
<rect x="442.5" y="241.26" width="1.0" height="9.86" fill="#f6edf6"/>
<rect x="444.5" y="241.26" width="1.3" height="9.86" fill="#f8dad6"/>
<rect x="448.6" y="241.26" width="1.0" height="9.86" fill="#faf4f7"/>
<rect x="449.6" y="241.26" width="0.6" height="9.86" fill="#faf1f2"/>
<rect x="453.4" y="241.26" width="1.0" height="9.86" fill="#f7f0f6"/>
<rect x="454.4" y="241.26" width="1.0" height="9.86" fill="#faf3f7"/>
<rect x="455.4" y="241.26" width="1.6" height="9.86" fill="#faeff0"/>
<rect x="462.3" y="241.26" width="1.3" height="9.86" fill="#fbf4f6"/>
<rect x="463.6" y="241.26" width="0.8" height="9.86" fill="#f9e6e5"/>
<rect x="465.4" y="241.26" width="1.6" height="9.86" fill="#faf3f7"/>
<rect x="467.0" y="241.26" width="1.0" height="9.86" fill="#faf3f7"/>
<rect x="468.0" y="241.26" width="0.8" height="9.86" fill="#f9f2f6"/>
<rect x="470.9" y="241.26" width="1.3" height="9.86" fill="#faf0f0"/>
<rect x="472.2" y="241.26" width="1.0" height="9.86" fill="#f9e1de"/>
<rect x="475.8" y="241.26" width="1.6" height="9.86" fill="#fbf3f4"/>
<rect x="477.4" y="241.26" width="1.0" height="9.86" fill="#f8dad5"/>
<rect x="478.4" y="241.26" width="0.8" height="9.86" fill="#f8ddd9"/>
<rect x="479.8" y="241.26" width="0.8" height="9.86" fill="#f7d7d2"/>
<rect x="486.6" y="241.26" width="0.8" height="9.86" fill="#f6eef6"/>
<rect x="490.7" y="241.26" width="0.9" height="9.86" fill="#f9f2f7"/>
<rect x="491.60" y="241.26" width="53.00" height="9.86" fill="#fbf5f7" shape-rendering="crispEdges"/>
<rect x="491.6" y="241.26" width="0.6" height="9.86" fill="#faeff0"/>
<rect x="492.2" y="241.26" width="0.6" height="9.86" fill="#f9e4e2"/>
<rect x="492.8" y="241.26" width="0.6" height="9.86" fill="#f7d8d3"/>
<rect x="496.0" y="241.26" width="1.0" height="9.86" fill="#fbf3f5"/>
<rect x="497.0" y="241.26" width="1.0" height="9.86" fill="#f9e1de"/>
<rect x="498.0" y="241.26" width="0.8" height="9.86" fill="#f9e2df"/>
<rect x="498.8" y="241.26" width="1.0" height="9.86" fill="#f8dcd8"/>
<rect x="501.0" y="241.26" width="1.6" height="9.86" fill="#faeae9"/>
<rect x="502.6" y="241.26" width="1.0" height="9.86" fill="#fbf5f7"/>
<rect x="505.4" y="241.26" width="1.6" height="9.86" fill="#faeded"/>
<rect x="507.0" y="241.26" width="1.0" height="9.86" fill="#fbf3f4"/>
<rect x="508.0" y="241.26" width="1.3" height="9.86" fill="#f8dcd8"/>
<rect x="509.3" y="241.26" width="1.0" height="9.86" fill="#f8d8d4"/>
<rect x="512.4" y="241.26" width="1.0" height="9.86" fill="#f8f1f6"/>
<rect x="515.0" y="241.26" width="1.0" height="9.86" fill="#faeff0"/>
<rect x="520.9" y="241.26" width="1.3" height="9.86" fill="#f9e8e6"/>
<rect x="523.5" y="241.26" width="1.6" height="9.86" fill="#fbf4f6"/>
<rect x="527.0" y="241.26" width="1.0" height="9.86" fill="#f8dfdc"/>
<rect x="528.0" y="241.26" width="1.3" height="9.86" fill="#fbf3f5"/>
<rect x="529.3" y="241.26" width="0.8" height="9.86" fill="#f8d9d4"/>
<rect x="532.3" y="241.26" width="1.6" height="9.86" fill="#f8ddd9"/>
<rect x="533.9" y="241.26" width="1.3" height="9.86" fill="#faf1f2"/>
<rect x="537.2" y="241.26" width="1.6" height="9.86" fill="#f7d2cb"/>
<rect x="538.8" y="241.26" width="1.0" height="9.86" fill="#f9e4e2"/>
<rect x="541.4" y="241.26" width="1.0" height="9.86" fill="#faebeb"/>
<rect x="542.4" y="241.26" width="1.0" height="9.86" fill="#fbf5f7"/>
<rect x="544.60" y="241.26" width="28.80" height="9.86" fill="#faf4f7" shape-rendering="crispEdges"/>
<rect x="544.6" y="241.26" width="1.6" height="9.86" fill="#f7eff6"/>
<rect x="547.8" y="241.26" width="1.0" height="9.86" fill="#f5ebf5"/>
<rect x="550.1" y="241.26" width="1.6" height="9.86" fill="#fbf4f7"/>
<rect x="551.7" y="241.26" width="1.0" height="9.86" fill="#f6eef6"/>
<rect x="554.1" y="241.26" width="0.6" height="9.86" fill="#faefef"/>
<rect x="556.3" y="241.26" width="1.6" height="9.86" fill="#fbf2f3"/>
<rect x="558.9" y="241.26" width="0.6" height="9.86" fill="#faeeee"/>
<rect x="559.5" y="241.26" width="1.6" height="9.86" fill="#f8f0f6"/>
<rect x="564.1" y="241.26" width="1.0" height="9.86" fill="#f5ecf5"/>
<rect x="565.1" y="241.26" width="1.0" height="9.86" fill="#f8f0f6"/>
<rect x="566.1" y="241.26" width="1.0" height="9.86" fill="#faeded"/>
<rect x="573.40" y="241.26" width="22.00" height="9.86" fill="#faf4f7" shape-rendering="crispEdges"/>
<rect x="573.4" y="241.26" width="1.0" height="9.86" fill="#f8f1f6"/>
<rect x="574.4" y="241.26" width="1.6" height="9.86" fill="#fbf4f6"/>
<rect x="576.0" y="241.26" width="1.0" height="9.86" fill="#f8f1f6"/>
<rect x="579.3" y="241.26" width="1.0" height="9.86" fill="#faf4f7"/>
<rect x="584.5" y="241.26" width="0.8" height="9.86" fill="#f9f2f6"/>
<rect x="585.3" y="241.26" width="1.3" height="9.86" fill="#f7eff6"/>
<rect x="588.2" y="241.26" width="1.6" height="9.86" fill="#f9e1de"/>
<rect x="589.8" y="241.26" width="1.0" height="9.86" fill="#faedee"/>
<rect x="590.8" y="241.26" width="1.3" height="9.86" fill="#faf0f1"/>
<rect x="595.40" y="241.26" width="16.10" height="9.86" fill="#f6cbc3" shape-rendering="crispEdges"/>
<rect x="595.4" y="241.26" width="1.6" height="9.86" fill="#f5c0b5"/>
<rect x="597.0" y="241.26" width="1.0" height="9.86" fill="#f7d4ce"/>
<rect x="599.9" y="241.26" width="1.3" height="9.86" fill="#f09e8d"/>
<rect x="601.2" y="241.26" width="1.0" height="9.86" fill="#f4b5a8"/>
<rect x="603.8" y="241.26" width="0.8" height="9.86" fill="#f5c5bb"/>
<rect x="604.6" y="241.26" width="1.0" height="9.86" fill="#f5c4ba"/>
<rect x="605.6" y="241.26" width="1.3" height="9.86" fill="#f6cfc7"/>
<rect x="606.9" y="241.26" width="1.0" height="9.86" fill="#f3ae9f"/>
<rect x="607.9" y="241.26" width="1.6" height="9.86" fill="#f3b2a4"/>
<rect x="611.50" y="241.26" width="8.90" height="9.86" fill="#faf4f7" shape-rendering="crispEdges"/>
<rect x="615.4" y="241.26" width="1.3" height="9.86" fill="#faebeb"/>
<rect x="617.3" y="241.26" width="1.0" height="9.86" fill="#faeceb"/>
<rect x="619.7" y="241.26" width="0.7" height="9.86" fill="#fbf2f4"/>
<rect x="620.40" y="241.26" width="8.10" height="9.86" fill="#faf4f7" shape-rendering="crispEdges"/>
<rect x="620.4" y="241.26" width="1.0" height="9.86" fill="#fbf2f4"/>
<text x="406.00" y="248.69" font-size="7.0" text-anchor="end" fill="#141414" stroke="#141414" stroke-width="0.2" textLength="14.33" lengthAdjust="spacingAndGlyphs">Csf1r</text>
<rect x="408.10" y="251.12" width="83.50" height="9.86" fill="#faf4f7" shape-rendering="crispEdges"/>
<rect x="409.1" y="251.12" width="1.0" height="9.86" fill="#f5ecf6"/>
<rect x="413.3" y="251.12" width="1.0" height="9.86" fill="#faf0f0"/>
<rect x="415.3" y="251.12" width="1.0" height="9.86" fill="#f9f2f6"/>
<rect x="420.5" y="251.12" width="0.6" height="9.86" fill="#f9f1f6"/>
<rect x="421.9" y="251.12" width="0.6" height="9.86" fill="#fbf2f3"/>
<rect x="424.8" y="251.12" width="0.8" height="9.86" fill="#faf0f1"/>
<rect x="427.2" y="251.12" width="0.6" height="9.86" fill="#faedee"/>
<rect x="427.8" y="251.12" width="0.8" height="9.86" fill="#f9e9e8"/>
<rect x="432.0" y="251.12" width="1.0" height="9.86" fill="#f7eff6"/>
<rect x="433.0" y="251.12" width="0.6" height="9.86" fill="#faeff0"/>
<rect x="433.6" y="251.12" width="1.0" height="9.86" fill="#fbf2f3"/>
<rect x="435.6" y="251.12" width="1.3" height="9.86" fill="#fbf5f7"/>
<rect x="437.9" y="251.12" width="1.0" height="9.86" fill="#f5ecf6"/>
<rect x="438.9" y="251.12" width="1.6" height="9.86" fill="#f6edf6"/>
<rect x="440.5" y="251.12" width="1.0" height="9.86" fill="#f9e5e3"/>
<rect x="441.5" y="251.12" width="1.3" height="9.86" fill="#faecec"/>
<rect x="444.4" y="251.12" width="1.6" height="9.86" fill="#faeae9"/>
<rect x="446.0" y="251.12" width="1.0" height="9.86" fill="#fbf3f5"/>
<rect x="451.5" y="251.12" width="0.8" height="9.86" fill="#f7f0f6"/>
<rect x="454.9" y="251.12" width="1.6" height="9.86" fill="#fbf4f5"/>
<rect x="460.0" y="251.12" width="0.8" height="9.86" fill="#fbf4f7"/>
<rect x="461.8" y="251.12" width="1.3" height="9.86" fill="#fbf4f6"/>
<rect x="463.1" y="251.12" width="1.6" height="9.86" fill="#fbf5f7"/>
<rect x="464.7" y="251.12" width="1.6" height="9.86" fill="#faeff0"/>
<rect x="466.3" y="251.12" width="1.0" height="9.86" fill="#f5ecf6"/>
<rect x="471.8" y="251.12" width="1.6" height="9.86" fill="#faf4f7"/>
<rect x="473.4" y="251.12" width="1.3" height="9.86" fill="#fbf3f4"/>
<rect x="475.5" y="251.12" width="1.6" height="9.86" fill="#fbf4f5"/>
<rect x="484.0" y="251.12" width="0.6" height="9.86" fill="#f8f0f6"/>
<rect x="486.2" y="251.12" width="1.6" height="9.86" fill="#faf3f7"/>
<rect x="488.8" y="251.12" width="1.0" height="9.86" fill="#f6edf6"/>
<rect x="491.60" y="251.12" width="53.00" height="9.86" fill="#faf4f7" shape-rendering="crispEdges"/>
<rect x="492.6" y="251.12" width="0.6" height="9.86" fill="#fbf4f7"/>
<rect x="493.2" y="251.12" width="0.8" height="9.86" fill="#f9f2f7"/>
<rect x="495.2" y="251.12" width="0.8" height="9.86" fill="#f9f2f6"/>
<rect x="497.4" y="251.12" width="1.6" height="9.86" fill="#fbf5f7"/>
<rect x="503.9" y="251.12" width="1.0" height="9.86" fill="#f8f0f6"/>
<rect x="504.9" y="251.12" width="1.3" height="9.86" fill="#faf0f1"/>
<rect x="506.2" y="251.12" width="1.3" height="9.86" fill="#faefef"/>
<rect x="508.3" y="251.12" width="1.3" height="9.86" fill="#f8f1f6"/>
<rect x="509.6" y="251.12" width="1.0" height="9.86" fill="#fbf4f5"/>
<rect x="510.6" y="251.12" width="1.3" height="9.86" fill="#f8f1f6"/>
<rect x="513.1" y="251.12" width="0.6" height="9.86" fill="#faeff0"/>
<rect x="514.3" y="251.12" width="1.0" height="9.86" fill="#f9e6e4"/>
<rect x="516.3" y="251.12" width="0.6" height="9.86" fill="#f6edf6"/>
<rect x="516.9" y="251.12" width="1.0" height="9.86" fill="#faf0f1"/>
<rect x="518.5" y="251.12" width="1.0" height="9.86" fill="#faf4f7"/>
<rect x="525.3" y="251.12" width="1.6" height="9.86" fill="#fbf3f5"/>
<rect x="533.7" y="251.12" width="0.8" height="9.86" fill="#faf4f7"/>
<rect x="537.4" y="251.12" width="0.6" height="9.86" fill="#f9f2f6"/>
<rect x="539.0" y="251.12" width="1.0" height="9.86" fill="#f9f1f6"/>
<rect x="540.0" y="251.12" width="1.0" height="9.86" fill="#f9f2f6"/>
<rect x="542.8" y="251.12" width="1.0" height="9.86" fill="#fbf2f3"/>
<rect x="544.60" y="251.12" width="28.80" height="9.86" fill="#faf4f7" shape-rendering="crispEdges"/>
<rect x="545.6" y="251.12" width="0.6" height="9.86" fill="#fbf5f6"/>
<rect x="547.0" y="251.12" width="1.6" height="9.86" fill="#fbf3f4"/>
<rect x="548.6" y="251.12" width="0.6" height="9.86" fill="#fbf5f6"/>
<rect x="549.8" y="251.12" width="1.6" height="9.86" fill="#faebeb"/>
<rect x="553.0" y="251.12" width="0.6" height="9.86" fill="#f9f2f7"/>
<rect x="553.6" y="251.12" width="0.8" height="9.86" fill="#f5ecf6"/>
<rect x="562.0" y="251.12" width="1.0" height="9.86" fill="#fbf1f2"/>
<rect x="565.6" y="251.12" width="1.0" height="9.86" fill="#faf4f7"/>
<rect x="566.6" y="251.12" width="1.0" height="9.86" fill="#fbf2f3"/>
<rect x="567.6" y="251.12" width="0.8" height="9.86" fill="#fbf4f5"/>
<rect x="572.3" y="251.12" width="1.1" height="9.86" fill="#faecec"/>
<rect x="573.40" y="251.12" width="22.00" height="9.86" fill="#faf4f7" shape-rendering="crispEdges"/>
<rect x="573.4" y="251.12" width="1.0" height="9.86" fill="#fbf2f3"/>
<rect x="586.4" y="251.12" width="1.3" height="9.86" fill="#faecec"/>
<rect x="587.7" y="251.12" width="1.0" height="9.86" fill="#faeeee"/>
<rect x="588.7" y="251.12" width="0.6" height="9.86" fill="#fbf4f6"/>
<rect x="593.9" y="251.12" width="1.0" height="9.86" fill="#faf4f7"/>
<rect x="594.9" y="251.12" width="0.5" height="9.86" fill="#f9f2f6"/>
<rect x="595.40" y="251.12" width="16.10" height="9.86" fill="#f8dbd6" shape-rendering="crispEdges"/>
<rect x="596.0" y="251.12" width="1.0" height="9.86" fill="#f4b9ad"/>
<rect x="597.6" y="251.12" width="0.8" height="9.86" fill="#f8d9d5"/>
<rect x="600.0" y="251.12" width="1.0" height="9.86" fill="#f9e1de"/>
<rect x="601.0" y="251.12" width="0.8" height="9.86" fill="#f8d9d4"/>
<rect x="601.8" y="251.12" width="1.6" height="9.86" fill="#fae9e8"/>
<rect x="603.4" y="251.12" width="0.6" height="9.86" fill="#f9e1de"/>
<rect x="604.0" y="251.12" width="0.8" height="9.86" fill="#f4baae"/>
<rect x="606.1" y="251.12" width="0.8" height="9.86" fill="#f4bcb1"/>
<rect x="606.9" y="251.12" width="1.0" height="9.86" fill="#f8dcd8"/>
<rect x="607.9" y="251.12" width="1.6" height="9.86" fill="#f6c8bf"/>
<rect x="610.8" y="251.12" width="0.7" height="9.86" fill="#f5bfb5"/>
<rect x="611.50" y="251.12" width="8.90" height="9.86" fill="#faf4f7" shape-rendering="crispEdges"/>
<rect x="613.7" y="251.12" width="1.0" height="9.86" fill="#faeeef"/>
<rect x="615.3" y="251.12" width="0.6" height="9.86" fill="#f9f2f6"/>
<rect x="615.9" y="251.12" width="1.6" height="9.86" fill="#f5ebf5"/>
<rect x="617.5" y="251.12" width="1.6" height="9.86" fill="#fbf3f5"/>
<rect x="619.1" y="251.12" width="1.3" height="9.86" fill="#faf0f1"/>
<rect x="620.40" y="251.12" width="8.10" height="9.86" fill="#faf4f7" shape-rendering="crispEdges"/>
<rect x="622.5" y="251.12" width="1.0" height="9.86" fill="#faeeee"/>
<rect x="624.8" y="251.12" width="1.0" height="9.86" fill="#fbf4f6"/>
<rect x="627.4" y="251.12" width="1.0" height="9.86" fill="#fbf4f6"/>
<text x="406.00" y="258.55" font-size="7.0" text-anchor="end" fill="#141414" stroke="#141414" stroke-width="0.2" textLength="12.00" lengthAdjust="spacingAndGlyphs">Ctss</text>
<rect x="408.10" y="260.98" width="83.50" height="9.86" fill="#faf4f7" shape-rendering="crispEdges"/>
<rect x="408.1" y="260.98" width="1.0" height="9.86" fill="#fbf1f2"/>
<rect x="409.1" y="260.98" width="1.6" height="9.86" fill="#f4ebf5"/>
<rect x="410.7" y="260.98" width="1.0" height="9.86" fill="#fbf2f3"/>
<rect x="412.5" y="260.98" width="0.8" height="9.86" fill="#fbf4f6"/>
<rect x="413.3" y="260.98" width="0.8" height="9.86" fill="#fbf3f5"/>
<rect x="414.1" y="260.98" width="1.0" height="9.86" fill="#f6edf6"/>
<rect x="415.1" y="260.98" width="0.8" height="9.86" fill="#faeeee"/>
<rect x="427.6" y="260.98" width="0.8" height="9.86" fill="#f6eef6"/>
<rect x="433.8" y="260.98" width="0.8" height="9.86" fill="#f9e3e1"/>
<rect x="434.6" y="260.98" width="0.6" height="9.86" fill="#fbf4f7"/>
<rect x="436.8" y="260.98" width="0.8" height="9.86" fill="#f6eef6"/>
<rect x="437.6" y="260.98" width="0.6" height="9.86" fill="#fbf4f6"/>
<rect x="439.2" y="260.98" width="1.0" height="9.86" fill="#f6eef6"/>
<rect x="446.2" y="260.98" width="1.0" height="9.86" fill="#faf0f1"/>
<rect x="448.0" y="260.98" width="1.0" height="9.86" fill="#fbf4f6"/>
<rect x="450.8" y="260.98" width="1.3" height="9.86" fill="#fbf4f7"/>
<rect x="453.4" y="260.98" width="1.6" height="9.86" fill="#fae9e8"/>
<rect x="455.0" y="260.98" width="0.6" height="9.86" fill="#faf0f0"/>
<rect x="459.8" y="260.98" width="1.3" height="9.86" fill="#f6edf6"/>
<rect x="463.7" y="260.98" width="1.3" height="9.86" fill="#f7eff6"/>
<rect x="467.6" y="260.98" width="1.0" height="9.86" fill="#faf3f7"/>
<rect x="471.4" y="260.98" width="1.0" height="9.86" fill="#fbf2f3"/>
<rect x="474.6" y="260.98" width="0.6" height="9.86" fill="#f8f1f6"/>
<rect x="475.2" y="260.98" width="1.6" height="9.86" fill="#fbf2f4"/>
<rect x="477.8" y="260.98" width="1.0" height="9.86" fill="#f9f2f7"/>
<rect x="484.2" y="260.98" width="1.0" height="9.86" fill="#faf4f7"/>
<rect x="488.8" y="260.98" width="1.0" height="9.86" fill="#f8f0f6"/>
<rect x="491.60" y="260.98" width="53.00" height="9.86" fill="#faf4f7" shape-rendering="crispEdges"/>
<rect x="491.6" y="260.98" width="0.8" height="9.86" fill="#fbf5f7"/>
<rect x="494.0" y="260.98" width="0.6" height="9.86" fill="#f5ecf6"/>
<rect x="494.6" y="260.98" width="0.8" height="9.86" fill="#faf3f7"/>
<rect x="495.4" y="260.98" width="1.0" height="9.86" fill="#f9f3f7"/>
<rect x="498.0" y="260.98" width="1.3" height="9.86" fill="#f9f2f6"/>
<rect x="503.2" y="260.98" width="1.6" height="9.86" fill="#fbf4f6"/>
<rect x="507.0" y="260.98" width="1.6" height="9.86" fill="#f9e6e4"/>
<rect x="510.5" y="260.98" width="1.0" height="9.86" fill="#f8f0f6"/>
<rect x="511.5" y="260.98" width="0.8" height="9.86" fill="#fae9e9"/>
<rect x="517.1" y="260.98" width="1.0" height="9.86" fill="#f8f0f6"/>
<rect x="518.1" y="260.98" width="1.3" height="9.86" fill="#fbf5f7"/>
<rect x="521.7" y="260.98" width="1.0" height="9.86" fill="#fbf3f4"/>
<rect x="523.7" y="260.98" width="1.0" height="9.86" fill="#faf3f7"/>
<rect x="524.7" y="260.98" width="1.6" height="9.86" fill="#f7eff6"/>
<rect x="526.3" y="260.98" width="1.6" height="9.86" fill="#f9e7e6"/>
<rect x="527.9" y="260.98" width="0.8" height="9.86" fill="#fbf2f4"/>
<rect x="532.1" y="260.98" width="0.8" height="9.86" fill="#f9f2f6"/>
<rect x="533.7" y="260.98" width="1.3" height="9.86" fill="#f9e7e5"/>
<rect x="536.3" y="260.98" width="1.0" height="9.86" fill="#fbf2f3"/>
<rect x="537.3" y="260.98" width="1.6" height="9.86" fill="#faeeef"/>
<rect x="538.9" y="260.98" width="1.0" height="9.86" fill="#fbf4f7"/>
<rect x="540.5" y="260.98" width="1.0" height="9.86" fill="#faf3f7"/>
<rect x="541.5" y="260.98" width="1.3" height="9.86" fill="#fbf4f5"/>
<rect x="542.8" y="260.98" width="0.6" height="9.86" fill="#f8f1f6"/>
<rect x="543.4" y="260.98" width="1.2" height="9.86" fill="#f9f3f7"/>
<rect x="544.60" y="260.98" width="28.80" height="9.86" fill="#faf4f7" shape-rendering="crispEdges"/>
<rect x="544.6" y="260.98" width="1.3" height="9.86" fill="#f7eef6"/>
<rect x="545.9" y="260.98" width="0.8" height="9.86" fill="#f5ecf6"/>
<rect x="546.7" y="260.98" width="0.6" height="9.86" fill="#fbf1f2"/>
<rect x="547.3" y="260.98" width="1.3" height="9.86" fill="#f9f1f6"/>
<rect x="548.6" y="260.98" width="1.0" height="9.86" fill="#faf0f1"/>
<rect x="551.2" y="260.98" width="1.0" height="9.86" fill="#f5ecf5"/>
<rect x="554.4" y="260.98" width="1.0" height="9.86" fill="#faf3f7"/>
<rect x="560.1" y="260.98" width="1.0" height="9.86" fill="#fbf4f6"/>
<rect x="561.1" y="260.98" width="0.6" height="9.86" fill="#f9f2f7"/>
<rect x="570.8" y="260.98" width="1.6" height="9.86" fill="#f8f0f6"/>
<rect x="573.40" y="260.98" width="22.00" height="9.86" fill="#faf4f7" shape-rendering="crispEdges"/>
<rect x="573.4" y="260.98" width="1.3" height="9.86" fill="#f9e1de"/>
<rect x="574.7" y="260.98" width="0.8" height="9.86" fill="#f3e9f5"/>
<rect x="576.5" y="260.98" width="1.6" height="9.86" fill="#f9e2df"/>
<rect x="578.1" y="260.98" width="1.0" height="9.86" fill="#fbf1f3"/>
<rect x="585.5" y="260.98" width="1.0" height="9.86" fill="#f9f1f6"/>
<rect x="586.5" y="260.98" width="0.6" height="9.86" fill="#faf4f7"/>
<rect x="587.1" y="260.98" width="1.0" height="9.86" fill="#faefef"/>
<rect x="588.1" y="260.98" width="1.6" height="9.86" fill="#f7eef6"/>
<rect x="589.7" y="260.98" width="1.3" height="9.86" fill="#fbf4f6"/>
<rect x="592.3" y="260.98" width="1.0" height="9.86" fill="#f7eff6"/>
<rect x="595.40" y="260.98" width="16.10" height="9.86" fill="#faf4f7" shape-rendering="crispEdges"/>
<rect x="598.0" y="260.98" width="1.3" height="9.86" fill="#f6edf6"/>
<rect x="606.4" y="260.98" width="1.6" height="9.86" fill="#f9f2f7"/>
<rect x="610.6" y="260.98" width="0.9" height="9.86" fill="#f9f1f6"/>
<rect x="611.50" y="260.98" width="8.90" height="9.86" fill="#f4baae" shape-rendering="crispEdges"/>
<rect x="612.1" y="260.98" width="0.8" height="9.86" fill="#f2a595"/>
<rect x="612.9" y="260.98" width="0.6" height="9.86" fill="#f4b8ac"/>
<rect x="613.5" y="260.98" width="1.6" height="9.86" fill="#f2a695"/>
<rect x="619.0" y="260.98" width="0.6" height="9.86" fill="#f1a392"/>
<rect x="619.6" y="260.98" width="0.6" height="9.86" fill="#f2a999"/>
<rect x="620.40" y="260.98" width="8.10" height="9.86" fill="#faf4f7" shape-rendering="crispEdges"/>
<rect x="620.4" y="260.98" width="1.6" height="9.86" fill="#faefef"/>
<rect x="623.3" y="260.98" width="0.8" height="9.86" fill="#fbf3f4"/>
<rect x="624.1" y="260.98" width="1.3" height="9.86" fill="#f5ecf5"/>
<rect x="625.4" y="260.98" width="0.8" height="9.86" fill="#fbf5f7"/>
<rect x="626.2" y="260.98" width="1.3" height="9.86" fill="#f9f2f7"/>
<text x="406.00" y="268.41" font-size="7.0" text-anchor="end" fill="#141414" stroke="#141414" stroke-width="0.2" textLength="10.00" lengthAdjust="spacingAndGlyphs">Flt1</text>
<rect x="408.10" y="270.84" width="83.50" height="9.86" fill="#fbf5f7" shape-rendering="crispEdges"/>
<rect x="408.7" y="270.84" width="1.3" height="9.86" fill="#fbf1f2"/>
<rect x="410.0" y="270.84" width="0.8" height="9.86" fill="#f8f0f6"/>
<rect x="410.8" y="270.84" width="0.8" height="9.86" fill="#f8ddd9"/>
<rect x="414.8" y="270.84" width="1.0" height="9.86" fill="#fae9e8"/>
<rect x="417.4" y="270.84" width="1.3" height="9.86" fill="#f9f2f6"/>
<rect x="420.3" y="270.84" width="1.0" height="9.86" fill="#fae9e8"/>
<rect x="422.9" y="270.84" width="0.6" height="9.86" fill="#f9e2df"/>
<rect x="424.1" y="270.84" width="0.6" height="9.86" fill="#f6edf6"/>
<rect x="424.7" y="270.84" width="1.0" height="9.86" fill="#fbf2f3"/>
<rect x="426.3" y="270.84" width="0.6" height="9.86" fill="#faf3f7"/>
<rect x="426.9" y="270.84" width="1.0" height="9.86" fill="#f8f0f6"/>
<rect x="428.9" y="270.84" width="1.3" height="9.86" fill="#faedec"/>
<rect x="430.2" y="270.84" width="0.6" height="9.86" fill="#faeae9"/>
<rect x="432.6" y="270.84" width="0.6" height="9.86" fill="#fbf3f4"/>
<rect x="442.5" y="270.84" width="1.0" height="9.86" fill="#f8ddd9"/>
<rect x="445.8" y="270.84" width="1.0" height="9.86" fill="#faeeee"/>
<rect x="446.8" y="270.84" width="1.0" height="9.86" fill="#fbf2f4"/>
<rect x="448.4" y="270.84" width="1.3" height="9.86" fill="#f7d6d0"/>
<rect x="451.3" y="270.84" width="1.0" height="9.86" fill="#f6cbc2"/>
<rect x="452.3" y="270.84" width="0.6" height="9.86" fill="#fbf1f2"/>
<rect x="452.9" y="270.84" width="0.8" height="9.86" fill="#f9e3e0"/>
<rect x="453.7" y="270.84" width="1.6" height="9.86" fill="#faebea"/>
<rect x="455.3" y="270.84" width="1.0" height="9.86" fill="#fae9e8"/>
<rect x="456.3" y="270.84" width="1.0" height="9.86" fill="#faf3f7"/>
<rect x="457.3" y="270.84" width="1.0" height="9.86" fill="#faeeef"/>
<rect x="458.9" y="270.84" width="0.8" height="9.86" fill="#f7d8d3"/>
<rect x="461.3" y="270.84" width="1.6" height="9.86" fill="#f8f0f6"/>
<rect x="463.5" y="270.84" width="1.0" height="9.86" fill="#f8dad5"/>
<rect x="464.5" y="270.84" width="0.8" height="9.86" fill="#fbf2f3"/>
<rect x="465.3" y="270.84" width="1.3" height="9.86" fill="#f9e1de"/>
<rect x="467.2" y="270.84" width="0.8" height="9.86" fill="#f9e6e4"/>
<rect x="468.0" y="270.84" width="1.0" height="9.86" fill="#faf0f1"/>
<rect x="469.0" y="270.84" width="0.8" height="9.86" fill="#faeeef"/>
<rect x="469.8" y="270.84" width="1.0" height="9.86" fill="#f8dbd7"/>
<rect x="470.8" y="270.84" width="1.6" height="9.86" fill="#f8dedb"/>
<rect x="473.2" y="270.84" width="0.6" height="9.86" fill="#fbf1f2"/>
<rect x="473.8" y="270.84" width="1.6" height="9.86" fill="#f9f2f6"/>
<rect x="475.4" y="270.84" width="0.6" height="9.86" fill="#faf4f7"/>
<rect x="476.8" y="270.84" width="1.3" height="9.86" fill="#fbf4f5"/>
<rect x="478.1" y="270.84" width="0.8" height="9.86" fill="#fbf5f6"/>
<rect x="480.9" y="270.84" width="1.0" height="9.86" fill="#fbf4f7"/>
<rect x="481.9" y="270.84" width="1.6" height="9.86" fill="#fbf3f4"/>
<rect x="483.5" y="270.84" width="0.6" height="9.86" fill="#f9e8e6"/>
<rect x="484.1" y="270.84" width="1.0" height="9.86" fill="#f8dcd8"/>
<rect x="486.1" y="270.84" width="0.8" height="9.86" fill="#f6edf6"/>
<rect x="489.5" y="270.84" width="1.0" height="9.86" fill="#faf3f7"/>
<rect x="490.5" y="270.84" width="1.1" height="9.86" fill="#fbf5f6"/>
<rect x="491.60" y="270.84" width="53.00" height="9.86" fill="#faf4f7" shape-rendering="crispEdges"/>
<rect x="493.2" y="270.84" width="1.3" height="9.86" fill="#fbf5f6"/>
<rect x="497.1" y="270.84" width="1.6" height="9.86" fill="#f7eff6"/>
<rect x="498.7" y="270.84" width="1.3" height="9.86" fill="#fbf5f7"/>
<rect x="501.4" y="270.84" width="1.6" height="9.86" fill="#fbf3f4"/>
<rect x="504.3" y="270.84" width="1.0" height="9.86" fill="#faf0f1"/>
<rect x="509.7" y="270.84" width="1.0" height="9.86" fill="#faebeb"/>
<rect x="512.3" y="270.84" width="1.0" height="9.86" fill="#fbf4f5"/>
<rect x="513.3" y="270.84" width="1.3" height="9.86" fill="#fbf4f5"/>
<rect x="514.6" y="270.84" width="0.6" height="9.86" fill="#fbf1f2"/>
<rect x="516.2" y="270.84" width="1.0" height="9.86" fill="#f7eef6"/>
<rect x="517.2" y="270.84" width="1.0" height="9.86" fill="#faf3f7"/>
<rect x="518.2" y="270.84" width="0.8" height="9.86" fill="#f9e4e2"/>
<rect x="520.8" y="270.84" width="0.6" height="9.86" fill="#f9f2f6"/>
<rect x="521.4" y="270.84" width="0.6" height="9.86" fill="#f9f3f7"/>
<rect x="523.3" y="270.84" width="0.8" height="9.86" fill="#f7eef6"/>
<rect x="526.4" y="270.84" width="1.0" height="9.86" fill="#faeeee"/>
<rect x="527.4" y="270.84" width="1.0" height="9.86" fill="#faecec"/>
<rect x="529.7" y="270.84" width="1.6" height="9.86" fill="#fbf4f6"/>
<rect x="532.9" y="270.84" width="1.0" height="9.86" fill="#faebeb"/>
<rect x="533.9" y="270.84" width="1.0" height="9.86" fill="#fbf2f3"/>
<rect x="534.9" y="270.84" width="0.6" height="9.86" fill="#f8dfdc"/>
<rect x="537.1" y="270.84" width="0.6" height="9.86" fill="#faeeee"/>
<rect x="537.7" y="270.84" width="1.0" height="9.86" fill="#f9e5e3"/>
<rect x="538.7" y="270.84" width="1.3" height="9.86" fill="#f8f1f6"/>
<rect x="540.0" y="270.84" width="0.6" height="9.86" fill="#f7eff6"/>
<rect x="540.6" y="270.84" width="1.3" height="9.86" fill="#faf3f7"/>
<rect x="542.7" y="270.84" width="0.6" height="9.86" fill="#f6edf6"/>
<rect x="543.3" y="270.84" width="1.3" height="9.86" fill="#fbf1f2"/>
<rect x="544.60" y="270.84" width="28.80" height="9.86" fill="#faf4f7" shape-rendering="crispEdges"/>
<rect x="547.9" y="270.84" width="0.6" height="9.86" fill="#f8f0f6"/>
<rect x="550.9" y="270.84" width="0.8" height="9.86" fill="#f8f1f6"/>
<rect x="551.7" y="270.84" width="1.3" height="9.86" fill="#f8f0f6"/>
<rect x="553.0" y="270.84" width="0.8" height="9.86" fill="#faf0f0"/>
<rect x="554.4" y="270.84" width="1.3" height="9.86" fill="#fbf2f3"/>
<rect x="558.0" y="270.84" width="1.0" height="9.86" fill="#faeeee"/>
<rect x="560.6" y="270.84" width="1.0" height="9.86" fill="#f8f1f6"/>
<rect x="562.4" y="270.84" width="0.8" height="9.86" fill="#f5edf6"/>
<rect x="563.2" y="270.84" width="1.6" height="9.86" fill="#f6eef6"/>
<rect x="564.8" y="270.84" width="1.6" height="9.86" fill="#f5ecf5"/>
<rect x="568.0" y="270.84" width="0.6" height="9.86" fill="#f9f2f7"/>
<rect x="572.8" y="270.84" width="0.6" height="9.86" fill="#f6eef6"/>
<rect x="573.40" y="270.84" width="22.00" height="9.86" fill="#faf4f7" shape-rendering="crispEdges"/>
<rect x="575.6" y="270.84" width="1.0" height="9.86" fill="#faf1f1"/>
<rect x="577.2" y="270.84" width="0.6" height="9.86" fill="#fbf5f7"/>
<rect x="578.8" y="270.84" width="0.8" height="9.86" fill="#faf3f7"/>
<rect x="579.6" y="270.84" width="0.8" height="9.86" fill="#f8f1f6"/>
<rect x="580.4" y="270.84" width="0.8" height="9.86" fill="#faf1f2"/>
<rect x="582.2" y="270.84" width="1.0" height="9.86" fill="#faf3f7"/>
<rect x="583.2" y="270.84" width="1.3" height="9.86" fill="#faf0f1"/>
<rect x="585.5" y="270.84" width="1.0" height="9.86" fill="#fbf3f4"/>
<rect x="589.1" y="270.84" width="0.8" height="9.86" fill="#f6eef6"/>
<rect x="593.5" y="270.84" width="0.6" height="9.86" fill="#fbf5f7"/>
<rect x="595.40" y="270.84" width="16.10" height="9.86" fill="#faf4f7" shape-rendering="crispEdges"/>
<rect x="599.0" y="270.84" width="1.3" height="9.86" fill="#fbf3f4"/>
<rect x="600.3" y="270.84" width="0.6" height="9.86" fill="#faf3f7"/>
<rect x="601.7" y="270.84" width="1.3" height="9.86" fill="#f8f0f6"/>
<rect x="607.7" y="270.84" width="1.0" height="9.86" fill="#faf0f0"/>
<rect x="609.3" y="270.84" width="1.0" height="9.86" fill="#fbf4f6"/>
<rect x="611.1" y="270.84" width="0.4" height="9.86" fill="#faf0f0"/>
<rect x="611.50" y="270.84" width="8.90" height="9.86" fill="#faf4f7" shape-rendering="crispEdges"/>
<rect x="620.0" y="270.84" width="0.4" height="9.86" fill="#f7eff6"/>
<rect x="620.40" y="270.84" width="8.10" height="9.86" fill="#f3b1a3" shape-rendering="crispEdges"/>
<rect x="620.4" y="270.84" width="1.0" height="9.86" fill="#ef9584"/>
<rect x="621.4" y="270.84" width="1.6" height="9.86" fill="#ef9482"/>
<rect x="623.0" y="270.84" width="1.6" height="9.86" fill="#f1a393"/>
<rect x="625.9" y="270.84" width="0.6" height="9.86" fill="#ed8b78"/>
<rect x="626.5" y="270.84" width="1.6" height="9.86" fill="#ee907e"/>
<text x="406.00" y="278.27" font-size="7.0" text-anchor="end" fill="#141414" stroke="#141414" stroke-width="0.2" textLength="17.68" lengthAdjust="spacingAndGlyphs">Pdgfra</text>
<line x1="491.50" y1="132.80" x2="491.50" y2="280.70" stroke="#a2a2a6" stroke-width="1" />
<line x1="544.50" y1="132.80" x2="544.50" y2="280.70" stroke="#a2a2a6" stroke-width="1" />
<line x1="573.50" y1="132.80" x2="573.50" y2="280.70" stroke="#a2a2a6" stroke-width="1" />
<line x1="595.50" y1="132.80" x2="595.50" y2="280.70" stroke="#a2a2a6" stroke-width="1" />
<line x1="611.50" y1="132.80" x2="611.50" y2="280.70" stroke="#a2a2a6" stroke-width="1" />
<line x1="620.50" y1="132.80" x2="620.50" y2="280.70" stroke="#a2a2a6" stroke-width="1" />
<line x1="628.50" y1="132.80" x2="628.50" y2="280.70" stroke="#8a8a8a" stroke-width="0.6" />
<text x="635.60" y="147.30" font-size="6.8" fill="#141414" stroke="#141414" stroke-width="0.2" textLength="19.5" lengthAdjust="spacingAndGlyphs">Identity</text>
<circle cx="639.1" cy="153.30" r="1.05" fill="#f06262"/>
<text x="642.70" y="155.40" font-size="6.2" fill="#141414" stroke="#141414" stroke-width="0.2" textLength="23.31" lengthAdjust="spacingAndGlyphs">Excitatory</text>
<circle cx="639.1" cy="160.93" r="1.05" fill="#c8a032"/>
<text x="642.70" y="163.03" font-size="6.2" fill="#141414" stroke="#141414" stroke-width="0.2" textLength="21.54" lengthAdjust="spacingAndGlyphs">Inhibitory</text>
<circle cx="639.1" cy="168.56" r="1.05" fill="#52c832"/>
<text x="642.70" y="170.66" font-size="6.2" fill="#141414" stroke="#141414" stroke-width="0.2" textLength="41.32" lengthAdjust="spacingAndGlyphs">Oligodendrocytes</text>
<circle cx="639.1" cy="176.19" r="1.05" fill="#5cd8a4"/>
<text x="642.70" y="178.29" font-size="6.2" fill="#141414" stroke="#141414" stroke-width="0.2" textLength="24.79" lengthAdjust="spacingAndGlyphs">Astrocytes</text>
<circle cx="639.1" cy="183.82" r="1.05" fill="#5cb0e0"/>
<text x="642.70" y="185.92" font-size="6.2" fill="#141414" stroke="#141414" stroke-width="0.2" textLength="21.24" lengthAdjust="spacingAndGlyphs">Microglia</text>
<circle cx="639.1" cy="191.45" r="1.05" fill="#a890e8"/>
<text x="642.70" y="193.55" font-size="6.2" fill="#141414" stroke="#141414" stroke-width="0.2" textLength="26.27" lengthAdjust="spacingAndGlyphs">Endothelial</text>
<circle cx="639.1" cy="199.08" r="1.05" fill="#d452c2"/>
<text x="642.70" y="201.18" font-size="6.2" fill="#141414" stroke="#141414" stroke-width="0.2" textLength="11.51" lengthAdjust="spacingAndGlyphs">OPC</text>
<text x="635.60" y="217.60" font-size="6.6" fill="#141414" stroke="#141414" stroke-width="0.2" textLength="29.4" lengthAdjust="spacingAndGlyphs">Expression</text>
<defs><linearGradient id="cbar" x1="0" x2="0" y1="0" y2="1"><stop offset="0" stop-color="#dc3424"/><stop offset="0.18" stop-color="#e86850"/><stop offset="0.45" stop-color="#f4b4a8"/><stop offset="0.68" stop-color="#fbeae8"/><stop offset="0.82" stop-color="#faf6f8"/><stop offset="1" stop-color="#e6dcf6"/></linearGradient></defs>
<rect x="635.60" y="220.60" width="6.90" height="38.40" fill="url(#cbar)" />
<text x="644.00" y="223.10" font-size="4.6" fill="#444" stroke="#444" stroke-width="0.2" >2.5</text>
<text x="644.00" y="229.60" font-size="4.6" fill="#444" stroke="#444" stroke-width="0.2" >2.0</text>
<text x="644.00" y="236.10" font-size="4.6" fill="#444" stroke="#444" stroke-width="0.2" >1.5</text>
<text x="644.00" y="242.40" font-size="4.6" fill="#444" stroke="#444" stroke-width="0.2" >1.0</text>
<text x="644.00" y="248.70" font-size="4.6" fill="#444" stroke="#444" stroke-width="0.2" >0.5</text>
<text x="644.00" y="255.20" font-size="4.6" fill="#444" stroke="#444" stroke-width="0.2" >0.0</text>
<text x="0.50" y="307.80" font-size="15" font-weight="bold" fill="#111" stroke="#111" stroke-width="0.1" >e</text>
<line x1="46.50" y1="328.30" x2="46.50" y2="416.60" stroke="#222" stroke-width="1" />
<line x1="42.30" y1="328.50" x2="46.50" y2="328.50" stroke="#222" stroke-width="1" />
<text x="41.60" y="332.11" font-size="10" text-anchor="end" fill="#141414" stroke="#141414" stroke-width="0.2" >1500</text>
<line x1="42.30" y1="357.87" x2="46.50" y2="357.87" stroke="#222" stroke-width="1" />
<text x="41.60" y="361.47" font-size="10" text-anchor="end" fill="#141414" stroke="#141414" stroke-width="0.2" >1000</text>
<line x1="42.30" y1="387.24" x2="46.50" y2="387.24" stroke="#222" stroke-width="1" />
<text x="41.60" y="390.84" font-size="10" text-anchor="end" fill="#141414" stroke="#141414" stroke-width="0.2" >500</text>
<line x1="42.30" y1="416.60" x2="46.50" y2="416.60" stroke="#222" stroke-width="1" />
<text x="41.60" y="420.20" font-size="10" text-anchor="end" fill="#141414" stroke="#141414" stroke-width="0.2" >0</text>
<line x1="46.00" y1="416.50" x2="215.00" y2="416.50" stroke="#222" stroke-width="1" />
<rect x="51.30" y="337.61" width="8.4" height="78.99" fill="#ee7fb0" stroke="#1e1e1e" stroke-width="0.9"/>
<rect x="59.70" y="338.72" width="8.4" height="77.88" fill="#c4c4f2" stroke="#1e1e1e" stroke-width="0.9"/>
<text x="59.60" y="427.50" font-size="11" text-anchor="middle" fill="#141414" stroke="#141414" stroke-width="0.2" textLength="17.67" lengthAdjust="spacingAndGlyphs">Exc</text>
<line x1="59.5" y1="416.5" x2="59.5" y2="420.3" stroke="#222" stroke-width="0.9"/>
<rect x="75.20" y="362.51" width="8.4" height="54.09" fill="#ee7fb0" stroke="#1e1e1e" stroke-width="0.9"/>
<rect x="83.60" y="371.38" width="8.4" height="45.22" fill="#c4c4f2" stroke="#1e1e1e" stroke-width="0.9"/>
<text x="83.50" y="427.50" font-size="11" text-anchor="middle" fill="#141414" stroke="#141414" stroke-width="0.2" textLength="14.73" lengthAdjust="spacingAndGlyphs">Inh</text>
<line x1="83.5" y1="416.5" x2="83.5" y2="420.3" stroke="#222" stroke-width="0.9"/>
<rect x="98.70" y="397.51" width="8.4" height="19.09" fill="#ee7fb0" stroke="#1e1e1e" stroke-width="0.9"/>
<rect x="107.10" y="395.99" width="8.4" height="20.61" fill="#c4c4f2" stroke="#1e1e1e" stroke-width="0.9"/>
<text x="107.00" y="427.50" font-size="11" text-anchor="middle" fill="#141414" stroke="#141414" stroke-width="0.2" textLength="15.32" lengthAdjust="spacingAndGlyphs">Ast</text>
<line x1="107.5" y1="416.5" x2="107.5" y2="420.3" stroke="#222" stroke-width="0.9"/>
<rect x="122.30" y="393.23" width="8.4" height="23.37" fill="#ee7fb0" stroke="#1e1e1e" stroke-width="0.9"/>
<rect x="130.70" y="385.59" width="8.4" height="31.01" fill="#c4c4f2" stroke="#1e1e1e" stroke-width="0.9"/>
<text x="130.60" y="427.50" font-size="11" text-anchor="middle" fill="#141414" stroke="#141414" stroke-width="0.2" textLength="18.85" lengthAdjust="spacingAndGlyphs">Olig</text>
<line x1="130.5" y1="416.5" x2="130.5" y2="420.3" stroke="#222" stroke-width="0.9"/>
<rect x="146.10" y="400.33" width="8.4" height="16.27" fill="#ee7fb0" stroke="#1e1e1e" stroke-width="0.9"/>
<rect x="154.50" y="402.92" width="8.4" height="13.68" fill="#c4c4f2" stroke="#1e1e1e" stroke-width="0.9"/>
<text x="154.40" y="427.50" font-size="11" text-anchor="middle" fill="#141414" stroke="#141414" stroke-width="0.2" textLength="16.48" lengthAdjust="spacingAndGlyphs">Mic</text>
<line x1="154.5" y1="416.5" x2="154.5" y2="420.3" stroke="#222" stroke-width="0.9"/>
<rect x="170.10" y="408.03" width="8.4" height="8.57" fill="#ee7fb0" stroke="#1e1e1e" stroke-width="0.9"/>
<rect x="178.50" y="410.02" width="8.4" height="6.58" fill="#c4c4f2" stroke="#1e1e1e" stroke-width="0.9"/>
<text x="178.40" y="427.50" font-size="11" text-anchor="middle" fill="#141414" stroke="#141414" stroke-width="0.2" textLength="18.86" lengthAdjust="spacingAndGlyphs">End</text>
<line x1="178.5" y1="416.5" x2="178.5" y2="420.3" stroke="#222" stroke-width="0.9"/>
<rect x="194.00" y="409.73" width="8.4" height="6.87" fill="#ee7fb0" stroke="#1e1e1e" stroke-width="0.9"/>
<rect x="202.40" y="408.32" width="8.4" height="8.28" fill="#c4c4f2" stroke="#1e1e1e" stroke-width="0.9"/>
<text x="202.30" y="427.50" font-size="11" text-anchor="middle" fill="#141414" stroke="#141414" stroke-width="0.2" textLength="22.97" lengthAdjust="spacingAndGlyphs">OPC</text>
<line x1="202.5" y1="416.5" x2="202.5" y2="420.3" stroke="#222" stroke-width="0.9"/>
<rect x="87.6" y="318.9" width="8.6" height="7.4" fill="#ee7fb0" stroke="#1e1e1e" stroke-width="0.9"/>
<text x="101.40" y="325.40" font-size="9" fill="#141414" stroke="#141414" stroke-width="0.2" >FXTAS</text>
<rect x="133.6" y="318.9" width="8.6" height="7.4" fill="#c4c4f2" stroke="#1e1e1e" stroke-width="0.9"/>
<text x="147.70" y="325.40" font-size="9" fill="#141414" stroke="#141414" stroke-width="0.2" >CTL</text>
<path d="M78.5,359 V354.5 H90.5 V359" fill="none" stroke="#222" stroke-width="1"/>
<path d="M84.70,345.70L84.70,350.30M82.71,346.85L86.69,349.15M82.71,349.15L86.69,346.85" stroke="#111" stroke-width="1.25" stroke-linecap="round" fill="none"/>
<text x="0" y="0" font-size="9.6" fill="#141414" stroke="#141414" stroke-width="0.2" transform="translate(14.6,405.2) rotate(-90)" textLength="72.4" lengthAdjust="spacingAndGlyphs">Number of Nuclei</text>
<text x="280.10" y="305.10" font-size="10.3" text-anchor="middle" fill="#111" stroke="#111" stroke-width="0.2" >CTL</text>
<text x="321.70" y="305.10" font-size="10.0" text-anchor="middle" fill="#111" stroke="#111" stroke-width="0.2" >FXTAS</text>
<line x1="252.50" y1="309.00" x2="252.50" y2="423.60" stroke="#222" stroke-width="1" />
<line x1="248.30" y1="309.40" x2="252.50" y2="309.40" stroke="#222" stroke-width="1" />
<text x="247.60" y="312.80" font-size="10" text-anchor="end" fill="#141414" stroke="#141414" stroke-width="0.2" textLength="12.7" lengthAdjust="spacingAndGlyphs">1.0</text>
<line x1="248.30" y1="366.50" x2="252.50" y2="366.50" stroke="#222" stroke-width="1" />
<text x="247.60" y="369.90" font-size="10" text-anchor="end" fill="#141414" stroke="#141414" stroke-width="0.2" textLength="12.7" lengthAdjust="spacingAndGlyphs">0.5</text>
<line x1="248.30" y1="423.60" x2="252.50" y2="423.60" stroke="#222" stroke-width="1" />
<text x="247.60" y="427.00" font-size="10" text-anchor="end" fill="#141414" stroke="#141414" stroke-width="0.2" textLength="12.7" lengthAdjust="spacingAndGlyphs">0.0</text>
<line x1="250.00" y1="338.00" x2="252.50" y2="338.00" stroke="#222" stroke-width="1" />
<line x1="250.00" y1="395.00" x2="252.50" y2="395.00" stroke="#222" stroke-width="1" />
<rect x="266.30" y="309.40" width="27.70" height="4.00" fill="#e88c24" />
<rect x="266.30" y="313.40" width="27.70" height="4.40" fill="#e072c9" />
<rect x="266.30" y="317.80" width="27.70" height="8.00" fill="#80b8e0" />
<rect x="266.30" y="325.80" width="27.70" height="11.10" fill="#e06060" />
<rect x="266.30" y="336.90" width="27.70" height="17.50" fill="#d0a9f0" />
<rect x="266.30" y="354.40" width="27.70" height="25.30" fill="#80e4d2" />
<rect x="266.30" y="379.70" width="27.70" height="43.90" fill="#4ccf2c" />
<rect x="308.00" y="309.40" width="27.80" height="4.80" fill="#e88c24" />
<rect x="308.00" y="314.20" width="27.80" height="3.60" fill="#e072c9" />
<rect x="308.00" y="317.80" width="27.80" height="9.10" fill="#80b8e0" />
<rect x="308.00" y="326.90" width="27.80" height="10.50" fill="#e06060" />
<rect x="308.00" y="337.40" width="27.80" height="13.00" fill="#d0a9f0" />
<rect x="308.00" y="350.40" width="27.80" height="29.30" fill="#80e4d2" />
<rect x="308.00" y="379.70" width="27.80" height="43.90" fill="#4ccf2c" />
<line x1="250.50" y1="423.60" x2="349.00" y2="423.60" stroke="#8a8a8a" stroke-width="1.5" />
<rect x="342.80" y="355.40" width="8.80" height="8.20" fill="#4ccf2c" />
<text x="355.20" y="362.90" font-size="10.2" fill="#141414" stroke="#141414" stroke-width="0.2" textLength="14.84" lengthAdjust="spacingAndGlyphs">Exc</text>
<rect x="342.80" y="365.38" width="8.80" height="8.20" fill="#80e4d2" />
<text x="355.20" y="372.88" font-size="10.2" fill="#141414" stroke="#141414" stroke-width="0.2" textLength="12.37" lengthAdjust="spacingAndGlyphs">Inh</text>
<rect x="342.80" y="375.36" width="8.80" height="8.20" fill="#d0a9f0" />
<text x="355.20" y="382.86" font-size="10.2" fill="#141414" stroke="#141414" stroke-width="0.2" textLength="10.88" lengthAdjust="spacingAndGlyphs">Oli</text>
<rect x="342.80" y="385.34" width="8.80" height="8.20" fill="#e06060" />
<text x="355.20" y="392.84" font-size="10.2" fill="#141414" stroke="#141414" stroke-width="0.2" textLength="12.86" lengthAdjust="spacingAndGlyphs">Ast</text>
<rect x="342.80" y="395.32" width="8.80" height="8.20" fill="#80b8e0" />
<text x="355.20" y="402.82" font-size="10.2" fill="#141414" stroke="#141414" stroke-width="0.2" textLength="13.84" lengthAdjust="spacingAndGlyphs">Mic</text>
<rect x="342.80" y="405.30" width="8.80" height="8.20" fill="#e072c9" />
<text x="355.20" y="412.80" font-size="10.2" fill="#141414" stroke="#141414" stroke-width="0.2" textLength="19.29" lengthAdjust="spacingAndGlyphs">OPC</text>
<rect x="342.80" y="415.28" width="8.80" height="8.20" fill="#e88c24" />
<text x="355.20" y="422.78" font-size="10.2" fill="#141414" stroke="#141414" stroke-width="0.2" textLength="15.84" lengthAdjust="spacingAndGlyphs">End</text>
<text x="0" y="0" font-size="9.9" fill="#141414" stroke="#141414" stroke-width="0.2" transform="translate(230.4,387) rotate(-90)">Proportion</text>
<text x="401.50" y="308.60" font-size="16" font-weight="bold" fill="#111" stroke="#111" stroke-width="0.1" >f</text>
<rect x="500.80" y="298.00" width="4.00" height="4.00" fill="#6e78c9" />
<text x="507.00" y="302.40" font-size="9.6" fill="#111" stroke="#111" stroke-width="0.2" >CTL</text>
<rect x="529.30" y="298.00" width="4.00" height="4.00" fill="#ea7b7b" />
<text x="535.50" y="302.40" font-size="9.6" fill="#111" stroke="#111" stroke-width="0.2" textLength="27.9" lengthAdjust="spacingAndGlyphs">FXTAS</text>
<path d="M540.80,307.20L540.80,312.20M538.63,308.45L542.97,310.95M538.63,310.95L542.97,308.45" stroke="#111" stroke-width="1.3" stroke-linecap="round" fill="none"/>
<line x1="436.50" y1="314.30" x2="436.50" y2="414.00" stroke="#222" stroke-width="1" />
<line x1="436.50" y1="314.97" x2="438.80" y2="314.97" stroke="#222" stroke-width="0.9" />
<text x="429.00" y="317.77" font-size="7.9" text-anchor="end" fill="#141414" stroke="#141414" stroke-width="0.2" >100%</text>
<line x1="436.50" y1="334.68" x2="438.80" y2="334.68" stroke="#222" stroke-width="0.9" />
<text x="429.00" y="337.48" font-size="7.9" text-anchor="end" fill="#141414" stroke="#141414" stroke-width="0.2" >80%</text>
<line x1="436.50" y1="354.38" x2="438.80" y2="354.38" stroke="#222" stroke-width="0.9" />
<text x="429.00" y="357.18" font-size="7.9" text-anchor="end" fill="#141414" stroke="#141414" stroke-width="0.2" >60%</text>
<line x1="436.50" y1="374.09" x2="438.80" y2="374.09" stroke="#222" stroke-width="0.9" />
<text x="429.00" y="376.89" font-size="7.9" text-anchor="end" fill="#141414" stroke="#141414" stroke-width="0.2" >40%</text>
<line x1="436.50" y1="393.79" x2="438.80" y2="393.79" stroke="#222" stroke-width="0.9" />
<text x="429.00" y="396.59" font-size="7.9" text-anchor="end" fill="#141414" stroke="#141414" stroke-width="0.2" >20%</text>
<line x1="436.50" y1="413.50" x2="438.80" y2="413.50" stroke="#222" stroke-width="0.9" />
<text x="429.00" y="416.30" font-size="7.9" text-anchor="end" fill="#141414" stroke="#141414" stroke-width="0.2" >0%</text>
<rect x="438.90" y="314.30" width="10.80" height="98.90" fill="#ea7b7b" />
<rect x="438.90" y="362.60" width="10.80" height="50.60" fill="#6e78c9" />
<text x="0" y="0" font-size="7.9" fill="#141414" stroke="#141414" stroke-width="0.2" text-anchor="end" transform="translate(446.05,423.5) rotate(-45)">Exc_1</text>
<rect x="455.00" y="314.30" width="10.80" height="98.90" fill="#ea7b7b" />
<rect x="455.00" y="369.70" width="10.80" height="43.50" fill="#6e78c9" />
<text x="0" y="0" font-size="7.9" fill="#141414" stroke="#141414" stroke-width="0.2" text-anchor="end" transform="translate(462.15,423.5) rotate(-45)">Exc_2</text>
<rect x="471.10" y="314.30" width="10.80" height="98.90" fill="#ea7b7b" />
<rect x="471.10" y="363.80" width="10.80" height="49.40" fill="#6e78c9" />
<text x="0" y="0" font-size="7.9" fill="#141414" stroke="#141414" stroke-width="0.2" text-anchor="end" transform="translate(478.25,423.5) rotate(-45)">Exc_3</text>
<rect x="487.20" y="314.30" width="10.80" height="98.90" fill="#ea7b7b" />
<rect x="487.20" y="359.10" width="10.80" height="54.10" fill="#6e78c9" />
<text x="0" y="0" font-size="7.9" fill="#141414" stroke="#141414" stroke-width="0.2" text-anchor="end" transform="translate(494.35,423.5) rotate(-45)">Exc_4</text>
<rect x="503.30" y="314.30" width="10.80" height="98.90" fill="#ea7b7b" />
<rect x="503.30" y="369.10" width="10.80" height="44.10" fill="#6e78c9" />
<text x="0" y="0" font-size="7.9" fill="#141414" stroke="#141414" stroke-width="0.2" text-anchor="end" transform="translate(510.45,423.5) rotate(-45)">Exc_5</text>
<rect x="519.40" y="314.30" width="10.80" height="98.90" fill="#ea7b7b" />
<rect x="519.40" y="358.20" width="10.80" height="55.00" fill="#6e78c9" />
<text x="0" y="0" font-size="7.9" fill="#141414" stroke="#141414" stroke-width="0.2" text-anchor="end" transform="translate(526.55,423.5) rotate(-45)">Inh_1</text>
<rect x="535.50" y="314.30" width="10.80" height="98.90" fill="#ea7b7b" />
<rect x="535.50" y="378.90" width="10.80" height="34.30" fill="#6e78c9" />
<text x="0" y="0" font-size="7.9" fill="#141414" stroke="#141414" stroke-width="0.2" text-anchor="end" transform="translate(542.65,423.5) rotate(-45)">Inh_2</text>
<rect x="551.60" y="314.30" width="10.80" height="98.90" fill="#ea7b7b" />
<rect x="551.60" y="357.00" width="10.80" height="56.20" fill="#6e78c9" />
<text x="0" y="0" font-size="7.9" fill="#141414" stroke="#141414" stroke-width="0.2" text-anchor="end" transform="translate(558.75,423.5) rotate(-45)">Olig</text>
<rect x="567.70" y="314.30" width="10.80" height="98.90" fill="#ea7b7b" />
<rect x="567.70" y="364.10" width="10.80" height="49.10" fill="#6e78c9" />
<text x="0" y="0" font-size="7.9" fill="#141414" stroke="#141414" stroke-width="0.2" text-anchor="end" transform="translate(574.85,423.5) rotate(-45)">Ast_1</text>
<rect x="583.80" y="314.30" width="10.80" height="98.90" fill="#ea7b7b" />
<rect x="583.80" y="352.30" width="10.80" height="60.90" fill="#6e78c9" />
<text x="0" y="0" font-size="7.9" fill="#141414" stroke="#141414" stroke-width="0.2" text-anchor="end" transform="translate(590.95,423.5) rotate(-45)">Ast_2</text>
<rect x="599.90" y="314.30" width="10.80" height="98.90" fill="#ea7b7b" />
<rect x="599.90" y="368.00" width="10.80" height="45.20" fill="#6e78c9" />
<text x="0" y="0" font-size="7.9" fill="#141414" stroke="#141414" stroke-width="0.2" text-anchor="end" transform="translate(607.05,423.5) rotate(-45)">Mic</text>
<rect x="616.00" y="314.30" width="10.80" height="98.90" fill="#ea7b7b" />
<rect x="616.00" y="370.90" width="10.80" height="42.30" fill="#6e78c9" />
<text x="0" y="0" font-size="7.9" fill="#141414" stroke="#141414" stroke-width="0.2" text-anchor="end" transform="translate(623.15,423.5) rotate(-45)">End</text>
<rect x="632.10" y="314.30" width="10.80" height="98.90" fill="#ea7b7b" />
<rect x="632.10" y="359.10" width="10.80" height="54.10" fill="#6e78c9" />
<text x="0" y="0" font-size="7.9" fill="#141414" stroke="#141414" stroke-width="0.2" text-anchor="end" transform="translate(639.25,423.5) rotate(-45)">OPC</text>
<line x1="436.00" y1="413.80" x2="645.50" y2="413.80" stroke="#2a2a2a" stroke-width="1.2" />
<text x="0" y="0" font-size="7.9" fill="#141414" stroke="#141414" stroke-width="0.2" transform="translate(405.9,381.8) rotate(-90)" textLength="36.3" lengthAdjust="spacingAndGlyphs">Proportion</text></svg></body></html>
